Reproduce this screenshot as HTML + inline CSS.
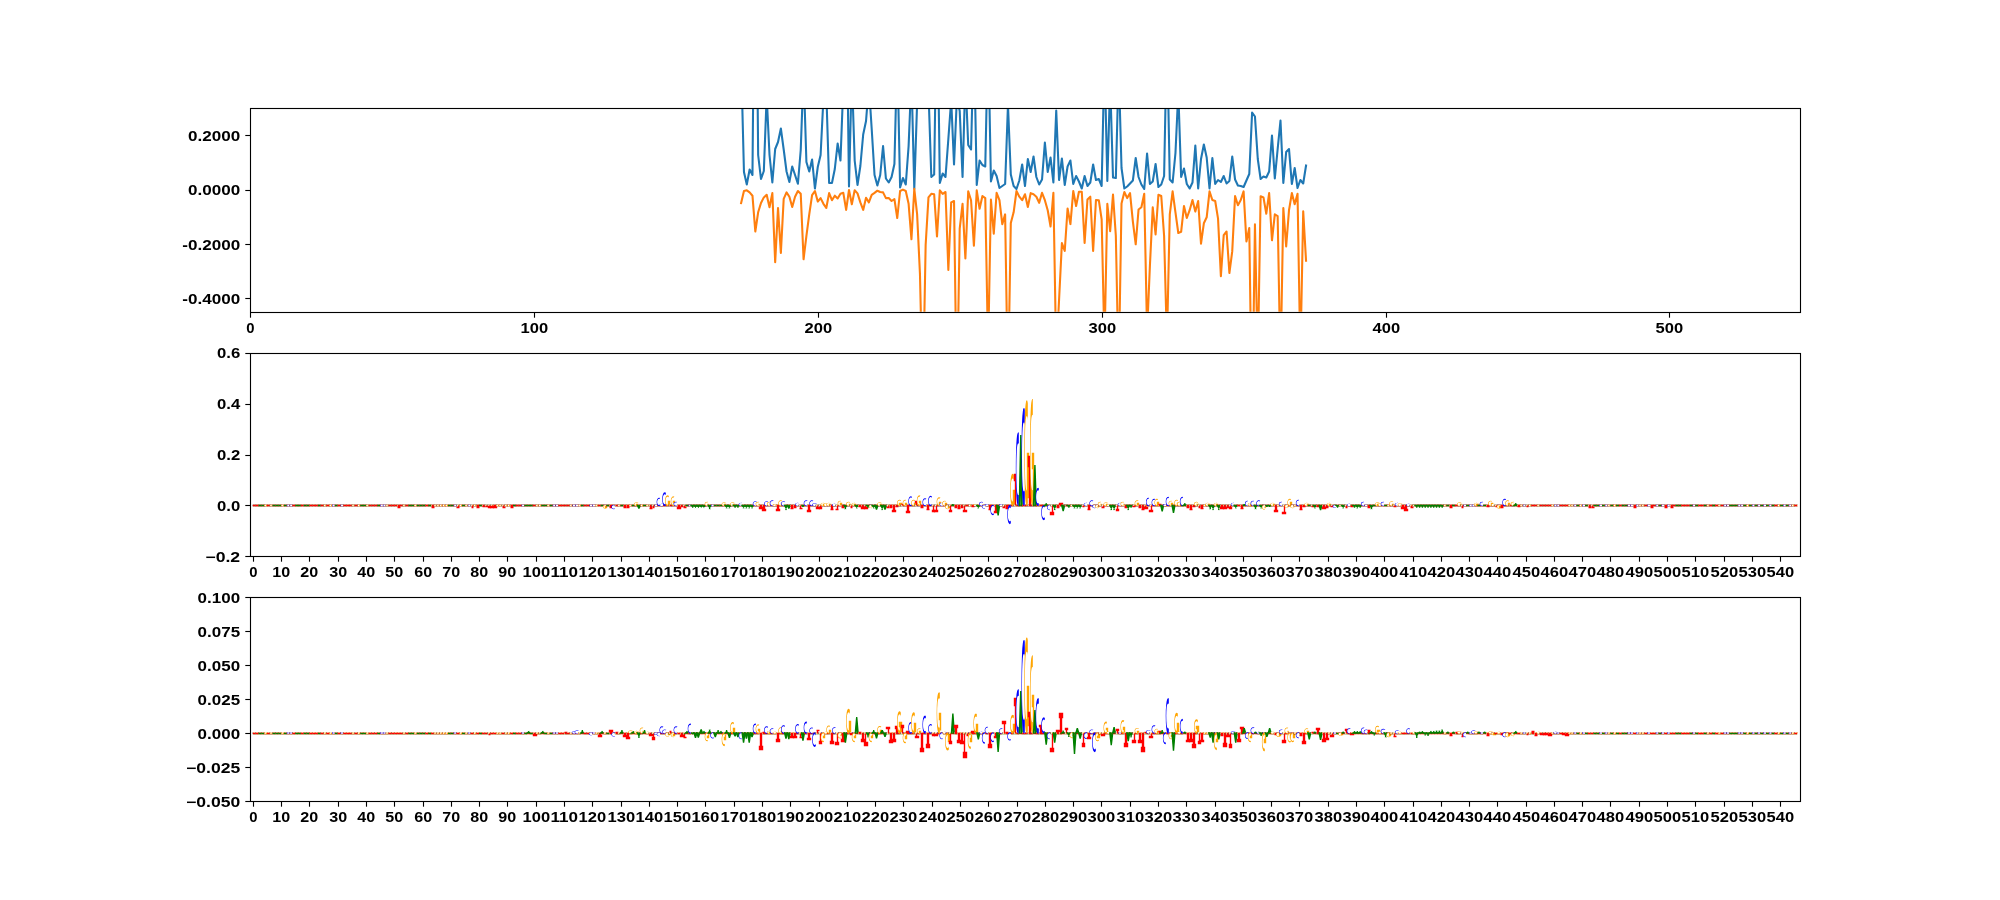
<!DOCTYPE html><html><head><meta charset="utf-8"><title>plot</title><style>html,body{margin:0;padding:0;background:#fff}svg{display:block}text{font-family:"Liberation Sans",sans-serif;font-weight:bold;font-size:13.89px;fill:#000}</style></head><body>
<svg width="2000" height="900" viewBox="0 0 2000 900">
<rect width="2000" height="900" fill="#fff"/>
<defs><clipPath id="c0"><rect x="250" y="108" width="1550" height="203.82"/></clipPath><clipPath id="c1"><rect x="250" y="352.59" width="1550" height="203.82"/></clipPath><clipPath id="c2"><rect x="250" y="597.18" width="1550" height="203.82"/></clipPath><g id="A" stroke-width="1.389"><path d="M0 0L0.5 1L0.5 0.8L0.2 0ZM1 0L0.5 1L0.5 0.8L0.8 0ZM0.225 0.45L0.775 0.45L0.85 0.3L0.15 0.3Z" fill="#008000" stroke="#008000" vector-effect="non-scaling-stroke"/></g><g id="C" stroke-width="1.389"><path d="M0 0.5A0.65 0.5 0 1 0 1.3 0.5A0.65 0.5 0 1 0 0 0.5Z" fill="#0000ff" stroke="#0000ff" vector-effect="non-scaling-stroke"/><path d="M0.195 0.5A0.455 0.35 0 1 0 1.105 0.5A0.455 0.35 0 1 0 0.195 0.5ZM1 0L2 0L2 1L1 1Z" fill="#fff" stroke="#fff" vector-effect="non-scaling-stroke"/></g><g id="G" stroke-width="1.389"><path d="M0 0.5A0.65 0.5 0 1 0 1.3 0.5A0.65 0.5 0 1 0 0 0.5Z" fill="#ffa500" stroke="#ffa500" vector-effect="non-scaling-stroke"/><path d="M0.195 0.5A0.455 0.35 0 1 0 1.105 0.5A0.455 0.35 0 1 0 0.195 0.5ZM1 0L2 0L2 1L1 1Z" fill="#fff" stroke="#fff" vector-effect="non-scaling-stroke"/><path d="M0.825 0.085L0.999 0.085L0.999 0.5L0.825 0.5ZM0.625 0.35L0.999 0.35L0.999 0.5L0.625 0.5Z" fill="#ffa500" stroke="#ffa500" vector-effect="non-scaling-stroke"/></g><g id="T" stroke-width="1.389"><path d="M0.4 0L0.6 0L0.6 1L0.4 1ZM0 0.8L1 0.8L1 1L0 1Z" fill="#ff0000" stroke="#ff0000" vector-effect="non-scaling-stroke"/></g><g id="Ce" stroke-width="1.389"><path d="M0 0.5A0.65 0.5 0 1 0 1.3 0.5A0.65 0.5 0 1 0 0 0.5Z" fill="#0000ff" stroke="#0000ff" vector-effect="non-scaling-stroke"/><path d="M0.195 0.5A0.455 0.35 0 1 0 1.105 0.5A0.455 0.35 0 1 0 0.195 0.5Z" fill="#fff" stroke="#fff" vector-effect="non-scaling-stroke"/></g><g id="Ge" stroke-width="1.389"><path d="M0 0.5A0.65 0.5 0 1 0 1.3 0.5A0.65 0.5 0 1 0 0 0.5Z" fill="#ffa500" stroke="#ffa500" vector-effect="non-scaling-stroke"/><path d="M0.195 0.5A0.455 0.35 0 1 0 1.105 0.5A0.455 0.35 0 1 0 0.195 0.5Z" fill="#fff" stroke="#fff" vector-effect="non-scaling-stroke"/></g><g id="u1A" stroke-width="1.389" fill="none"><path d="M0 -0.04H3.68" stroke="#0000ff"/><path d="M0.55 -0.04H3.13" stroke="#fff"/><path d="M2.83 0H5.66" stroke="#fff"/><path d="M0 -0.04H3.68" stroke="#ffa500"/><path d="M0.55 -0.04H3.13" stroke="#fff"/><path d="M2.83 0H5.66" stroke="#fff"/><path d="M1.77 0H2.83" stroke="#ffa500"/><path d="M0 0H2.83" stroke="#ff0000"/></g><g id="f1A" stroke-width="1.389" fill="none"><path d="M0 -0.04H3.68" stroke="#0000ff"/><path d="M0.55 -0.04H3.13" stroke="#fff"/><path d="M2.83 0H5.66" stroke="#fff"/><path d="M0 -0.04H3.68" stroke="#ffa500"/><path d="M0.55 -0.04H3.13" stroke="#fff"/><path d="M2.83 0H5.66" stroke="#fff"/><path d="M1.77 0H2.83" stroke="#ffa500"/><path d="M0 0H2.83" stroke="#ff0000"/><path d="M0 0H2.83" stroke="#008000"/></g><g id="u1C" stroke-width="1.389" fill="none"><path d="M0 0H2.83" stroke="#008000"/><path d="M0 -0.04H3.68" stroke="#ffa500"/><path d="M0.55 -0.04H3.13" stroke="#fff"/><path d="M2.83 0H5.66" stroke="#fff"/><path d="M1.77 0H2.83" stroke="#ffa500"/><path d="M0 0H2.83" stroke="#ff0000"/></g><g id="f1C" stroke-width="1.389" fill="none"><path d="M0 0H2.83" stroke="#008000"/><path d="M0 -0.04H3.68" stroke="#ffa500"/><path d="M0.55 -0.04H3.13" stroke="#fff"/><path d="M2.83 0H5.66" stroke="#fff"/><path d="M1.77 0H2.83" stroke="#ffa500"/><path d="M0 0H2.83" stroke="#ff0000"/><path d="M0 -0.04H3.68" stroke="#0000ff"/><path d="M0.55 -0.04H3.13" stroke="#fff"/><path d="M2.83 0H5.66" stroke="#fff"/></g><g id="u1G" stroke-width="1.389" fill="none"><path d="M0 0H2.83" stroke="#008000"/><path d="M0 -0.04H3.68" stroke="#0000ff"/><path d="M0.55 -0.04H3.13" stroke="#fff"/><path d="M2.83 0H5.66" stroke="#fff"/><path d="M0 0H2.83" stroke="#ff0000"/></g><g id="f1G" stroke-width="1.389" fill="none"><path d="M0 0H2.83" stroke="#008000"/><path d="M0 -0.04H3.68" stroke="#0000ff"/><path d="M0.55 -0.04H3.13" stroke="#fff"/><path d="M2.83 0H5.66" stroke="#fff"/><path d="M0 0H2.83" stroke="#ff0000"/><path d="M0 -0.04H3.68" stroke="#ffa500"/><path d="M0.55 -0.04H3.13" stroke="#fff"/><path d="M2.83 0H5.66" stroke="#fff"/><path d="M1.77 0H2.83" stroke="#ffa500"/></g><g id="u1T" stroke-width="1.389" fill="none"><path d="M0 0H2.83" stroke="#008000"/><path d="M0 -0.04H3.68" stroke="#0000ff"/><path d="M0.55 -0.04H3.13" stroke="#fff"/><path d="M2.83 0H5.66" stroke="#fff"/><path d="M0 -0.04H3.68" stroke="#ffa500"/><path d="M0.55 -0.04H3.13" stroke="#fff"/><path d="M2.83 0H5.66" stroke="#fff"/><path d="M1.77 0H2.83" stroke="#ffa500"/></g><g id="f1T" stroke-width="1.389" fill="none"><path d="M0 0H2.83" stroke="#008000"/><path d="M0 -0.04H3.68" stroke="#0000ff"/><path d="M0.55 -0.04H3.13" stroke="#fff"/><path d="M2.83 0H5.66" stroke="#fff"/><path d="M0 -0.04H3.68" stroke="#ffa500"/><path d="M0.55 -0.04H3.13" stroke="#fff"/><path d="M2.83 0H5.66" stroke="#fff"/><path d="M1.77 0H2.83" stroke="#ffa500"/><path d="M0 0H2.83" stroke="#ff0000"/></g><g id="u2A" stroke-width="1.389" fill="none"><path d="M0 -0.44H3.68" stroke="#0000ff"/><path d="M0.55 -0.44H3.13" stroke="#fff"/><path d="M2.83 0H5.66" stroke="#fff"/><path d="M0 -0.44H3.68" stroke="#ffa500"/><path d="M0.55 -0.44H3.13" stroke="#fff"/><path d="M2.83 0H5.66" stroke="#fff"/><path d="M1.77 0H2.83" stroke="#ffa500"/><path d="M0 0H2.83" stroke="#ff0000"/></g><g id="f2A" stroke-width="1.389" fill="none"><path d="M0 -0.44H3.68" stroke="#0000ff"/><path d="M0.55 -0.44H3.13" stroke="#fff"/><path d="M2.83 0H5.66" stroke="#fff"/><path d="M0 -0.44H3.68" stroke="#ffa500"/><path d="M0.55 -0.44H3.13" stroke="#fff"/><path d="M2.83 0H5.66" stroke="#fff"/><path d="M1.77 0H2.83" stroke="#ffa500"/><path d="M0 0H2.83" stroke="#ff0000"/><path d="M0 0H2.83" stroke="#008000"/></g><g id="u2C" stroke-width="1.389" fill="none"><path d="M0 0H2.83" stroke="#008000"/><path d="M0 -0.44H3.68" stroke="#ffa500"/><path d="M0.55 -0.44H3.13" stroke="#fff"/><path d="M2.83 0H5.66" stroke="#fff"/><path d="M1.77 0H2.83" stroke="#ffa500"/><path d="M0 0H2.83" stroke="#ff0000"/></g><g id="f2C" stroke-width="1.389" fill="none"><path d="M0 0H2.83" stroke="#008000"/><path d="M0 -0.44H3.68" stroke="#ffa500"/><path d="M0.55 -0.44H3.13" stroke="#fff"/><path d="M2.83 0H5.66" stroke="#fff"/><path d="M1.77 0H2.83" stroke="#ffa500"/><path d="M0 0H2.83" stroke="#ff0000"/><path d="M0 -0.44H3.68" stroke="#0000ff"/><path d="M0.55 -0.44H3.13" stroke="#fff"/><path d="M2.83 0H5.66" stroke="#fff"/></g><g id="u2G" stroke-width="1.389" fill="none"><path d="M0 0H2.83" stroke="#008000"/><path d="M0 -0.44H3.68" stroke="#0000ff"/><path d="M0.55 -0.44H3.13" stroke="#fff"/><path d="M2.83 0H5.66" stroke="#fff"/><path d="M0 0H2.83" stroke="#ff0000"/></g><g id="f2G" stroke-width="1.389" fill="none"><path d="M0 0H2.83" stroke="#008000"/><path d="M0 -0.44H3.68" stroke="#0000ff"/><path d="M0.55 -0.44H3.13" stroke="#fff"/><path d="M2.83 0H5.66" stroke="#fff"/><path d="M0 0H2.83" stroke="#ff0000"/><path d="M0 -0.44H3.68" stroke="#ffa500"/><path d="M0.55 -0.44H3.13" stroke="#fff"/><path d="M2.83 0H5.66" stroke="#fff"/><path d="M1.77 0H2.83" stroke="#ffa500"/></g><g id="u2T" stroke-width="1.389" fill="none"><path d="M0 0H2.83" stroke="#008000"/><path d="M0 -0.44H3.68" stroke="#0000ff"/><path d="M0.55 -0.44H3.13" stroke="#fff"/><path d="M2.83 0H5.66" stroke="#fff"/><path d="M0 -0.44H3.68" stroke="#ffa500"/><path d="M0.55 -0.44H3.13" stroke="#fff"/><path d="M2.83 0H5.66" stroke="#fff"/><path d="M1.77 0H2.83" stroke="#ffa500"/></g><g id="f2T" stroke-width="1.389" fill="none"><path d="M0 0H2.83" stroke="#008000"/><path d="M0 -0.44H3.68" stroke="#0000ff"/><path d="M0.55 -0.44H3.13" stroke="#fff"/><path d="M2.83 0H5.66" stroke="#fff"/><path d="M0 -0.44H3.68" stroke="#ffa500"/><path d="M0.55 -0.44H3.13" stroke="#fff"/><path d="M2.83 0H5.66" stroke="#fff"/><path d="M1.77 0H2.83" stroke="#ffa500"/><path d="M0 0H2.83" stroke="#ff0000"/></g></defs>
<g clip-path="url(#c0)" fill="none" stroke-width="2.083" stroke-linejoin="round" stroke-linecap="square">
<path d="M741.12 60L743.96 172L746.79 184.5L749.63 169.5L752.47 175L755.31 -150L758.15 155L760.99 179L763.83 171L766.67 96L769.51 155L772.34 182.5L775.18 149L778.02 142L780.86 128.5L783.7 149.5L786.54 171.5L789.38 182L792.22 166.5L795.05 175L797.89 183.8L800.73 150L803.57 71L806.41 162L809.25 171.5L812.09 159.5L814.93 188.5L817.77 167L820.6 155L823.44 98L826.28 91L829.12 183L831.96 183L834.8 169L837.64 143.5L840.48 160.5L843.32 85L846.15 -33L848.99 186.5L851.83 72L854.67 160.5L857.51 185L860.35 166L863.19 134.5L866.03 121L868.86 85L871.7 129L874.54 175L877.38 185.5L880.22 175L883.06 146L885.9 178.5L888.74 182.5L891.58 177L894.41 164L897.25 51L900.09 187.5L902.93 178L905.77 184.5L908.61 146L911.45 76L914.29 189L917.12 103L919.96 40L922.8 20L925.64 30L928.48 91L931.32 177L934.16 174.5L937 -20L939.84 183L942.67 173.5L945.51 177L948.35 139L951.19 100L954.03 164.5L956.87 98L959.71 111L962.55 177L965.38 77L968.22 145L971.06 149.5L973.9 35L976.74 185L979.58 160.5L982.42 165L985.26 166.5L988.1 32L990.93 181.5L993.77 170.5L996.61 176L999.45 188L1002.29 186L1005.13 184L1007.97 105L1010.81 174.5L1013.64 186L1016.48 189L1019.32 180.5L1022.16 164.5L1025 186L1027.84 159L1030.68 172L1033.52 156.5L1036.36 177L1039.19 184.5L1042.03 179.5L1044.87 142.5L1047.71 172L1050.55 157.5L1053.39 182.5L1056.23 110.5L1059.07 180L1061.9 158.5L1064.74 185L1067.58 166.5L1070.42 160.5L1073.26 184L1076.1 176L1078.94 181.5L1081.78 188.5L1084.62 176L1087.45 186L1090.29 182.5L1093.13 164.5L1095.97 180L1098.81 179L1101.65 186L1104.49 56L1107.33 181L1110.16 82L1113 177.5L1115.84 178L1118.68 66L1121.52 168L1124.36 188.5L1127.2 186.5L1130.04 183.5L1132.88 180.5L1135.71 158L1138.55 177L1141.39 184.5L1144.23 189L1147.07 153.5L1149.91 184L1152.75 181.5L1155.59 164L1158.42 187L1161.26 184.5L1164.1 176L1166.94 31L1169.78 179.5L1172.62 182.5L1175.46 153L1178.3 92L1181.14 177L1183.97 168.5L1186.81 184L1189.65 188.5L1192.49 182.5L1195.33 145.5L1198.17 188.5L1201.01 159L1203.85 144.5L1206.68 157.5L1209.52 188.5L1212.36 158L1215.2 184L1218.04 180L1220.88 182L1223.72 176L1226.56 183.5L1229.4 181L1232.23 156.5L1235.07 179.5L1237.91 185.5L1240.75 186L1243.59 187L1246.43 180.5L1249.27 174L1252.11 112.5L1254.95 116.5L1257.78 159L1260.62 179L1263.46 176.5L1266.3 177.5L1269.14 171.5L1271.98 135.5L1274.82 178.5L1277.66 149L1280.49 120.5L1283.33 183L1286.17 152L1289.01 149L1291.85 184L1294.69 168L1297.53 188L1300.37 180L1303.21 183.5L1306.04 165.5" stroke="#1f77b4"/>
<path d="M741.12 203.1L743.96 191L746.79 190.3L749.63 192.4L752.47 195.7L755.31 231.5L758.15 212.3L760.99 203L763.83 197.4L766.67 194.8L769.51 207.3L772.34 193.1L775.18 262.1L778.02 208L780.86 252.9L783.7 198.8L786.54 192.4L789.38 196.7L792.22 207L795.05 196.7L797.89 191L800.73 193.8L803.57 259.3L806.41 235.8L809.25 214.4L812.09 195.2L814.93 191L817.77 201.6L820.6 198.1L823.44 203.8L826.28 208L829.12 193.1L831.96 200.2L834.8 195.7L837.64 198.5L840.48 193.8L843.32 192.8L846.15 209.9L848.99 190L851.83 204.2L854.67 190.3L857.51 193.4L860.35 202.4L863.19 209.9L866.03 197.7L868.86 202.4L871.7 194.8L874.54 192.8L877.38 190.7L880.22 192L883.06 192.4L885.9 198.1L888.74 198.1L891.58 201L894.41 199.1L897.25 218L900.09 191L902.93 189.6L905.77 191L908.61 203.8L911.45 239.3L914.29 188.8L917.12 214.4L919.96 274L922.8 400L925.64 245L928.48 197.4L931.32 193.8L934.16 194.3L937 236.5L939.84 190.3L942.67 193.8L945.51 192L948.35 270L951.19 202.4L954.03 201L956.87 406L959.71 228.7L962.55 203.8L965.38 258.5L968.22 191.4L971.06 200.2L973.9 245.7L976.74 190.3L979.58 208.8L982.42 196L985.26 198.1L988.1 352.4L990.93 199.5L993.77 233.7L996.61 192.8L999.45 200.2L1002.29 224.1L1005.13 214.4L1007.97 392L1010.81 223L1013.64 212.3L1016.48 191L1019.32 196.7L1022.16 200.2L1025 194.3L1027.84 207L1030.68 193.1L1033.52 194.3L1036.36 196.7L1039.19 202.8L1042.03 192.8L1044.87 200.2L1047.71 210.2L1050.55 226.5L1053.39 192.8L1056.23 357L1059.07 299.8L1061.9 243L1064.74 251L1067.58 208.5L1070.42 224.1L1073.26 191L1076.1 206L1078.94 191.7L1081.78 191.7L1084.62 243L1087.45 199.5L1090.29 196.7L1093.13 251L1095.97 200L1098.81 200.2L1101.65 219.4L1104.49 345.3L1107.33 203.8L1110.16 231.2L1113 194.5L1115.84 235.8L1118.68 375L1121.52 203.5L1124.36 192L1127.2 198.1L1130.04 193.1L1132.88 221.6L1135.71 244.3L1138.55 209.5L1141.39 207.3L1144.23 193.8L1147.07 332.5L1149.91 265.7L1152.75 207.3L1155.59 234.4L1158.42 194.8L1161.26 196L1164.1 235.8L1166.94 342.5L1169.78 214.4L1172.62 191.4L1175.46 212.3L1178.3 233L1181.14 231.8L1183.97 206L1186.81 218L1189.65 210.2L1192.49 200L1195.33 211.6L1198.17 201L1201.01 243.6L1203.85 223.3L1206.68 217.3L1209.52 191.4L1212.36 200L1215.2 201L1218.04 218.7L1220.88 276.3L1223.72 235.1L1226.56 231.5L1229.4 273L1232.23 251.4L1235.07 196L1237.91 205.2L1240.75 200L1243.59 191.4L1246.43 241.5L1249.27 228L1252.11 428L1254.95 224.4L1257.78 364L1260.62 196.2L1263.46 197.4L1266.3 213.7L1269.14 193.1L1271.98 240.3L1274.82 214.4L1277.66 216.2L1280.49 369.5L1283.33 208L1286.17 246.5L1289.01 210.2L1291.85 193.1L1294.69 204.2L1297.53 193.8L1300.37 358L1303.21 211.3L1306.04 260.7" stroke="#ff7f0e"/>
</g>
<rect x="250.5" y="108.5" width="1550" height="204" fill="none" stroke="#000" stroke-width="1.111"/>
<path d="M250.5 312.5v5.2" stroke="#000" stroke-width="1.111"/>
<path d="M534.5 312.5v5.2" stroke="#000" stroke-width="1.111"/>
<path d="M818.5 312.5v5.2" stroke="#000" stroke-width="1.111"/>
<path d="M1102.5 312.5v5.2" stroke="#000" stroke-width="1.111"/>
<path d="M1386.5 312.5v5.2" stroke="#000" stroke-width="1.111"/>
<path d="M1669.5 312.5v5.2" stroke="#000" stroke-width="1.111"/>
<path d="M250.5 135.5h-5.2" stroke="#000" stroke-width="1.111"/>
<path d="M250.5 190.5h-5.2" stroke="#000" stroke-width="1.111"/>
<path d="M250.5 244.5h-5.2" stroke="#000" stroke-width="1.111"/>
<path d="M250.5 298.5h-5.2" stroke="#000" stroke-width="1.111"/>
<g clip-path="url(#c1)" stroke-width="1.389"><use href="#f1T" x="252.83" y="505.5"/><use href="#f1T" x="255.66" y="505.5"/><use href="#f1A" x="258.49" y="505.5"/><use href="#f1A" x="261.31" y="505.5"/><use href="#f1G" x="264.14" y="505.5"/><use href="#f1T" x="266.97" y="505.5"/><use href="#f1G" x="269.8" y="505.5"/><use href="#f1A" x="272.63" y="505.5"/><use href="#f1A" x="275.46" y="505.5"/><use href="#f1A" x="278.28" y="505.5"/><use href="#f1G" x="281.11" y="505.5"/><use href="#f1A" x="283.94" y="505.5"/><use href="#f1C" x="286.77" y="505.5"/><use href="#f1C" x="289.6" y="505.5"/><use href="#f1T" x="292.43" y="505.5"/><use href="#f1A" x="295.26" y="505.5"/><use href="#f1A" x="298.08" y="505.5"/><use href="#f1T" x="300.91" y="505.5"/><use href="#f1A" x="303.74" y="505.5"/><use href="#f1A" x="306.57" y="505.5"/><use href="#f1T" x="309.4" y="505.5"/><use href="#f1T" x="312.23" y="505.5"/><use href="#f1T" x="315.05" y="505.5"/><use href="#f1A" x="317.88" y="505.5"/><use href="#f1T" x="320.71" y="505.5"/><use href="#f1G" x="323.54" y="505.5"/><use href="#f1T" x="326.37" y="505.5"/><use href="#f1G" x="329.2" y="505.5"/><use href="#f1C" x="332.03" y="505.5"/><use href="#f1A" x="334.85" y="505.5"/><use href="#f1T" x="337.68" y="505.5"/><use href="#f1C" x="340.51" y="505.5"/><use href="#f1T" x="343.34" y="505.5"/><use href="#f1T" x="346.17" y="505.5"/><use href="#f1T" x="349" y="505.5"/><use href="#f1G" x="351.82" y="505.5"/><use href="#f1T" x="354.65" y="505.5"/><use href="#f1G" x="357.48" y="505.5"/><use href="#f1A" x="360.31" y="505.5"/><use href="#f1A" x="363.14" y="505.5"/><use href="#f1G" x="365.97" y="505.5"/><use href="#f1T" x="368.8" y="505.5"/><use href="#f1T" x="371.62" y="505.5"/><use href="#f1T" x="374.45" y="505.5"/><use href="#f1A" x="377.28" y="505.5"/><use href="#f1C" x="380.11" y="505.5"/><use href="#f1C" x="382.94" y="505.5"/><use href="#f1G" x="385.77" y="505.5"/><use href="#f1T" x="388.59" y="505.5"/><use href="#f1T" x="391.42" y="505.5"/><use href="#f1T" x="394.25" y="505.5"/><use href="#u1T" x="397.08" y="505.5"/><path d="M398.5 505.5H399.5V507.5H398.5ZM397.5 507.5H400.5" fill="#ff0000" stroke="#ff0000"/><use href="#f1T" x="399.91" y="505.5"/><use href="#f1G" x="402.74" y="505.5"/><use href="#f1T" x="405.57" y="505.5"/><use href="#f1A" x="408.39" y="505.5"/><use href="#f1A" x="411.22" y="505.5"/><use href="#f1G" x="414.05" y="505.5"/><use href="#f1A" x="416.88" y="505.5"/><use href="#f1A" x="419.71" y="505.5"/><use href="#f1A" x="422.54" y="505.5"/><use href="#f1T" x="425.36" y="505.5"/><use href="#f1A" x="428.19" y="505.5"/><use href="#u1T" x="431.02" y="505.5"/><path d="M432.5 505.5H433.5V507.5H432.5ZM431.5 507.5H434.5" fill="#ff0000" stroke="#ff0000"/><use href="#f1G" x="433.85" y="505.5"/><use href="#f1G" x="436.68" y="505.5"/><use href="#f1G" x="439.51" y="505.5"/><use href="#f1G" x="442.34" y="505.5"/><use href="#f1G" x="445.16" y="505.5"/><use href="#f1A" x="447.99" y="505.5"/><use href="#f1A" x="450.82" y="505.5"/><use href="#f1C" x="453.65" y="505.5"/><use href="#u1T" x="456.48" y="505.5"/><path d="M458.5 505.5V507.5M456.5 507.5H459.5" fill="#ff0000" stroke="#ff0000"/><use href="#f1G" x="459.31" y="505.5"/><use href="#f1A" x="462.14" y="505.5"/><use href="#f1G" x="464.96" y="505.5"/><use href="#f1C" x="467.79" y="505.5"/><use href="#u1T" x="470.62" y="505.5"/><path d="M472.5 505.5V507.5M471.5 507.5H473.5" fill="#ff0000" stroke="#ff0000"/><use href="#f1G" x="473.45" y="505.5"/><use href="#u1T" x="476.28" y="505.5"/><path d="M477.5 505.5H478.5V507.5H477.5ZM476.5 507.5H479.5" fill="#ff0000" stroke="#ff0000"/><use href="#f1A" x="479.11" y="505.5"/><use href="#u1T" x="481.93" y="505.5"/><path d="M483.5 505.5H484.5V506.5H483.5ZM482.5 506.5H485.5" fill="#ff0000" stroke="#ff0000"/><use href="#u1T" x="484.76" y="505.5"/><path d="M486.5 505.5V506.5M485.5 506.5H488.5" fill="#ff0000" stroke="#ff0000"/><use href="#u1T" x="487.59" y="505.5"/><path d="M489.5 505.5V507.5M488.5 506.5H490.5V507.5H488.5Z" fill="#ff0000" stroke="#ff0000"/><use href="#u1T" x="490.42" y="505.5"/><path d="M492.5 505.5V507.5M490.5 506.5H493.5V507.5H490.5Z" fill="#ff0000" stroke="#ff0000"/><use href="#u1T" x="493.25" y="505.5"/><path d="M494.5 505.5H495.5V507.5H494.5ZM493.5 506.5H496.5V507.5H493.5Z" fill="#ff0000" stroke="#ff0000"/><use href="#f1G" x="496.08" y="505.5"/><use href="#f1G" x="498.91" y="505.5"/><use href="#u1T" x="501.73" y="505.5"/><path d="M503.5 505.5V507.5M502.5 507.5H505.5" fill="#ff0000" stroke="#ff0000"/><use href="#f1G" x="504.56" y="505.5"/><use href="#f1G" x="507.39" y="505.5"/><use href="#u1T" x="510.22" y="505.5"/><path d="M511.5 505.5H512.5V507.5H511.5ZM510.5 507.5H513.5" fill="#ff0000" stroke="#ff0000"/><use href="#f1A" x="513.05" y="505.5"/><use href="#f1T" x="515.88" y="505.5"/><use href="#f1T" x="518.7" y="505.5"/><use href="#f1C" x="521.53" y="505.5"/><use href="#f1A" x="524.36" y="505.5"/><use href="#f1A" x="527.19" y="505.5"/><use href="#f1A" x="530.02" y="505.5"/><use href="#f1T" x="532.85" y="505.5"/><use href="#f1G" x="535.68" y="505.5"/><use href="#f1G" x="538.5" y="505.5"/><use href="#f1A" x="541.33" y="505.5"/><use href="#f1A" x="544.16" y="505.5"/><use href="#f1G" x="546.99" y="505.5"/><use href="#f1A" x="549.82" y="505.5"/><use href="#f1C" x="552.65" y="505.5"/><use href="#f1C" x="555.47" y="505.5"/><use href="#f1T" x="558.3" y="505.5"/><use href="#f1T" x="561.13" y="505.5"/><use href="#f1T" x="563.96" y="505.5"/><use href="#f1T" x="566.79" y="505.5"/><use href="#f1G" x="569.62" y="505.5"/><use href="#f1C" x="572.45" y="505.5"/><use href="#f1C" x="575.27" y="505.5"/><use href="#f1G" x="578.1" y="505.5"/><use href="#f1A" x="580.93" y="505.5"/><use href="#f1T" x="583.76" y="505.5"/><use href="#f1T" x="586.59" y="505.5"/><use href="#f1C" x="589.42" y="505.5"/><use href="#f1C" x="592.24" y="505.5"/><use href="#f1G" x="595.07" y="505.5"/><use href="#f1T" x="597.9" y="505.5"/><use href="#f1A" x="600.73" y="505.5"/><use href="#u1G" x="603.56" y="505.5"/><use href="#Ge" transform="matrix(2.83 0 0 2.5 603.56 505.46)"/><path d="M606.5 505.5H609.5V508.5H606.5Z" fill="#fff" stroke="#fff"/><path d="M606.5 506.5V507.5M605.5 506.5H606.5V507.5H605.5Z" fill="#ffa500" stroke="#ffa500"/><use href="#f1A" x="606.39" y="505.5"/><use href="#u1T" x="609.22" y="505.5"/><path d="M610.5 505.5H611.5V507.5H610.5ZM609.5 507.5H612.5" fill="#ff0000" stroke="#ff0000"/><use href="#u1C" x="612.04" y="505.5"/><use href="#Ce" transform="matrix(2.83 0 0 3 612.04 505.46)"/><path d="M615.5 505.5H618.5V508.5H615.5Z" fill="#fff" stroke="#fff"/><use href="#u1T" x="614.87" y="505.5"/><path d="M616.5 505.5H617.5M615.5 505.5H618.5" fill="#ff0000" stroke="#ff0000"/><use href="#f1G" x="617.7" y="505.5"/><use href="#f1A" x="620.53" y="505.5"/><use href="#u1T" x="623.36" y="505.5"/><path d="M624.5 505.5H625.5V507.5H624.5ZM623.5 507.5H626.5" fill="#ff0000" stroke="#ff0000"/><use href="#u1T" x="626.19" y="505.5"/><path d="M627.5 505.5H628.5V507.5H627.5ZM626.5 507.5H629.5" fill="#ff0000" stroke="#ff0000"/><use href="#f1G" x="629.01" y="505.5"/><use href="#f1A" x="631.84" y="505.5"/><use href="#u1G" x="634.67" y="505.5"/><use href="#Ge" transform="matrix(2.83 0 0 -2.5 634.67 505.46)"/><path d="M638.5 505.5H640.5V503.5H638.5Z" fill="#fff" stroke="#fff"/><path d="M637.5 505.5V504.5M636.5 505.5H637.5V504.5H636.5Z" fill="#ffa500" stroke="#ffa500"/><use href="#u1A" x="637.5" y="505.5"/><use href="#A" transform="matrix(2.83 0 0 3 637.5 505.46)"/><use href="#f1G" x="640.33" y="505.5"/><use href="#f1A" x="643.16" y="505.5"/><use href="#f1G" x="645.99" y="505.5"/><use href="#u1T" x="648.81" y="505.5"/><path d="M650.5 505.5H651.5V508.5H650.5ZM649.5 508.5H652.5" fill="#ff0000" stroke="#ff0000"/><use href="#u1T" x="651.64" y="505.5"/><path d="M653.5 505.5V507.5M652.5 507.5H654.5" fill="#ff0000" stroke="#ff0000"/><use href="#f1C" x="654.47" y="505.5"/><use href="#u1C" x="657.3" y="505.5"/><use href="#Ce" transform="matrix(2.83 0 0 -7 657.3 505.46)"/><path d="M660.5 505.5H663.5V498.5H660.5Z" fill="#fff" stroke="#fff"/><use href="#u1C" x="660.13" y="505.5"/><use href="#Ce" transform="matrix(2.83 0 0 -1 660.13 505.46)"/><path d="M663.5 505.5H666.5V504.5H663.5Z" fill="#fff" stroke="#fff"/><use href="#u1C" x="662.96" y="505.5"/><use href="#Ce" transform="matrix(2.83 0 0 -12.5 662.96 505.46)"/><path d="M666.5 505.5H669.5V493.5H666.5Z" fill="#fff" stroke="#fff"/><use href="#u1G" x="665.78" y="505.5"/><use href="#Ge" transform="matrix(2.83 0 0 -9.5 665.78 505.46)"/><path d="M669.5 505.5H671.5V496.5H669.5Z" fill="#fff" stroke="#fff"/><path d="M668.5 505.5H669.5V501.5H668.5ZM668.5 502.5H669.5V501.5H668.5Z" fill="#ffa500" stroke="#ffa500"/><use href="#u1T" x="668.61" y="505.5"/><path d="M669.5 505.5H671.5" fill="#ff0000" stroke="#ff0000"/><use href="#u1G" x="671.44" y="505.5"/><use href="#Ge" transform="matrix(2.83 0 0 -8.5 671.44 505.46)"/><path d="M674.5 505.5H677.5V497.5H674.5Z" fill="#fff" stroke="#fff"/><path d="M674.5 505.5V501.5M673.5 502.5H674.5V501.5H673.5Z" fill="#ffa500" stroke="#ffa500"/><use href="#u1C" x="674.27" y="505.5"/><use href="#Ce" transform="matrix(2.83 0 0 -3 674.27 505.46)"/><path d="M677.5 505.5H680.5V502.5H677.5Z" fill="#fff" stroke="#fff"/><use href="#u1T" x="677.1" y="505.5"/><path d="M678.5 505.5H679.5V508.5H678.5ZM677.5 507.5H680.5V508.5H677.5Z" fill="#ff0000" stroke="#ff0000"/><use href="#u1T" x="679.93" y="505.5"/><path d="M681.5 505.5H682.5V506.5H681.5ZM680.5 506.5H683.5" fill="#ff0000" stroke="#ff0000"/><use href="#u1T" x="682.76" y="505.5"/><path d="M684.5 505.5V507.5M683.5 507.5H686.5" fill="#ff0000" stroke="#ff0000"/><use href="#f1A" x="685.58" y="505.5"/><use href="#f1C" x="688.41" y="505.5"/><use href="#u1A" x="691.24" y="505.5"/><use href="#A" transform="matrix(2.83 0 0 1 691.24 505.46)"/><use href="#u1A" x="694.07" y="505.5"/><use href="#A" transform="matrix(2.83 0 0 1.2 694.07 505.46)"/><use href="#u1A" x="696.9" y="505.5"/><use href="#A" transform="matrix(2.83 0 0 1.2 696.9 505.46)"/><use href="#u1A" x="699.73" y="505.5"/><use href="#A" transform="matrix(2.83 0 0 1.2 699.73 505.46)"/><use href="#u1A" x="702.55" y="505.5"/><use href="#A" transform="matrix(2.83 0 0 1.2 702.55 505.46)"/><use href="#u1G" x="705.38" y="505.5"/><use href="#Ge" transform="matrix(2.83 0 0 -3 705.38 505.46)"/><path d="M708.5 505.5H711.5V502.5H708.5Z" fill="#fff" stroke="#fff"/><path d="M708.5 505.5V504.5M707.5 504.5H708.5" fill="#ffa500" stroke="#ffa500"/><use href="#u1A" x="708.21" y="505.5"/><use href="#A" transform="matrix(2.83 0 0 2 708.21 505.46)"/><use href="#f1C" x="711.04" y="505.5"/><use href="#f1A" x="713.87" y="505.5"/><use href="#f1A" x="716.7" y="505.5"/><use href="#f1A" x="719.53" y="505.5"/><use href="#u1G" x="722.35" y="505.5"/><use href="#Ge" transform="matrix(2.83 0 0 -2.5 722.35 505.46)"/><path d="M725.5 505.5H728.5V503.5H725.5Z" fill="#fff" stroke="#fff"/><path d="M725.5 505.5V504.5M724.5 505.5H725.5V504.5H724.5Z" fill="#ffa500" stroke="#ffa500"/><use href="#u1A" x="725.18" y="505.5"/><use href="#A" transform="matrix(2.83 0 0 1.5 725.18 505.46)"/><use href="#u1A" x="728.01" y="505.5"/><use href="#A" transform="matrix(2.83 0 0 1.5 728.01 505.46)"/><use href="#u1G" x="730.84" y="505.5"/><use href="#Ge" transform="matrix(2.83 0 0 -2.5 730.84 505.46)"/><path d="M734.5 505.5H736.5V503.5H734.5Z" fill="#fff" stroke="#fff"/><path d="M733.5 505.5H734.5V504.5H733.5ZM733.5 505.5H734.5V504.5H733.5Z" fill="#ffa500" stroke="#ffa500"/><use href="#u1A" x="733.67" y="505.5"/><use href="#A" transform="matrix(2.83 0 0 1 733.67 505.46)"/><use href="#u1A" x="736.5" y="505.5"/><use href="#A" transform="matrix(2.83 0 0 1 736.5 505.46)"/><use href="#u1C" x="739.32" y="505.5"/><use href="#Ce" transform="matrix(2.83 0 0 -2 739.32 505.46)"/><path d="M742.5 505.5H745.5V503.5H742.5Z" fill="#fff" stroke="#fff"/><use href="#u1A" x="742.15" y="505.5"/><use href="#A" transform="matrix(2.83 0 0 1.5 742.15 505.46)"/><use href="#u1A" x="744.98" y="505.5"/><use href="#A" transform="matrix(2.83 0 0 1.5 744.98 505.46)"/><use href="#u1A" x="747.81" y="505.5"/><use href="#A" transform="matrix(2.83 0 0 1.5 747.81 505.46)"/><use href="#u1A" x="750.64" y="505.5"/><use href="#A" transform="matrix(2.83 0 0 1.5 750.64 505.46)"/><use href="#u1C" x="753.47" y="505.5"/><use href="#Ce" transform="matrix(2.83 0 0 -3.5 753.47 505.46)"/><path d="M756.5 505.5H759.5V502.5H756.5Z" fill="#fff" stroke="#fff"/><use href="#u1G" x="756.3" y="505.5"/><use href="#Ge" transform="matrix(2.83 0 0 -3 756.3 505.46)"/><path d="M759.5 505.5H762.5V502.5H759.5Z" fill="#fff" stroke="#fff"/><path d="M759.5 505.5V504.5M758.5 504.5H759.5" fill="#ffa500" stroke="#ffa500"/><use href="#u1T" x="759.12" y="505.5"/><path d="M760.5 505.5H761.5V508.5H760.5ZM759.5 507.5H762.5V508.5H759.5Z" fill="#ff0000" stroke="#ff0000"/><use href="#u1T" x="761.95" y="505.5"/><path d="M763.5 505.5H764.5V510.5H763.5ZM762.5 509.5H765.5V510.5H762.5Z" fill="#ff0000" stroke="#ff0000"/><use href="#u1C" x="764.78" y="505.5"/><use href="#Ce" transform="matrix(2.83 0 0 -3.5 764.78 505.46)"/><path d="M768.5 505.5H770.5V502.5H768.5Z" fill="#fff" stroke="#fff"/><use href="#u1G" x="767.61" y="505.5"/><use href="#Ge" transform="matrix(2.83 0 0 -3 767.61 505.46)"/><path d="M770.5 505.5H773.5V502.5H770.5Z" fill="#fff" stroke="#fff"/><path d="M770.5 505.5V504.5M769.5 504.5H770.5" fill="#ffa500" stroke="#ffa500"/><use href="#u1C" x="770.44" y="505.5"/><use href="#Ce" transform="matrix(2.83 0 0 -4.5 770.44 505.46)"/><path d="M773.5 505.5H776.5V501.5H773.5Z" fill="#fff" stroke="#fff"/><use href="#u1G" x="773.27" y="505.5"/><use href="#Ge" transform="matrix(2.83 0 0 -0.5 773.27 505.46)"/><path d="M776.5 505.5H779.5" fill="#fff" stroke="#fff"/><path d="M775.5 505.5H776.5" fill="#ffa500" stroke="#ffa500"/><use href="#u1T" x="776.09" y="505.5"/><path d="M777.5 505.5H778.5V510.5H777.5ZM776.5 509.5H779.5V510.5H776.5Z" fill="#ff0000" stroke="#ff0000"/><use href="#u1G" x="778.92" y="505.5"/><use href="#Ge" transform="matrix(2.83 0 0 -4.5 778.92 505.46)"/><path d="M782.5 505.5H785.5V501.5H782.5Z" fill="#fff" stroke="#fff"/><path d="M781.5 505.5H782.5V503.5H781.5ZM781.5 504.5H782.5V503.5H781.5Z" fill="#ffa500" stroke="#ffa500"/><use href="#u1C" x="781.75" y="505.5"/><use href="#Ce" transform="matrix(2.83 0 0 -3.5 781.75 505.46)"/><path d="M785.5 505.5H787.5V502.5H785.5Z" fill="#fff" stroke="#fff"/><use href="#u1A" x="784.58" y="505.5"/><use href="#A" transform="matrix(2.83 0 0 2.5 784.58 505.46)"/><use href="#u1A" x="787.41" y="505.5"/><use href="#A" transform="matrix(2.83 0 0 3 787.41 505.46)"/><use href="#u1T" x="790.24" y="505.5"/><path d="M791.5 505.5H792.5V508.5H791.5ZM790.5 508.5H793.5" fill="#ff0000" stroke="#ff0000"/><use href="#u1T" x="793.07" y="505.5"/><path d="M794.5 505.5H795.5V507.5H794.5ZM793.5 507.5H796.5" fill="#ff0000" stroke="#ff0000"/><use href="#u1C" x="795.89" y="505.5"/><use href="#Ce" transform="matrix(2.83 0 0 -2 795.89 505.46)"/><path d="M799.5 505.5H802.5V503.5H799.5Z" fill="#fff" stroke="#fff"/><use href="#u1T" x="798.72" y="505.5"/><path d="M800.5 505.5V508.5M799.5 508.5H802.5" fill="#ff0000" stroke="#ff0000"/><use href="#u1A" x="801.55" y="505.5"/><use href="#A" transform="matrix(2.83 0 0 0.5 801.55 505.46)"/><use href="#u1C" x="804.38" y="505.5"/><use href="#Ce" transform="matrix(2.83 0 0 -4.5 804.38 505.46)"/><path d="M807.5 505.5H810.5V501.5H807.5Z" fill="#fff" stroke="#fff"/><use href="#u1T" x="807.21" y="505.5"/><path d="M808.5 505.5H809.5V511.5H808.5ZM807.5 510.5H810.5V511.5H807.5Z" fill="#ff0000" stroke="#ff0000"/><use href="#u1C" x="810.04" y="505.5"/><use href="#Ce" transform="matrix(2.83 0 0 -4.5 810.04 505.46)"/><path d="M813.5 505.5H816.5V501.5H813.5Z" fill="#fff" stroke="#fff"/><use href="#u1C" x="812.86" y="505.5"/><use href="#Ce" transform="matrix(2.83 0 0 -1.5 812.86 505.46)"/><path d="M816.5 505.5H819.5V504.5H816.5Z" fill="#fff" stroke="#fff"/><use href="#u1T" x="815.69" y="505.5"/><path d="M817.5 505.5V508.5M816.5 507.5H819.5V508.5H816.5Z" fill="#ff0000" stroke="#ff0000"/><use href="#u1T" x="818.52" y="505.5"/><path d="M820.5 505.5V508.5M819.5 507.5H821.5V508.5H819.5Z" fill="#ff0000" stroke="#ff0000"/><use href="#u1G" x="821.35" y="505.5"/><use href="#Ge" transform="matrix(2.83 0 0 -2 821.35 505.46)"/><path d="M824.5 505.5H827.5V503.5H824.5Z" fill="#fff" stroke="#fff"/><path d="M824.5 505.5V504.5M823.5 505.5H824.5V504.5H823.5Z" fill="#ffa500" stroke="#ffa500"/><use href="#u1G" x="824.18" y="505.5"/><use href="#Ge" transform="matrix(2.83 0 0 -1.5 824.18 505.46)"/><path d="M827.5 505.5H830.5V504.5H827.5Z" fill="#fff" stroke="#fff"/><path d="M826.5 505.5H827.5" fill="#ffa500" stroke="#ffa500"/><use href="#u1G" x="827.01" y="505.5"/><use href="#Ge" transform="matrix(2.83 0 0 -2 827.01 505.46)"/><path d="M830.5 505.5H833.5V503.5H830.5Z" fill="#fff" stroke="#fff"/><path d="M829.5 505.5H830.5V504.5H829.5ZM829.5 505.5H830.5V504.5H829.5Z" fill="#ffa500" stroke="#ffa500"/><use href="#u1T" x="829.84" y="505.5"/><path d="M831.5 505.5H832.5V509.5H831.5ZM830.5 509.5H833.5" fill="#ff0000" stroke="#ff0000"/><use href="#u1C" x="832.66" y="505.5"/><use href="#Ce" transform="matrix(2.83 0 0 -1 832.66 505.46)"/><path d="M835.5 505.5H838.5V504.5H835.5Z" fill="#fff" stroke="#fff"/><use href="#u1T" x="835.49" y="505.5"/><path d="M837.5 505.5V509.5M835.5 509.5H838.5" fill="#ff0000" stroke="#ff0000"/><use href="#u1G" x="838.32" y="505.5"/><use href="#Ge" transform="matrix(2.83 0 0 -4 838.32 505.46)"/><path d="M841.5 505.5H844.5V501.5H841.5Z" fill="#fff" stroke="#fff"/><path d="M841.5 505.5V503.5M840.5 504.5H841.5V503.5H840.5Z" fill="#ffa500" stroke="#ffa500"/><use href="#u1T" x="841.15" y="505.5"/><path d="M842.5 505.5H843.5V507.5H842.5ZM841.5 507.5H844.5" fill="#ff0000" stroke="#ff0000"/><use href="#u1A" x="843.98" y="505.5"/><use href="#A" transform="matrix(2.83 0 0 2 843.98 505.46)"/><use href="#u1G" x="846.81" y="505.5"/><use href="#Ge" transform="matrix(2.83 0 0 -3 846.81 505.46)"/><path d="M850.5 505.5H852.5V502.5H850.5Z" fill="#fff" stroke="#fff"/><path d="M849.5 505.5H850.5V504.5H849.5ZM849.5 504.5H850.5" fill="#ffa500" stroke="#ffa500"/><use href="#u1T" x="849.64" y="505.5"/><path d="M851.5 505.5V507.5M850.5 507.5H852.5" fill="#ff0000" stroke="#ff0000"/><use href="#u1G" x="852.46" y="505.5"/><use href="#Ge" transform="matrix(2.83 0 0 -2 852.46 505.46)"/><path d="M855.5 505.5H858.5V503.5H855.5Z" fill="#fff" stroke="#fff"/><path d="M855.5 505.5V504.5M854.5 505.5H855.5V504.5H854.5Z" fill="#ffa500" stroke="#ffa500"/><use href="#u1A" x="855.29" y="505.5"/><use href="#A" transform="matrix(2.83 0 0 1.5 855.29 505.46)"/><use href="#u1T" x="858.12" y="505.5"/><path d="M859.5 505.5H860.5V506.5H859.5ZM858.5 506.5H861.5" fill="#ff0000" stroke="#ff0000"/><use href="#u1T" x="860.95" y="505.5"/><path d="M862.5 505.5H863.5V508.5H862.5ZM861.5 507.5H864.5V508.5H861.5Z" fill="#ff0000" stroke="#ff0000"/><use href="#u1T" x="863.78" y="505.5"/><path d="M865.5 505.5V508.5M864.5 507.5H867.5V508.5H864.5Z" fill="#ff0000" stroke="#ff0000"/><use href="#u1A" x="866.61" y="505.5"/><use href="#A" transform="matrix(2.83 0 0 1 866.61 505.46)"/><use href="#u1G" x="869.43" y="505.5"/><use href="#Ge" transform="matrix(2.83 0 0 2 869.43 505.46)"/><path d="M872.5 505.5H875.5V507.5H872.5Z" fill="#fff" stroke="#fff"/><path d="M871.5 506.5H872.5" fill="#ffa500" stroke="#ffa500"/><use href="#u1A" x="872.26" y="505.5"/><use href="#A" transform="matrix(2.83 0 0 1.5 872.26 505.46)"/><use href="#u1A" x="875.09" y="505.5"/><use href="#A" transform="matrix(2.83 0 0 4 875.09 505.46)"/><use href="#u1G" x="877.92" y="505.5"/><use href="#Ge" transform="matrix(2.83 0 0 -2.5 877.92 505.46)"/><path d="M881.5 505.5H884.5V503.5H881.5Z" fill="#fff" stroke="#fff"/><path d="M880.5 505.5H881.5V504.5H880.5ZM880.5 505.5H881.5V504.5H880.5Z" fill="#ffa500" stroke="#ffa500"/><use href="#u1A" x="880.75" y="505.5"/><use href="#A" transform="matrix(2.83 0 0 2.5 880.75 505.46)"/><use href="#u1A" x="883.58" y="505.5"/><use href="#A" transform="matrix(2.83 0 0 4 883.58 505.46)"/><use href="#u1T" x="886.41" y="505.5"/><path d="M888.5 505.5V507.5M886.5 507.5H889.5" fill="#ff0000" stroke="#ff0000"/><use href="#u1T" x="889.23" y="505.5"/><path d="M890.5 505.5H891.5V507.5H890.5ZM889.5 507.5H892.5" fill="#ff0000" stroke="#ff0000"/><use href="#u1T" x="892.06" y="505.5"/><path d="M893.5 505.5H894.5V511.5H893.5ZM892.5 510.5H895.5V511.5H892.5Z" fill="#ff0000" stroke="#ff0000"/><use href="#u1T" x="894.89" y="505.5"/><path d="M896.5 505.5H897.5V506.5H896.5ZM895.5 506.5H898.5" fill="#ff0000" stroke="#ff0000"/><use href="#u1G" x="897.72" y="505.5"/><use href="#Ge" transform="matrix(2.83 0 0 -5 897.72 505.46)"/><path d="M901.5 505.5H903.5V500.5H901.5Z" fill="#fff" stroke="#fff"/><path d="M900.5 505.5H901.5V503.5H900.5ZM899.5 504.5H901.5V503.5H899.5Z" fill="#ffa500" stroke="#ffa500"/><use href="#u1T" x="900.55" y="505.5"/><path d="M902.5 505.5V504.5M901.5 504.5H903.5" fill="#ff0000" stroke="#ff0000"/><use href="#u1G" x="903.38" y="505.5"/><use href="#Ge" transform="matrix(2.83 0 0 -5 903.38 505.46)"/><path d="M906.5 505.5H909.5V500.5H906.5Z" fill="#fff" stroke="#fff"/><path d="M906.5 505.5V503.5M905.5 504.5H906.5V503.5H905.5Z" fill="#ffa500" stroke="#ffa500"/><use href="#u1T" x="906.2" y="505.5"/><path d="M907.5 505.5H908.5V512.5H907.5ZM906.5 511.5H909.5V512.5H906.5Z" fill="#ff0000" stroke="#ff0000"/><use href="#u1C" x="909.03" y="505.5"/><use href="#Ce" transform="matrix(2.83 0 0 -8.5 909.03 505.46)"/><path d="M912.5 505.5H915.5V497.5H912.5Z" fill="#fff" stroke="#fff"/><use href="#u1G" x="911.86" y="505.5"/><use href="#Ge" transform="matrix(2.83 0 0 -5 911.86 505.46)"/><path d="M915.5 505.5H918.5V500.5H915.5Z" fill="#fff" stroke="#fff"/><path d="M914.5 505.5H915.5V503.5H914.5ZM914.5 504.5H915.5V503.5H914.5Z" fill="#ffa500" stroke="#ffa500"/><use href="#u1T" x="914.69" y="505.5"/><path d="M916.5 505.5V501.5M915.5 502.5H918.5V501.5H915.5Z" fill="#ff0000" stroke="#ff0000"/><use href="#u1G" x="917.52" y="505.5"/><use href="#Ge" transform="matrix(2.83 0 0 -9.5 917.52 505.46)"/><path d="M920.5 505.5H923.5V496.5H920.5Z" fill="#fff" stroke="#fff"/><path d="M920.5 505.5V501.5M919.5 502.5H920.5V501.5H919.5Z" fill="#ffa500" stroke="#ffa500"/><use href="#u1T" x="920.35" y="505.5"/><path d="M921.5 505.5H922.5V507.5H921.5ZM920.5 507.5H923.5" fill="#ff0000" stroke="#ff0000"/><use href="#u1C" x="923.18" y="505.5"/><use href="#Ce" transform="matrix(2.83 0 0 -6.5 923.18 505.46)"/><path d="M926.5 505.5H929.5V499.5H926.5Z" fill="#fff" stroke="#fff"/><use href="#u1T" x="926" y="505.5"/><path d="M927.5 505.5H928.5V509.5H927.5ZM926.5 509.5H929.5" fill="#ff0000" stroke="#ff0000"/><use href="#u1C" x="928.83" y="505.5"/><use href="#Ce" transform="matrix(2.83 0 0 -9 928.83 505.46)"/><path d="M932.5 505.5H934.5V496.5H932.5Z" fill="#fff" stroke="#fff"/><use href="#u1T" x="931.66" y="505.5"/><path d="M933.5 505.5V511.5M932.5 510.5H934.5V511.5H932.5Z" fill="#ff0000" stroke="#ff0000"/><use href="#u1T" x="934.49" y="505.5"/><path d="M936.5 505.5V511.5M934.5 510.5H937.5V511.5H934.5Z" fill="#ff0000" stroke="#ff0000"/><use href="#u1G" x="937.32" y="505.5"/><use href="#Ge" transform="matrix(2.83 0 0 -7.5 937.32 505.46)"/><path d="M940.5 505.5H943.5V498.5H940.5Z" fill="#fff" stroke="#fff"/><path d="M940.5 505.5V502.5M939.5 503.5H940.5V502.5H939.5Z" fill="#ffa500" stroke="#ffa500"/><use href="#u1C" x="940.15" y="505.5"/><use href="#Ce" transform="matrix(2.83 0 0 -2 940.15 505.46)"/><path d="M943.5 505.5H946.5V503.5H943.5Z" fill="#fff" stroke="#fff"/><use href="#u1G" x="942.97" y="505.5"/><use href="#Ge" transform="matrix(2.83 0 0 -4 942.97 505.46)"/><path d="M946.5 505.5H949.5V501.5H946.5Z" fill="#fff" stroke="#fff"/><path d="M945.5 505.5H946.5V503.5H945.5ZM945.5 504.5H946.5V503.5H945.5Z" fill="#ffa500" stroke="#ffa500"/><use href="#u1G" x="945.8" y="505.5"/><use href="#Ge" transform="matrix(2.83 0 0 3 945.8 505.46)"/><path d="M949.5 505.5H951.5V508.5H949.5Z" fill="#fff" stroke="#fff"/><path d="M948.5 506.5H949.5V507.5H948.5ZM948.5 507.5H949.5" fill="#ffa500" stroke="#ffa500"/><use href="#u1T" x="948.63" y="505.5"/><path d="M950.5 505.5V511.5M949.5 510.5H951.5V511.5H949.5Z" fill="#ff0000" stroke="#ff0000"/><use href="#u1A" x="951.46" y="505.5"/><use href="#A" transform="matrix(2.83 0 0 -0.5 951.46 505.46)"/><use href="#u1T" x="954.29" y="505.5"/><path d="M955.5 505.5H956.5V507.5H955.5ZM954.5 507.5H957.5" fill="#ff0000" stroke="#ff0000"/><use href="#u1T" x="957.12" y="505.5"/><path d="M958.5 505.5H959.5V508.5H958.5ZM957.5 508.5H960.5" fill="#ff0000" stroke="#ff0000"/><use href="#u1T" x="959.95" y="505.5"/><path d="M961.5 505.5H962.5V507.5H961.5ZM960.5 507.5H963.5" fill="#ff0000" stroke="#ff0000"/><use href="#u1T" x="962.77" y="505.5"/><path d="M964.5 505.5V511.5M963.5 510.5H966.5V511.5H963.5Z" fill="#ff0000" stroke="#ff0000"/><use href="#f1T" x="965.6" y="505.5"/><use href="#f1G" x="968.43" y="505.5"/><use href="#u1T" x="971.26" y="505.5"/><path d="M972.5 505.5H973.5V506.5H972.5ZM971.5 506.5H974.5" fill="#ff0000" stroke="#ff0000"/><use href="#u1G" x="974.09" y="505.5"/><use href="#Ge" transform="matrix(2.83 0 0 -0.5 974.09 505.46)"/><path d="M977.5 505.5H980.5" fill="#fff" stroke="#fff"/><path d="M976.5 505.5H977.5M976.5 505.5H977.5" fill="#ffa500" stroke="#ffa500"/><use href="#u1A" x="976.92" y="505.5"/><use href="#A" transform="matrix(2.83 0 0 1.5 976.92 505.46)"/><use href="#u1C" x="979.74" y="505.5"/><use href="#Ce" transform="matrix(2.83 0 0 -3 979.74 505.46)"/><path d="M983.5 505.5H985.5V502.5H983.5Z" fill="#fff" stroke="#fff"/><use href="#u1C" x="982.57" y="505.5"/><use href="#Ce" transform="matrix(2.83 0 0 2.5 982.57 505.46)"/><path d="M985.5 505.5H988.5V508.5H985.5Z" fill="#fff" stroke="#fff"/><use href="#u1C" x="985.4" y="505.5"/><use href="#Ce" transform="matrix(2.83 0 0 -0.5 985.4 505.46)"/><path d="M988.5 505.5H991.5" fill="#fff" stroke="#fff"/><use href="#u1T" x="988.23" y="505.5"/><path d="M989.5 505.5H990.5V509.5H989.5ZM988.5 509.5H991.5" fill="#ff0000" stroke="#ff0000"/><use href="#u1C" x="991.06" y="505.5"/><use href="#Ce" transform="matrix(2.83 0 0 9 991.06 505.46)"/><path d="M994.5 505.5H997.5V514.5H994.5Z" fill="#fff" stroke="#fff"/><use href="#u1T" x="993.89" y="505.5"/><path d="M995.5 505.5H996.5V512.5H995.5ZM994.5 511.5H997.5V512.5H994.5Z" fill="#ff0000" stroke="#ff0000"/><use href="#u1A" x="996.72" y="505.5"/><use href="#A" transform="matrix(2.83 0 0 10 996.72 505.46)"/><use href="#u1C" x="999.54" y="505.5"/><use href="#Ce" transform="matrix(2.83 0 0 -0.5 999.54 505.46)"/><path d="M1002.5 505.5H1005.5" fill="#fff" stroke="#fff"/><use href="#u1T" x="1002.37" y="505.5"/><path d="M1004.5 505.5V507.5M1002.5 507.5H1005.5" fill="#ff0000" stroke="#ff0000"/><use href="#u1T" x="1005.2" y="505.5"/><path d="M1006.5 505.5H1007.5V508.5H1006.5ZM1005.5 508.5H1008.5" fill="#ff0000" stroke="#ff0000"/><use href="#u1C" x="1008.03" y="505.5"/><use href="#Ce" transform="matrix(2.83 0 0 18 1008.03 505.46)"/><path d="M1011.5 505.5H1014.5V523.5H1011.5Z" fill="#fff" stroke="#fff"/><use href="#u1G" x="1010.86" y="505.5"/><use href="#Ge" transform="matrix(2.83 0 0 -31 1010.86 505.46)"/><path d="M1014.5 505.5H1017.5V474.5H1014.5Z" fill="#fff" stroke="#fff"/><path d="M1013.5 503.5H1014.5V490.5H1013.5ZM1013.5 495.5H1014.5V490.5H1013.5Z" fill="#ffa500" stroke="#ffa500"/><use href="#u1T" x="1013.69" y="505.5"/><path d="M1015.5 505.5V474.5M1014.5 480.5H1017.5V474.5H1014.5Z" fill="#ff0000" stroke="#ff0000"/><use href="#u1C" x="1016.51" y="505.5"/><use href="#Ce" transform="matrix(2.83 0 0 -72.5 1016.51 505.46)"/><path d="M1019.5 505.5H1022.5V433.5H1019.5Z" fill="#fff" stroke="#fff"/><use href="#u1A" x="1019.34" y="505.5"/><use href="#A" transform="matrix(2.83 0 0 -70.5 1019.34 505.46)"/><use href="#u1C" x="1022.17" y="505.5"/><use href="#Ce" transform="matrix(2.83 0 0 -97 1022.17 505.46)"/><path d="M1025.5 505.5H1028.5V408.5H1025.5Z" fill="#fff" stroke="#fff"/><use href="#u1G" x="1025" y="505.5"/><use href="#Ge" transform="matrix(2.83 0 0 -104.5 1025 505.46)"/><path d="M1028.5 505.5H1031.5V401.5H1028.5Z" fill="#fff" stroke="#fff"/><path d="M1027.5 497.5H1028.5V453.5H1027.5ZM1027.5 469.5H1028.5V453.5H1027.5Z" fill="#ffa500" stroke="#ffa500"/><use href="#u1T" x="1027.83" y="505.5"/><path d="M1029.5 505.5H1030.5V456.5H1029.5ZM1028.5 466.5H1031.5V456.5H1028.5Z" fill="#ff0000" stroke="#ff0000"/><use href="#u1G" x="1030.66" y="505.5"/><use href="#Ge" transform="matrix(2.83 0 0 -105.8 1030.66 505.46)"/><path d="M1033.5 505.5H1036.5V400.5H1033.5Z" fill="#fff" stroke="#fff"/><path d="M1033.5 496.5V453.5M1032.5 468.5H1033.5V453.5H1032.5Z" fill="#ffa500" stroke="#ffa500"/><use href="#u1A" x="1033.49" y="505.5"/><use href="#A" transform="matrix(2.83 0 0 -40.5 1033.49 505.46)"/><use href="#u1C" x="1036.31" y="505.5"/><use href="#Ce" transform="matrix(2.83 0 0 -17 1036.31 505.46)"/><path d="M1039.5 505.5H1042.5V488.5H1039.5Z" fill="#fff" stroke="#fff"/><use href="#u1T" x="1039.14" y="505.5"/><path d="M1040.5 505.5H1041.5M1039.5 505.5H1042.5" fill="#ff0000" stroke="#ff0000"/><use href="#u1C" x="1041.97" y="505.5"/><use href="#Ce" transform="matrix(2.83 0 0 14 1041.97 505.46)"/><path d="M1045.5 505.5H1048.5V519.5H1045.5Z" fill="#fff" stroke="#fff"/><use href="#u1A" x="1044.8" y="505.5"/><use href="#A" transform="matrix(2.83 0 0 -1 1044.8 505.46)"/><use href="#u1C" x="1047.63" y="505.5"/><use href="#Ce" transform="matrix(2.83 0 0 4 1047.63 505.46)"/><path d="M1050.5 505.5H1053.5V509.5H1050.5Z" fill="#fff" stroke="#fff"/><use href="#u1T" x="1050.46" y="505.5"/><path d="M1052.5 505.5V514.5M1050.5 512.5H1053.5V514.5H1050.5Z" fill="#ff0000" stroke="#ff0000"/><use href="#u1A" x="1053.28" y="505.5"/><use href="#A" transform="matrix(2.83 0 0 2.5 1053.28 505.46)"/><use href="#u1T" x="1056.11" y="505.5"/><path d="M1057.5 505.5H1058.5V507.5H1057.5ZM1056.5 507.5H1059.5" fill="#ff0000" stroke="#ff0000"/><use href="#u1T" x="1058.94" y="505.5"/><path d="M1060.5 505.5H1061.5V503.5H1060.5ZM1059.5 504.5H1062.5V503.5H1059.5Z" fill="#ff0000" stroke="#ff0000"/><use href="#u1A" x="1061.77" y="505.5"/><use href="#A" transform="matrix(2.83 0 0 5.5 1061.77 505.46)"/><use href="#u1T" x="1064.6" y="505.5"/><path d="M1065.5 505.5H1067.5" fill="#ff0000" stroke="#ff0000"/><use href="#u1A" x="1067.43" y="505.5"/><use href="#A" transform="matrix(2.83 0 0 1 1067.43 505.46)"/><use href="#f1G" x="1070.26" y="505.5"/><use href="#u1A" x="1073.08" y="505.5"/><use href="#A" transform="matrix(2.83 0 0 1.5 1073.08 505.46)"/><use href="#u1A" x="1075.91" y="505.5"/><use href="#A" transform="matrix(2.83 0 0 1.5 1075.91 505.46)"/><use href="#u1A" x="1078.74" y="505.5"/><use href="#A" transform="matrix(2.83 0 0 1.5 1078.74 505.46)"/><use href="#u1T" x="1081.57" y="505.5"/><path d="M1083.5 505.5V506.5M1082.5 506.5H1084.5" fill="#ff0000" stroke="#ff0000"/><use href="#u1C" x="1084.4" y="505.5"/><use href="#Ce" transform="matrix(2.83 0 0 -2 1084.4 505.46)"/><path d="M1087.5 505.5H1090.5V503.5H1087.5Z" fill="#fff" stroke="#fff"/><use href="#u1T" x="1087.23" y="505.5"/><path d="M1088.5 505.5H1089.5V509.5H1088.5ZM1087.5 509.5H1090.5" fill="#ff0000" stroke="#ff0000"/><use href="#u1C" x="1090.05" y="505.5"/><use href="#Ce" transform="matrix(2.83 0 0 -4.5 1090.05 505.46)"/><path d="M1093.5 505.5H1096.5V501.5H1093.5Z" fill="#fff" stroke="#fff"/><use href="#u1C" x="1092.88" y="505.5"/><use href="#Ce" transform="matrix(2.83 0 0 2 1092.88 505.46)"/><path d="M1096.5 505.5H1099.5V507.5H1096.5Z" fill="#fff" stroke="#fff"/><use href="#u1G" x="1095.71" y="505.5"/><use href="#Ge" transform="matrix(2.83 0 0 2 1095.71 505.46)"/><path d="M1099.5 505.5H1101.5V507.5H1099.5Z" fill="#fff" stroke="#fff"/><path d="M1098.5 506.5H1099.5M1097.5 506.5H1099.5" fill="#ffa500" stroke="#ffa500"/><use href="#u1G" x="1098.54" y="505.5"/><use href="#Ge" transform="matrix(2.83 0 0 -3 1098.54 505.46)"/><path d="M1101.5 505.5H1104.5V502.5H1101.5Z" fill="#fff" stroke="#fff"/><path d="M1101.5 505.5V504.5M1100.5 504.5H1101.5" fill="#ffa500" stroke="#ffa500"/><use href="#u1T" x="1101.37" y="505.5"/><path d="M1103.5 505.5V507.5M1101.5 507.5H1104.5" fill="#ff0000" stroke="#ff0000"/><use href="#u1G" x="1104.2" y="505.5"/><use href="#Ge" transform="matrix(2.83 0 0 -2.5 1104.2 505.46)"/><path d="M1107.5 505.5H1110.5V503.5H1107.5Z" fill="#fff" stroke="#fff"/><path d="M1107.5 505.5V504.5M1106.5 505.5H1107.5V504.5H1106.5Z" fill="#ffa500" stroke="#ffa500"/><use href="#u1G" x="1107.03" y="505.5"/><use href="#Ge" transform="matrix(2.83 0 0 -0.5 1107.03 505.46)"/><path d="M1110.5 505.5H1113.5" fill="#fff" stroke="#fff"/><path d="M1109.5 505.5H1110.5M1109.5 505.5H1110.5" fill="#ffa500" stroke="#ffa500"/><use href="#u1A" x="1109.85" y="505.5"/><use href="#A" transform="matrix(2.83 0 0 2.5 1109.85 505.46)"/><use href="#u1A" x="1112.68" y="505.5"/><use href="#A" transform="matrix(2.83 0 0 2.5 1112.68 505.46)"/><use href="#u1T" x="1115.51" y="505.5"/><path d="M1117.5 505.5V510.5M1116.5 509.5H1118.5V510.5H1116.5Z" fill="#ff0000" stroke="#ff0000"/><use href="#u1C" x="1118.34" y="505.5"/><use href="#Ce" transform="matrix(2.83 0 0 -2 1118.34 505.46)"/><path d="M1121.5 505.5H1124.5V503.5H1121.5Z" fill="#fff" stroke="#fff"/><use href="#u1G" x="1121.17" y="505.5"/><use href="#Ge" transform="matrix(2.83 0 0 -3 1121.17 505.46)"/><path d="M1124.5 505.5H1127.5V502.5H1124.5Z" fill="#fff" stroke="#fff"/><path d="M1124.5 505.5V504.5M1123.5 504.5H1124.5" fill="#ffa500" stroke="#ffa500"/><use href="#u1T" x="1124" y="505.5"/><path d="M1125.5 505.5H1126.5V507.5H1125.5ZM1124.5 507.5H1127.5" fill="#ff0000" stroke="#ff0000"/><use href="#u1A" x="1126.82" y="505.5"/><use href="#A" transform="matrix(2.83 0 0 2.5 1126.82 505.46)"/><use href="#u1A" x="1129.65" y="505.5"/><use href="#A" transform="matrix(2.83 0 0 1 1129.65 505.46)"/><use href="#u1T" x="1132.48" y="505.5"/><path d="M1134.5 505.5V506.5M1132.5 506.5H1135.5" fill="#ff0000" stroke="#ff0000"/><use href="#u1G" x="1135.31" y="505.5"/><use href="#Ge" transform="matrix(2.83 0 0 -4.5 1135.31 505.46)"/><path d="M1138.5 505.5H1141.5V501.5H1138.5Z" fill="#fff" stroke="#fff"/><path d="M1138.5 505.5V503.5M1137.5 504.5H1138.5V503.5H1137.5Z" fill="#ffa500" stroke="#ffa500"/><use href="#u1T" x="1138.14" y="505.5"/><path d="M1139.5 505.5H1140.5V507.5H1139.5ZM1138.5 507.5H1141.5" fill="#ff0000" stroke="#ff0000"/><use href="#u1T" x="1140.97" y="505.5"/><path d="M1142.5 505.5H1143.5V509.5H1142.5ZM1141.5 509.5H1144.5" fill="#ff0000" stroke="#ff0000"/><use href="#u1T" x="1143.8" y="505.5"/><path d="M1145.5 505.5V508.5M1144.5 507.5H1147.5V508.5H1144.5Z" fill="#ff0000" stroke="#ff0000"/><use href="#u1C" x="1146.62" y="505.5"/><use href="#Ce" transform="matrix(2.83 0 0 -7 1146.62 505.46)"/><path d="M1149.5 505.5H1152.5V498.5H1149.5Z" fill="#fff" stroke="#fff"/><use href="#u1T" x="1149.45" y="505.5"/><path d="M1151.5 505.5V511.5M1149.5 510.5H1152.5V511.5H1149.5Z" fill="#ff0000" stroke="#ff0000"/><use href="#u1C" x="1152.28" y="505.5"/><use href="#Ce" transform="matrix(2.83 0 0 -6 1152.28 505.46)"/><path d="M1155.5 505.5H1158.5V499.5H1155.5Z" fill="#fff" stroke="#fff"/><use href="#u1G" x="1155.11" y="505.5"/><use href="#Ge" transform="matrix(2.83 0 0 -6 1155.11 505.46)"/><path d="M1158.5 505.5H1161.5V499.5H1158.5Z" fill="#fff" stroke="#fff"/><path d="M1157.5 505.5H1158.5V502.5H1157.5ZM1157.5 503.5H1158.5V502.5H1157.5Z" fill="#ffa500" stroke="#ffa500"/><use href="#u1T" x="1157.94" y="505.5"/><path d="M1159.5 505.5H1160.5V504.5H1159.5ZM1158.5 504.5H1161.5" fill="#ff0000" stroke="#ff0000"/><use href="#u1A" x="1160.77" y="505.5"/><use href="#A" transform="matrix(2.83 0 0 6 1160.77 505.46)"/><use href="#u1C" x="1163.59" y="505.5"/><use href="#Ce" transform="matrix(2.83 0 0 -0.5 1163.59 505.46)"/><path d="M1166.5 505.5H1169.5" fill="#fff" stroke="#fff"/><use href="#u1C" x="1166.42" y="505.5"/><use href="#Ce" transform="matrix(2.83 0 0 -8 1166.42 505.46)"/><path d="M1169.5 505.5H1172.5V497.5H1169.5Z" fill="#fff" stroke="#fff"/><use href="#u1G" x="1169.25" y="505.5"/><use href="#Ge" transform="matrix(2.83 0 0 -4 1169.25 505.46)"/><path d="M1172.5 505.5H1175.5V501.5H1172.5Z" fill="#fff" stroke="#fff"/><path d="M1172.5 505.5V503.5M1171.5 504.5H1172.5V503.5H1171.5Z" fill="#ffa500" stroke="#ffa500"/><use href="#u1A" x="1172.08" y="505.5"/><use href="#A" transform="matrix(2.83 0 0 7.5 1172.08 505.46)"/><use href="#u1G" x="1174.91" y="505.5"/><use href="#Ge" transform="matrix(2.83 0 0 -5 1174.91 505.46)"/><path d="M1178.5 505.5H1181.5V500.5H1178.5Z" fill="#fff" stroke="#fff"/><path d="M1177.5 505.5H1178.5V503.5H1177.5ZM1177.5 504.5H1178.5V503.5H1177.5Z" fill="#ffa500" stroke="#ffa500"/><use href="#u1G" x="1177.74" y="505.5"/><use href="#Ge" transform="matrix(2.83 0 0 -3 1177.74 505.46)"/><path d="M1181.5 505.5H1183.5V502.5H1181.5Z" fill="#fff" stroke="#fff"/><path d="M1180.5 505.5H1181.5V504.5H1180.5ZM1180.5 504.5H1181.5" fill="#ffa500" stroke="#ffa500"/><use href="#u1C" x="1180.57" y="505.5"/><use href="#Ce" transform="matrix(2.83 0 0 -8 1180.57 505.46)"/><path d="M1183.5 505.5H1186.5V497.5H1183.5Z" fill="#fff" stroke="#fff"/><use href="#u1A" x="1183.39" y="505.5"/><use href="#A" transform="matrix(2.83 0 0 -1 1183.39 505.46)"/><use href="#u1T" x="1186.22" y="505.5"/><path d="M1187.5 505.5H1188.5V507.5H1187.5ZM1186.5 507.5H1189.5" fill="#ff0000" stroke="#ff0000"/><use href="#u1T" x="1189.05" y="505.5"/><path d="M1190.5 505.5H1191.5V509.5H1190.5ZM1189.5 509.5H1192.5" fill="#ff0000" stroke="#ff0000"/><use href="#u1T" x="1191.88" y="505.5"/><path d="M1193.5 505.5H1194.5V506.5H1193.5ZM1192.5 506.5H1195.5" fill="#ff0000" stroke="#ff0000"/><use href="#u1G" x="1194.71" y="505.5"/><use href="#Ge" transform="matrix(2.83 0 0 -3 1194.71 505.46)"/><path d="M1198.5 505.5H1200.5V502.5H1198.5Z" fill="#fff" stroke="#fff"/><path d="M1197.5 505.5H1198.5V504.5H1197.5ZM1196.5 504.5H1198.5" fill="#ffa500" stroke="#ffa500"/><use href="#u1T" x="1197.54" y="505.5"/><path d="M1199.5 505.5V507.5M1198.5 507.5H1200.5" fill="#ff0000" stroke="#ff0000"/><use href="#u1T" x="1200.36" y="505.5"/><path d="M1201.5 505.5H1202.5V508.5H1201.5ZM1200.5 508.5H1203.5" fill="#ff0000" stroke="#ff0000"/><use href="#f1G" x="1203.19" y="505.5"/><use href="#u1G" x="1206.02" y="505.5"/><use href="#Ge" transform="matrix(2.83 0 0 -2 1206.02 505.46)"/><path d="M1209.5 505.5H1212.5V503.5H1209.5Z" fill="#fff" stroke="#fff"/><path d="M1208.5 505.5H1209.5V504.5H1208.5ZM1208.5 505.5H1209.5V504.5H1208.5Z" fill="#ffa500" stroke="#ffa500"/><use href="#u1A" x="1208.85" y="505.5"/><use href="#A" transform="matrix(2.83 0 0 2 1208.85 505.46)"/><use href="#u1A" x="1211.68" y="505.5"/><use href="#A" transform="matrix(2.83 0 0 2.5 1211.68 505.46)"/><use href="#u1G" x="1214.51" y="505.5"/><use href="#Ge" transform="matrix(2.83 0 0 -2 1214.51 505.46)"/><path d="M1217.5 505.5H1220.5V503.5H1217.5Z" fill="#fff" stroke="#fff"/><path d="M1217.5 505.5V504.5M1216.5 505.5H1217.5V504.5H1216.5Z" fill="#ffa500" stroke="#ffa500"/><use href="#u1A" x="1217.34" y="505.5"/><use href="#A" transform="matrix(2.83 0 0 2.5 1217.34 505.46)"/><use href="#u1T" x="1220.16" y="505.5"/><path d="M1221.5 505.5H1222.5V508.5H1221.5ZM1220.5 507.5H1223.5V508.5H1220.5Z" fill="#ff0000" stroke="#ff0000"/><use href="#u1T" x="1222.99" y="505.5"/><path d="M1224.5 505.5H1225.5V508.5H1224.5ZM1223.5 507.5H1226.5V508.5H1223.5Z" fill="#ff0000" stroke="#ff0000"/><use href="#u1T" x="1225.82" y="505.5"/><path d="M1227.5 505.5H1228.5V507.5H1227.5ZM1226.5 507.5H1229.5" fill="#ff0000" stroke="#ff0000"/><use href="#u1T" x="1228.65" y="505.5"/><path d="M1230.5 505.5V508.5M1229.5 507.5H1231.5V508.5H1229.5Z" fill="#ff0000" stroke="#ff0000"/><use href="#u1C" x="1231.48" y="505.5"/><use href="#Ce" transform="matrix(2.83 0 0 -2 1231.48 505.46)"/><path d="M1234.5 505.5H1237.5V503.5H1234.5Z" fill="#fff" stroke="#fff"/><use href="#u1A" x="1234.31" y="505.5"/><use href="#A" transform="matrix(2.83 0 0 1.5 1234.31 505.46)"/><use href="#f1T" x="1237.14" y="505.5"/><use href="#u1T" x="1239.96" y="505.5"/><path d="M1241.5 505.5H1242.5V508.5H1241.5ZM1240.5 508.5H1243.5" fill="#ff0000" stroke="#ff0000"/><use href="#u1A" x="1242.79" y="505.5"/><use href="#A" transform="matrix(2.83 0 0 -0.5 1242.79 505.46)"/><use href="#u1C" x="1245.62" y="505.5"/><use href="#Ce" transform="matrix(2.83 0 0 -4 1245.62 505.46)"/><path d="M1248.5 505.5H1251.5V501.5H1248.5Z" fill="#fff" stroke="#fff"/><use href="#u1G" x="1248.45" y="505.5"/><use href="#Ge" transform="matrix(2.83 0 0 -2 1248.45 505.46)"/><path d="M1251.5 505.5H1254.5V503.5H1251.5Z" fill="#fff" stroke="#fff"/><path d="M1251.5 505.5V504.5M1250.5 505.5H1251.5V504.5H1250.5Z" fill="#ffa500" stroke="#ffa500"/><use href="#u1C" x="1251.28" y="505.5"/><use href="#Ce" transform="matrix(2.83 0 0 -4 1251.28 505.46)"/><path d="M1254.5 505.5H1257.5V501.5H1254.5Z" fill="#fff" stroke="#fff"/><use href="#u1A" x="1254.11" y="505.5"/><use href="#A" transform="matrix(2.83 0 0 2 1254.11 505.46)"/><use href="#u1C" x="1256.93" y="505.5"/><use href="#Ce" transform="matrix(2.83 0 0 -4.5 1256.93 505.46)"/><path d="M1260.5 505.5H1263.5V501.5H1260.5Z" fill="#fff" stroke="#fff"/><use href="#u1A" x="1259.76" y="505.5"/><use href="#A" transform="matrix(2.83 0 0 1.5 1259.76 505.46)"/><use href="#u1G" x="1262.59" y="505.5"/><use href="#Ge" transform="matrix(2.83 0 0 3.5 1262.59 505.46)"/><path d="M1265.5 505.5H1268.5V509.5H1265.5Z" fill="#fff" stroke="#fff"/><path d="M1265.5 506.5V507.5M1264.5 507.5H1265.5" fill="#ffa500" stroke="#ffa500"/><use href="#u1A" x="1265.42" y="505.5"/><use href="#A" transform="matrix(2.83 0 0 0.5 1265.42 505.46)"/><use href="#u1A" x="1268.25" y="505.5"/><use href="#A" transform="matrix(2.83 0 0 0.5 1268.25 505.46)"/><use href="#u1G" x="1271.08" y="505.5"/><use href="#Ge" transform="matrix(2.83 0 0 -2 1271.08 505.46)"/><path d="M1274.5 505.5H1277.5V503.5H1274.5Z" fill="#fff" stroke="#fff"/><path d="M1273.5 505.5H1274.5V504.5H1273.5ZM1273.5 505.5H1274.5V504.5H1273.5Z" fill="#ffa500" stroke="#ffa500"/><use href="#u1T" x="1273.91" y="505.5"/><path d="M1275.5 505.5H1276.5V511.5H1275.5ZM1274.5 510.5H1277.5V511.5H1274.5Z" fill="#ff0000" stroke="#ff0000"/><use href="#f1G" x="1276.73" y="505.5"/><use href="#u1C" x="1279.56" y="505.5"/><use href="#Ce" transform="matrix(2.83 0 0 -3 1279.56 505.46)"/><path d="M1282.5 505.5H1285.5V502.5H1282.5Z" fill="#fff" stroke="#fff"/><use href="#u1T" x="1282.39" y="505.5"/><path d="M1284.5 505.5V513.5M1282.5 512.5H1285.5V513.5H1282.5Z" fill="#ff0000" stroke="#ff0000"/><use href="#u1G" x="1285.22" y="505.5"/><use href="#Ge" transform="matrix(2.83 0 0 1.5 1285.22 505.46)"/><path d="M1288.5 505.5H1291.5V507.5H1288.5Z" fill="#fff" stroke="#fff"/><path d="M1287.5 506.5H1288.5" fill="#ffa500" stroke="#ffa500"/><use href="#u1G" x="1288.05" y="505.5"/><use href="#Ge" transform="matrix(2.83 0 0 -6 1288.05 505.46)"/><path d="M1291.5 505.5H1294.5V499.5H1291.5Z" fill="#fff" stroke="#fff"/><path d="M1290.5 505.5H1291.5V502.5H1290.5ZM1290.5 503.5H1291.5V502.5H1290.5Z" fill="#ffa500" stroke="#ffa500"/><use href="#u1G" x="1290.88" y="505.5"/><use href="#Ge" transform="matrix(2.83 0 0 2 1290.88 505.46)"/><path d="M1294.5 505.5H1297.5V507.5H1294.5Z" fill="#fff" stroke="#fff"/><path d="M1293.5 506.5H1294.5M1293.5 506.5H1294.5" fill="#ffa500" stroke="#ffa500"/><use href="#f1G" x="1293.7" y="505.5"/><use href="#u1C" x="1296.53" y="505.5"/><use href="#Ce" transform="matrix(2.83 0 0 -5 1296.53 505.46)"/><path d="M1299.5 505.5H1302.5V500.5H1299.5Z" fill="#fff" stroke="#fff"/><use href="#u1T" x="1299.36" y="505.5"/><path d="M1300.5 505.5H1301.5V509.5H1300.5ZM1299.5 509.5H1302.5" fill="#ff0000" stroke="#ff0000"/><use href="#u1T" x="1302.19" y="505.5"/><path d="M1303.5 505.5H1304.5V506.5H1303.5ZM1302.5 506.5H1305.5" fill="#ff0000" stroke="#ff0000"/><use href="#u1G" x="1305.02" y="505.5"/><use href="#Ge" transform="matrix(2.83 0 0 -2 1305.02 505.46)"/><path d="M1308.5 505.5H1311.5V503.5H1308.5Z" fill="#fff" stroke="#fff"/><path d="M1307.5 505.5H1308.5V504.5H1307.5ZM1307.5 505.5H1308.5V504.5H1307.5Z" fill="#ffa500" stroke="#ffa500"/><use href="#f1A" x="1307.85" y="505.5"/><use href="#u1T" x="1310.68" y="505.5"/><path d="M1312.5 505.5V506.5M1311.5 506.5H1314.5" fill="#ff0000" stroke="#ff0000"/><use href="#u1A" x="1313.5" y="505.5"/><use href="#A" transform="matrix(2.83 0 0 1.5 1313.5 505.46)"/><use href="#u1T" x="1316.33" y="505.5"/><path d="M1317.5 505.5H1318.5V506.5H1317.5ZM1316.5 506.5H1319.5" fill="#ff0000" stroke="#ff0000"/><use href="#u1A" x="1319.16" y="505.5"/><use href="#A" transform="matrix(2.83 0 0 4.5 1319.16 505.46)"/><use href="#u1T" x="1321.99" y="505.5"/><path d="M1323.5 505.5H1324.5V508.5H1323.5ZM1322.5 507.5H1325.5V508.5H1322.5Z" fill="#ff0000" stroke="#ff0000"/><use href="#u1T" x="1324.82" y="505.5"/><path d="M1326.5 505.5H1327.5V507.5H1326.5ZM1325.5 507.5H1328.5" fill="#ff0000" stroke="#ff0000"/><use href="#u1G" x="1327.65" y="505.5"/><use href="#Ge" transform="matrix(2.83 0 0 -2 1327.65 505.46)"/><path d="M1330.5 505.5H1333.5V503.5H1330.5Z" fill="#fff" stroke="#fff"/><path d="M1330.5 505.5V504.5M1329.5 505.5H1330.5V504.5H1329.5Z" fill="#ffa500" stroke="#ffa500"/><use href="#u1T" x="1330.47" y="505.5"/><path d="M1332.5 505.5V506.5M1330.5 506.5H1333.5" fill="#ff0000" stroke="#ff0000"/><use href="#u1C" x="1333.3" y="505.5"/><use href="#Ce" transform="matrix(2.83 0 0 1.5 1333.3 505.46)"/><path d="M1336.5 505.5H1339.5V507.5H1336.5Z" fill="#fff" stroke="#fff"/><use href="#u1A" x="1336.13" y="505.5"/><use href="#A" transform="matrix(2.83 0 0 1 1336.13 505.46)"/><use href="#f1G" x="1338.96" y="505.5"/><use href="#u1A" x="1341.79" y="505.5"/><use href="#A" transform="matrix(2.83 0 0 1.5 1341.79 505.46)"/><use href="#u1T" x="1344.62" y="505.5"/><path d="M1346.5 505.5V507.5M1345.5 507.5H1347.5" fill="#ff0000" stroke="#ff0000"/><use href="#u1C" x="1347.45" y="505.5"/><use href="#Ce" transform="matrix(2.83 0 0 -1 1347.45 505.46)"/><path d="M1350.5 505.5H1353.5V504.5H1350.5Z" fill="#fff" stroke="#fff"/><use href="#u1T" x="1350.27" y="505.5"/><path d="M1351.5 505.5H1352.5V506.5H1351.5ZM1350.5 506.5H1353.5" fill="#ff0000" stroke="#ff0000"/><use href="#u1A" x="1353.1" y="505.5"/><use href="#A" transform="matrix(2.83 0 0 1 1353.1 505.46)"/><use href="#u1A" x="1355.93" y="505.5"/><use href="#A" transform="matrix(2.83 0 0 1.5 1355.93 505.46)"/><use href="#u1A" x="1358.76" y="505.5"/><use href="#A" transform="matrix(2.83 0 0 1 1358.76 505.46)"/><use href="#u1C" x="1361.59" y="505.5"/><use href="#Ce" transform="matrix(2.83 0 0 -3 1361.59 505.46)"/><path d="M1364.5 505.5H1367.5V502.5H1364.5Z" fill="#fff" stroke="#fff"/><use href="#f1C" x="1364.42" y="505.5"/><use href="#u1T" x="1367.24" y="505.5"/><path d="M1368.5 505.5H1369.5V507.5H1368.5ZM1367.5 507.5H1370.5" fill="#ff0000" stroke="#ff0000"/><use href="#u1A" x="1370.07" y="505.5"/><use href="#A" transform="matrix(2.83 0 0 2 1370.07 505.46)"/><use href="#f1A" x="1372.9" y="505.5"/><use href="#u1G" x="1375.73" y="505.5"/><use href="#Ge" transform="matrix(2.83 0 0 -2.5 1375.73 505.46)"/><path d="M1379.5 505.5H1381.5V503.5H1379.5Z" fill="#fff" stroke="#fff"/><path d="M1378.5 505.5H1379.5V504.5H1378.5ZM1377.5 505.5H1379.5V504.5H1377.5Z" fill="#ffa500" stroke="#ffa500"/><use href="#u1G" x="1378.56" y="505.5"/><use href="#Ge" transform="matrix(2.83 0 0 -1.5 1378.56 505.46)"/><path d="M1381.5 505.5H1384.5V504.5H1381.5Z" fill="#fff" stroke="#fff"/><path d="M1380.5 505.5H1381.5" fill="#ffa500" stroke="#ffa500"/><use href="#u1C" x="1381.39" y="505.5"/><use href="#Ce" transform="matrix(2.83 0 0 -3 1381.39 505.46)"/><path d="M1384.5 505.5H1387.5V502.5H1384.5Z" fill="#fff" stroke="#fff"/><use href="#f1A" x="1384.22" y="505.5"/><use href="#f1G" x="1387.04" y="505.5"/><use href="#u1G" x="1389.87" y="505.5"/><use href="#Ge" transform="matrix(2.83 0 0 -3.5 1389.87 505.46)"/><path d="M1393.5 505.5H1396.5V502.5H1393.5Z" fill="#fff" stroke="#fff"/><path d="M1392.5 505.5H1393.5V504.5H1392.5ZM1392.5 504.5H1393.5" fill="#ffa500" stroke="#ffa500"/><use href="#u1T" x="1392.7" y="505.5"/><path d="M1394.5 505.5V506.5M1393.5 506.5H1396.5" fill="#ff0000" stroke="#ff0000"/><use href="#u1C" x="1395.53" y="505.5"/><use href="#Ce" transform="matrix(2.83 0 0 -2 1395.53 505.46)"/><path d="M1398.5 505.5H1401.5V503.5H1398.5Z" fill="#fff" stroke="#fff"/><use href="#u1G" x="1398.36" y="505.5"/><use href="#Ge" transform="matrix(2.83 0 0 -1.5 1398.36 505.46)"/><path d="M1401.5 505.5H1404.5V504.5H1401.5Z" fill="#fff" stroke="#fff"/><path d="M1400.5 505.5H1401.5" fill="#ffa500" stroke="#ffa500"/><use href="#u1T" x="1401.19" y="505.5"/><path d="M1402.5 505.5H1403.5V508.5H1402.5ZM1401.5 507.5H1404.5V508.5H1401.5Z" fill="#ff0000" stroke="#ff0000"/><use href="#u1T" x="1404.01" y="505.5"/><path d="M1405.5 505.5H1406.5V510.5H1405.5ZM1404.5 509.5H1407.5V510.5H1404.5Z" fill="#ff0000" stroke="#ff0000"/><use href="#u1C" x="1406.84" y="505.5"/><use href="#Ce" transform="matrix(2.83 0 0 -1 1406.84 505.46)"/><path d="M1410.5 505.5H1413.5V504.5H1410.5Z" fill="#fff" stroke="#fff"/><use href="#u1T" x="1409.67" y="505.5"/><path d="M1411.5 505.5V507.5M1410.5 507.5H1413.5" fill="#ff0000" stroke="#ff0000"/><use href="#f1G" x="1412.5" y="505.5"/><use href="#u1A" x="1415.33" y="505.5"/><use href="#A" transform="matrix(2.83 0 0 1 1415.33 505.46)"/><use href="#u1A" x="1418.16" y="505.5"/><use href="#A" transform="matrix(2.83 0 0 1 1418.16 505.46)"/><use href="#u1A" x="1420.99" y="505.5"/><use href="#A" transform="matrix(2.83 0 0 1 1420.99 505.46)"/><use href="#u1A" x="1423.81" y="505.5"/><use href="#A" transform="matrix(2.83 0 0 1 1423.81 505.46)"/><use href="#u1A" x="1426.64" y="505.5"/><use href="#A" transform="matrix(2.83 0 0 1 1426.64 505.46)"/><use href="#u1A" x="1429.47" y="505.5"/><use href="#A" transform="matrix(2.83 0 0 1 1429.47 505.46)"/><use href="#u1A" x="1432.3" y="505.5"/><use href="#A" transform="matrix(2.83 0 0 1 1432.3 505.46)"/><use href="#u1A" x="1435.13" y="505.5"/><use href="#A" transform="matrix(2.83 0 0 1 1435.13 505.46)"/><use href="#u1A" x="1437.96" y="505.5"/><use href="#A" transform="matrix(2.83 0 0 1 1437.96 505.46)"/><use href="#u1A" x="1440.78" y="505.5"/><use href="#A" transform="matrix(2.83 0 0 1 1440.78 505.46)"/><use href="#f1G" x="1443.61" y="505.5"/><use href="#f1A" x="1446.44" y="505.5"/><use href="#u1T" x="1449.27" y="505.5"/><path d="M1450.5 505.5H1451.5V507.5H1450.5ZM1449.5 507.5H1452.5" fill="#ff0000" stroke="#ff0000"/><use href="#f1A" x="1452.1" y="505.5"/><use href="#f1T" x="1454.93" y="505.5"/><use href="#u1G" x="1457.76" y="505.5"/><use href="#Ge" transform="matrix(2.83 0 0 -2.5 1457.76 505.46)"/><path d="M1461.5 505.5H1463.5V503.5H1461.5Z" fill="#fff" stroke="#fff"/><path d="M1460.5 505.5H1461.5V504.5H1460.5ZM1460.5 505.5H1461.5V504.5H1460.5Z" fill="#ffa500" stroke="#ffa500"/><use href="#u1T" x="1460.58" y="505.5"/><path d="M1462.5 505.5V507.5M1461.5 507.5H1463.5" fill="#ff0000" stroke="#ff0000"/><use href="#f1C" x="1463.41" y="505.5"/><use href="#f1A" x="1466.24" y="505.5"/><use href="#f1C" x="1469.07" y="505.5"/><use href="#f1C" x="1471.9" y="505.5"/><use href="#u1G" x="1474.73" y="505.5"/><use href="#Ge" transform="matrix(2.83 0 0 -2 1474.73 505.46)"/><path d="M1478.5 505.5H1480.5V503.5H1478.5Z" fill="#fff" stroke="#fff"/><path d="M1477.5 505.5H1478.5V504.5H1477.5ZM1476.5 505.5H1478.5V504.5H1476.5Z" fill="#ffa500" stroke="#ffa500"/><use href="#f1A" x="1477.55" y="505.5"/><use href="#u1C" x="1480.38" y="505.5"/><use href="#Ce" transform="matrix(2.83 0 0 -3 1480.38 505.46)"/><path d="M1483.5 505.5H1486.5V502.5H1483.5Z" fill="#fff" stroke="#fff"/><use href="#f1A" x="1483.21" y="505.5"/><use href="#u1T" x="1486.04" y="505.5"/><path d="M1487.5 505.5H1488.5V506.5H1487.5ZM1486.5 506.5H1489.5" fill="#ff0000" stroke="#ff0000"/><use href="#u1G" x="1488.87" y="505.5"/><use href="#Ge" transform="matrix(2.83 0 0 -4 1488.87 505.46)"/><path d="M1492.5 505.5H1495.5V501.5H1492.5Z" fill="#fff" stroke="#fff"/><path d="M1491.5 505.5H1492.5V503.5H1491.5ZM1491.5 504.5H1492.5V503.5H1491.5Z" fill="#ffa500" stroke="#ffa500"/><use href="#u1G" x="1491.7" y="505.5"/><use href="#Ge" transform="matrix(2.83 0 0 -1 1491.7 505.46)"/><path d="M1495.5 505.5H1497.5V504.5H1495.5Z" fill="#fff" stroke="#fff"/><path d="M1494.5 505.5H1495.5M1493.5 505.5H1495.5" fill="#ffa500" stroke="#ffa500"/><use href="#u1T" x="1494.53" y="505.5"/><path d="M1496.5 505.5V506.5M1495.5 506.5H1497.5" fill="#ff0000" stroke="#ff0000"/><use href="#u1G" x="1497.35" y="505.5"/><use href="#Ge" transform="matrix(2.83 0 0 2.5 1497.35 505.46)"/><path d="M1500.5 505.5H1503.5V508.5H1500.5Z" fill="#fff" stroke="#fff"/><path d="M1500.5 506.5V507.5M1499.5 506.5H1500.5V507.5H1499.5Z" fill="#ffa500" stroke="#ffa500"/><use href="#u1T" x="1500.18" y="505.5"/><path d="M1501.5 505.5H1502.5V507.5H1501.5ZM1500.5 507.5H1503.5" fill="#ff0000" stroke="#ff0000"/><use href="#u1C" x="1503.01" y="505.5"/><use href="#Ce" transform="matrix(2.83 0 0 -6 1503.01 505.46)"/><path d="M1506.5 505.5H1509.5V499.5H1506.5Z" fill="#fff" stroke="#fff"/><use href="#u1G" x="1505.84" y="505.5"/><use href="#Ge" transform="matrix(2.83 0 0 -4.5 1505.84 505.46)"/><path d="M1509.5 505.5H1511.5V501.5H1509.5Z" fill="#fff" stroke="#fff"/><path d="M1508.5 505.5H1509.5V503.5H1508.5ZM1508.5 504.5H1509.5V503.5H1508.5Z" fill="#ffa500" stroke="#ffa500"/><use href="#u1T" x="1508.67" y="505.5"/><path d="M1509.5 505.5H1511.5" fill="#ff0000" stroke="#ff0000"/><use href="#u1G" x="1511.5" y="505.5"/><use href="#Ge" transform="matrix(2.83 0 0 -3 1511.5 505.46)"/><path d="M1514.5 505.5H1517.5V502.5H1514.5Z" fill="#fff" stroke="#fff"/><path d="M1514.5 505.5V504.5M1513.5 504.5H1514.5" fill="#ffa500" stroke="#ffa500"/><use href="#u1A" x="1514.32" y="505.5"/><use href="#A" transform="matrix(2.83 0 0 -1 1514.32 505.46)"/><use href="#u1T" x="1517.15" y="505.5"/><path d="M1518.5 505.5H1519.5V506.5H1518.5ZM1517.5 506.5H1520.5" fill="#ff0000" stroke="#ff0000"/><use href="#f1G" x="1519.98" y="505.5"/><use href="#f1C" x="1522.81" y="505.5"/><use href="#u1T" x="1525.64" y="505.5"/><path d="M1527.5 505.5V506.5M1526.5 506.5H1528.5" fill="#ff0000" stroke="#ff0000"/><use href="#f1G" x="1528.47" y="505.5"/><use href="#f1T" x="1531.3" y="505.5"/><use href="#f1T" x="1534.12" y="505.5"/><use href="#f1G" x="1536.95" y="505.5"/><use href="#f1T" x="1539.78" y="505.5"/><use href="#f1T" x="1542.61" y="505.5"/><use href="#f1T" x="1545.44" y="505.5"/><use href="#f1T" x="1548.27" y="505.5"/><use href="#f1G" x="1551.09" y="505.5"/><use href="#f1C" x="1553.92" y="505.5"/><use href="#f1C" x="1556.75" y="505.5"/><use href="#f1T" x="1559.58" y="505.5"/><use href="#f1T" x="1562.41" y="505.5"/><use href="#f1T" x="1565.24" y="505.5"/><use href="#f1G" x="1568.07" y="505.5"/><use href="#f1G" x="1570.89" y="505.5"/><use href="#f1C" x="1573.72" y="505.5"/><use href="#f1A" x="1576.55" y="505.5"/><use href="#f1G" x="1579.38" y="505.5"/><use href="#f1C" x="1582.21" y="505.5"/><use href="#f1A" x="1585.04" y="505.5"/><use href="#u1T" x="1587.86" y="505.5"/><path d="M1589.5 505.5H1590.5V507.5H1589.5ZM1588.5 507.5H1591.5" fill="#ff0000" stroke="#ff0000"/><use href="#u1T" x="1590.69" y="505.5"/><path d="M1592.5 505.5V507.5M1591.5 507.5H1594.5" fill="#ff0000" stroke="#ff0000"/><use href="#f1A" x="1593.52" y="505.5"/><use href="#f1A" x="1596.35" y="505.5"/><use href="#f1C" x="1599.18" y="505.5"/><use href="#f1A" x="1602.01" y="505.5"/><use href="#f1C" x="1604.84" y="505.5"/><use href="#f1G" x="1607.66" y="505.5"/><use href="#f1A" x="1610.49" y="505.5"/><use href="#f1G" x="1613.32" y="505.5"/><use href="#f1A" x="1616.15" y="505.5"/><use href="#f1T" x="1618.98" y="505.5"/><use href="#f1A" x="1621.81" y="505.5"/><use href="#f1A" x="1624.64" y="505.5"/><use href="#f1C" x="1627.46" y="505.5"/><use href="#f1C" x="1630.29" y="505.5"/><use href="#u1T" x="1633.12" y="505.5"/><path d="M1634.5 505.5H1635.5V507.5H1634.5ZM1633.5 507.5H1636.5" fill="#ff0000" stroke="#ff0000"/><use href="#f1C" x="1635.95" y="505.5"/><use href="#f1G" x="1638.78" y="505.5"/><use href="#f1G" x="1641.61" y="505.5"/><use href="#f1T" x="1644.43" y="505.5"/><use href="#f1C" x="1647.26" y="505.5"/><use href="#u1T" x="1650.09" y="505.5"/><path d="M1651.5 505.5H1652.5V507.5H1651.5ZM1650.5 507.5H1653.5" fill="#ff0000" stroke="#ff0000"/><use href="#f1T" x="1652.92" y="505.5"/><use href="#f1C" x="1655.75" y="505.5"/><use href="#f1A" x="1658.58" y="505.5"/><use href="#f1C" x="1661.41" y="505.5"/><use href="#u1T" x="1664.23" y="505.5"/><path d="M1665.5 505.5H1666.5V507.5H1665.5ZM1664.5 507.5H1667.5" fill="#ff0000" stroke="#ff0000"/><use href="#f1C" x="1667.06" y="505.5"/><use href="#u1T" x="1669.89" y="505.5"/><path d="M1671.5 505.5H1672.5V507.5H1671.5ZM1670.5 507.5H1673.5" fill="#ff0000" stroke="#ff0000"/><use href="#f1T" x="1672.72" y="505.5"/><use href="#f1A" x="1675.55" y="505.5"/><use href="#f1A" x="1678.38" y="505.5"/><use href="#f1T" x="1681.2" y="505.5"/><use href="#f1T" x="1684.03" y="505.5"/><use href="#f1T" x="1686.86" y="505.5"/><use href="#f1A" x="1689.69" y="505.5"/><use href="#f1C" x="1692.52" y="505.5"/><use href="#f1A" x="1695.35" y="505.5"/><use href="#f1T" x="1698.18" y="505.5"/><use href="#f1T" x="1701" y="505.5"/><use href="#f1A" x="1703.83" y="505.5"/><use href="#f1G" x="1706.66" y="505.5"/><use href="#f1T" x="1709.49" y="505.5"/><use href="#f1A" x="1712.32" y="505.5"/><use href="#f1T" x="1715.15" y="505.5"/><use href="#f1G" x="1717.97" y="505.5"/><use href="#f1T" x="1720.8" y="505.5"/><use href="#f1C" x="1723.63" y="505.5"/><use href="#f1C" x="1726.46" y="505.5"/><use href="#f1A" x="1729.29" y="505.5"/><use href="#f1A" x="1732.12" y="505.5"/><use href="#f1A" x="1734.95" y="505.5"/><use href="#f1C" x="1737.77" y="505.5"/><use href="#f1C" x="1740.6" y="505.5"/><use href="#f1A" x="1743.43" y="505.5"/><use href="#f1G" x="1746.26" y="505.5"/><use href="#f1A" x="1749.09" y="505.5"/><use href="#f1C" x="1751.92" y="505.5"/><use href="#f1A" x="1754.74" y="505.5"/><use href="#f1C" x="1757.57" y="505.5"/><use href="#f1A" x="1760.4" y="505.5"/><use href="#f1C" x="1763.23" y="505.5"/><use href="#f1A" x="1766.06" y="505.5"/><use href="#f1C" x="1768.89" y="505.5"/><use href="#f1A" x="1771.72" y="505.5"/><use href="#f1T" x="1774.54" y="505.5"/><use href="#f1G" x="1777.37" y="505.5"/><use href="#f1A" x="1780.2" y="505.5"/><use href="#f1C" x="1783.03" y="505.5"/><use href="#f1A" x="1785.86" y="505.5"/><use href="#f1C" x="1788.69" y="505.5"/><use href="#f1G" x="1791.51" y="505.5"/><use href="#f1T" x="1794.34" y="505.5"/></g>
<rect x="250.5" y="353.5" width="1550" height="203" fill="none" stroke="#000" stroke-width="1.111"/>
<path d="M253.5 556.5v5.2" stroke="#000" stroke-width="1.111"/>
<path d="M281.5 556.5v5.2" stroke="#000" stroke-width="1.111"/>
<path d="M309.5 556.5v5.2" stroke="#000" stroke-width="1.111"/>
<path d="M338.5 556.5v5.2" stroke="#000" stroke-width="1.111"/>
<path d="M366.5 556.5v5.2" stroke="#000" stroke-width="1.111"/>
<path d="M394.5 556.5v5.2" stroke="#000" stroke-width="1.111"/>
<path d="M423.5 556.5v5.2" stroke="#000" stroke-width="1.111"/>
<path d="M451.5 556.5v5.2" stroke="#000" stroke-width="1.111"/>
<path d="M479.5 556.5v5.2" stroke="#000" stroke-width="1.111"/>
<path d="M507.5 556.5v5.2" stroke="#000" stroke-width="1.111"/>
<path d="M536.5 556.5v5.2" stroke="#000" stroke-width="1.111"/>
<path d="M564.5 556.5v5.2" stroke="#000" stroke-width="1.111"/>
<path d="M592.5 556.5v5.2" stroke="#000" stroke-width="1.111"/>
<path d="M621.5 556.5v5.2" stroke="#000" stroke-width="1.111"/>
<path d="M649.5 556.5v5.2" stroke="#000" stroke-width="1.111"/>
<path d="M677.5 556.5v5.2" stroke="#000" stroke-width="1.111"/>
<path d="M705.5 556.5v5.2" stroke="#000" stroke-width="1.111"/>
<path d="M734.5 556.5v5.2" stroke="#000" stroke-width="1.111"/>
<path d="M762.5 556.5v5.2" stroke="#000" stroke-width="1.111"/>
<path d="M790.5 556.5v5.2" stroke="#000" stroke-width="1.111"/>
<path d="M819.5 556.5v5.2" stroke="#000" stroke-width="1.111"/>
<path d="M847.5 556.5v5.2" stroke="#000" stroke-width="1.111"/>
<path d="M875.5 556.5v5.2" stroke="#000" stroke-width="1.111"/>
<path d="M903.5 556.5v5.2" stroke="#000" stroke-width="1.111"/>
<path d="M932.5 556.5v5.2" stroke="#000" stroke-width="1.111"/>
<path d="M960.5 556.5v5.2" stroke="#000" stroke-width="1.111"/>
<path d="M988.5 556.5v5.2" stroke="#000" stroke-width="1.111"/>
<path d="M1017.5 556.5v5.2" stroke="#000" stroke-width="1.111"/>
<path d="M1045.5 556.5v5.2" stroke="#000" stroke-width="1.111"/>
<path d="M1073.5 556.5v5.2" stroke="#000" stroke-width="1.111"/>
<path d="M1101.5 556.5v5.2" stroke="#000" stroke-width="1.111"/>
<path d="M1130.5 556.5v5.2" stroke="#000" stroke-width="1.111"/>
<path d="M1158.5 556.5v5.2" stroke="#000" stroke-width="1.111"/>
<path d="M1186.5 556.5v5.2" stroke="#000" stroke-width="1.111"/>
<path d="M1215.5 556.5v5.2" stroke="#000" stroke-width="1.111"/>
<path d="M1243.5 556.5v5.2" stroke="#000" stroke-width="1.111"/>
<path d="M1271.5 556.5v5.2" stroke="#000" stroke-width="1.111"/>
<path d="M1299.5 556.5v5.2" stroke="#000" stroke-width="1.111"/>
<path d="M1328.5 556.5v5.2" stroke="#000" stroke-width="1.111"/>
<path d="M1356.5 556.5v5.2" stroke="#000" stroke-width="1.111"/>
<path d="M1384.5 556.5v5.2" stroke="#000" stroke-width="1.111"/>
<path d="M1413.5 556.5v5.2" stroke="#000" stroke-width="1.111"/>
<path d="M1441.5 556.5v5.2" stroke="#000" stroke-width="1.111"/>
<path d="M1469.5 556.5v5.2" stroke="#000" stroke-width="1.111"/>
<path d="M1497.5 556.5v5.2" stroke="#000" stroke-width="1.111"/>
<path d="M1526.5 556.5v5.2" stroke="#000" stroke-width="1.111"/>
<path d="M1554.5 556.5v5.2" stroke="#000" stroke-width="1.111"/>
<path d="M1582.5 556.5v5.2" stroke="#000" stroke-width="1.111"/>
<path d="M1610.5 556.5v5.2" stroke="#000" stroke-width="1.111"/>
<path d="M1639.5 556.5v5.2" stroke="#000" stroke-width="1.111"/>
<path d="M1667.5 556.5v5.2" stroke="#000" stroke-width="1.111"/>
<path d="M1695.5 556.5v5.2" stroke="#000" stroke-width="1.111"/>
<path d="M1724.5 556.5v5.2" stroke="#000" stroke-width="1.111"/>
<path d="M1752.5 556.5v5.2" stroke="#000" stroke-width="1.111"/>
<path d="M1780.5 556.5v5.2" stroke="#000" stroke-width="1.111"/>
<path d="M250.5 353.5h-5.2" stroke="#000" stroke-width="1.111"/>
<path d="M250.5 404.5h-5.2" stroke="#000" stroke-width="1.111"/>
<path d="M250.5 455.5h-5.2" stroke="#000" stroke-width="1.111"/>
<path d="M250.5 505.5h-5.2" stroke="#000" stroke-width="1.111"/>
<path d="M250.5 556.5h-5.2" stroke="#000" stroke-width="1.111"/>
<g clip-path="url(#c2)" stroke-width="1.389"><use href="#f2T" x="252.83" y="733.5"/><use href="#f2T" x="255.66" y="733.5"/><use href="#f2A" x="258.49" y="733.5"/><use href="#f2A" x="261.31" y="733.5"/><use href="#f2G" x="264.14" y="733.5"/><use href="#f2T" x="266.97" y="733.5"/><use href="#f2G" x="269.8" y="733.5"/><use href="#f2A" x="272.63" y="733.5"/><use href="#f2A" x="275.46" y="733.5"/><use href="#f2A" x="278.28" y="733.5"/><use href="#f2G" x="281.11" y="733.5"/><use href="#f2A" x="283.94" y="733.5"/><use href="#f2C" x="286.77" y="733.5"/><use href="#f2C" x="289.6" y="733.5"/><use href="#f2T" x="292.43" y="733.5"/><use href="#f2A" x="295.26" y="733.5"/><use href="#f2A" x="298.08" y="733.5"/><use href="#f2T" x="300.91" y="733.5"/><use href="#f2A" x="303.74" y="733.5"/><use href="#f2A" x="306.57" y="733.5"/><use href="#f2T" x="309.4" y="733.5"/><use href="#f2T" x="312.23" y="733.5"/><use href="#f2T" x="315.05" y="733.5"/><use href="#f2A" x="317.88" y="733.5"/><use href="#f2T" x="320.71" y="733.5"/><use href="#f2G" x="323.54" y="733.5"/><use href="#f2T" x="326.37" y="733.5"/><use href="#f2G" x="329.2" y="733.5"/><use href="#f2C" x="332.03" y="733.5"/><use href="#f2A" x="334.85" y="733.5"/><use href="#f2T" x="337.68" y="733.5"/><use href="#f2C" x="340.51" y="733.5"/><use href="#f2T" x="343.34" y="733.5"/><use href="#f2T" x="346.17" y="733.5"/><use href="#f2T" x="349" y="733.5"/><use href="#f2G" x="351.82" y="733.5"/><use href="#f2T" x="354.65" y="733.5"/><use href="#f2G" x="357.48" y="733.5"/><use href="#f2A" x="360.31" y="733.5"/><use href="#f2A" x="363.14" y="733.5"/><use href="#f2G" x="365.97" y="733.5"/><use href="#f2T" x="368.8" y="733.5"/><use href="#f2T" x="371.62" y="733.5"/><use href="#f2T" x="374.45" y="733.5"/><use href="#f2A" x="377.28" y="733.5"/><use href="#f2C" x="380.11" y="733.5"/><use href="#f2C" x="382.94" y="733.5"/><use href="#f2G" x="385.77" y="733.5"/><use href="#f2T" x="388.59" y="733.5"/><use href="#f2T" x="391.42" y="733.5"/><use href="#f2T" x="394.25" y="733.5"/><use href="#f2T" x="397.08" y="733.5"/><use href="#f2T" x="399.91" y="733.5"/><use href="#f2G" x="402.74" y="733.5"/><use href="#f2T" x="405.57" y="733.5"/><use href="#f2A" x="408.39" y="733.5"/><use href="#f2A" x="411.22" y="733.5"/><use href="#f2G" x="414.05" y="733.5"/><use href="#f2A" x="416.88" y="733.5"/><use href="#f2A" x="419.71" y="733.5"/><use href="#f2A" x="422.54" y="733.5"/><use href="#f2T" x="425.36" y="733.5"/><use href="#f2A" x="428.19" y="733.5"/><use href="#f2T" x="431.02" y="733.5"/><use href="#f2G" x="433.85" y="733.5"/><use href="#f2G" x="436.68" y="733.5"/><use href="#f2G" x="439.51" y="733.5"/><use href="#f2G" x="442.34" y="733.5"/><use href="#f2G" x="445.16" y="733.5"/><use href="#f2A" x="447.99" y="733.5"/><use href="#f2A" x="450.82" y="733.5"/><use href="#f2C" x="453.65" y="733.5"/><use href="#f2T" x="456.48" y="733.5"/><use href="#f2G" x="459.31" y="733.5"/><use href="#f2A" x="462.14" y="733.5"/><use href="#f2G" x="464.96" y="733.5"/><use href="#f2C" x="467.79" y="733.5"/><use href="#f2T" x="470.62" y="733.5"/><use href="#f2G" x="473.45" y="733.5"/><use href="#f2T" x="476.28" y="733.5"/><use href="#f2A" x="479.11" y="733.5"/><use href="#f2T" x="481.93" y="733.5"/><use href="#f2T" x="484.76" y="733.5"/><use href="#u2T" x="487.59" y="733.5"/><path d="M489.5 733.5V734.5M488.5 734.5H490.5" fill="#ff0000" stroke="#ff0000"/><use href="#f2T" x="490.42" y="733.5"/><use href="#f2T" x="493.25" y="733.5"/><use href="#f2G" x="496.08" y="733.5"/><use href="#f2G" x="498.91" y="733.5"/><use href="#f2T" x="501.73" y="733.5"/><use href="#f2G" x="504.56" y="733.5"/><use href="#f2G" x="507.39" y="733.5"/><use href="#f2T" x="510.22" y="733.5"/><use href="#f2A" x="513.05" y="733.5"/><use href="#f2T" x="515.88" y="733.5"/><use href="#f2T" x="518.7" y="733.5"/><use href="#f2C" x="521.53" y="733.5"/><use href="#f2A" x="524.36" y="733.5"/><use href="#u2A" x="527.19" y="733.5"/><use href="#A" transform="matrix(2.83 0 0 -1 527.19 733.06)"/><use href="#f2A" x="530.02" y="733.5"/><use href="#u2T" x="532.85" y="733.5"/><path d="M534.5 733.5H535.5V735.5H534.5ZM533.5 734.5H536.5V735.5H533.5Z" fill="#ff0000" stroke="#ff0000"/><use href="#f2G" x="535.68" y="733.5"/><use href="#f2G" x="538.5" y="733.5"/><use href="#u2A" x="541.33" y="733.5"/><use href="#A" transform="matrix(2.83 0 0 -1 541.33 733.06)"/><use href="#f2A" x="544.16" y="733.5"/><use href="#f2G" x="546.99" y="733.5"/><use href="#f2A" x="549.82" y="733.5"/><use href="#f2C" x="552.65" y="733.5"/><use href="#f2C" x="555.47" y="733.5"/><use href="#f2T" x="558.3" y="733.5"/><use href="#f2T" x="561.13" y="733.5"/><use href="#u2T" x="563.96" y="733.5"/><path d="M565.5 733.5H566.5V732.5H565.5ZM564.5 732.5H567.5" fill="#ff0000" stroke="#ff0000"/><use href="#f2T" x="566.79" y="733.5"/><use href="#f2G" x="569.62" y="733.5"/><use href="#u2C" x="572.45" y="733.5"/><use href="#Ce" transform="matrix(2.83 0 0 -1 572.45 733.06)"/><path d="M575.5 733.5H578.5V732.5H575.5Z" fill="#fff" stroke="#fff"/><use href="#u2C" x="575.27" y="733.5"/><use href="#Ce" transform="matrix(2.83 0 0 -2 575.27 733.06)"/><path d="M578.5 733.5H581.5V731.5H578.5Z" fill="#fff" stroke="#fff"/><use href="#f2G" x="578.1" y="733.5"/><use href="#u2A" x="580.93" y="733.5"/><use href="#A" transform="matrix(2.83 0 0 -1.5 580.93 733.06)"/><use href="#f2T" x="583.76" y="733.5"/><use href="#f2T" x="586.59" y="733.5"/><use href="#u2C" x="589.42" y="733.5"/><use href="#Ce" transform="matrix(2.83 0 0 1.5 589.42 733.06)"/><path d="M592.5 733.5H595.5V735.5H592.5Z" fill="#fff" stroke="#fff"/><use href="#f2C" x="592.24" y="733.5"/><use href="#f2G" x="595.07" y="733.5"/><use href="#u2T" x="597.9" y="733.5"/><path d="M599.5 733.5H600.5V736.5H599.5ZM598.5 735.5H601.5V736.5H598.5Z" fill="#ff0000" stroke="#ff0000"/><use href="#u2A" x="600.73" y="733.5"/><use href="#A" transform="matrix(2.83 0 0 -1 600.73 733.06)"/><use href="#f2G" x="603.56" y="733.5"/><use href="#f2A" x="606.39" y="733.5"/><use href="#u2T" x="609.22" y="733.5"/><path d="M610.5 733.5H611.5V730.5H610.5ZM609.5 731.5H612.5V730.5H609.5Z" fill="#ff0000" stroke="#ff0000"/><use href="#u2C" x="612.04" y="733.5"/><use href="#Ce" transform="matrix(2.83 0 0 2.8 612.04 733.06)"/><path d="M615.5 733.5H618.5V736.5H615.5Z" fill="#fff" stroke="#fff"/><use href="#u2T" x="614.87" y="733.5"/><path d="M616.5 733.5H617.5V732.5H616.5ZM615.5 732.5H618.5" fill="#ff0000" stroke="#ff0000"/><use href="#f2G" x="617.7" y="733.5"/><use href="#u2A" x="620.53" y="733.5"/><use href="#A" transform="matrix(2.83 0 0 -1.5 620.53 733.06)"/><use href="#u2T" x="623.36" y="733.5"/><path d="M624.5 733.5H625.5V736.5H624.5ZM623.5 735.5H626.5V736.5H623.5Z" fill="#ff0000" stroke="#ff0000"/><use href="#u2T" x="626.19" y="733.5"/><path d="M627.5 733.5H628.5V738.5H627.5ZM626.5 737.5H629.5V738.5H626.5Z" fill="#ff0000" stroke="#ff0000"/><use href="#u2G" x="629.01" y="733.5"/><use href="#Ge" transform="matrix(2.83 0 0 -2 629.01 733.06)"/><path d="M632.5 733.5H635.5V731.5H632.5Z" fill="#fff" stroke="#fff"/><path d="M631.5 733.5H632.5V732.5H631.5ZM631.5 732.5H632.5" fill="#ffa500" stroke="#ffa500"/><use href="#u2A" x="631.84" y="733.5"/><use href="#A" transform="matrix(2.83 0 0 -0.8 631.84 733.06)"/><use href="#u2G" x="634.67" y="733.5"/><use href="#Ge" transform="matrix(2.83 0 0 -1.5 634.67 733.06)"/><path d="M638.5 733.5H640.5V732.5H638.5Z" fill="#fff" stroke="#fff"/><path d="M637.5 733.5V732.5M636.5 733.5H637.5V732.5H636.5Z" fill="#ffa500" stroke="#ffa500"/><use href="#u2A" x="637.5" y="733.5"/><use href="#A" transform="matrix(2.83 0 0 2.5 637.5 733.06)"/><use href="#u2G" x="640.33" y="733.5"/><use href="#Ge" transform="matrix(2.83 0 0 -4.8 640.33 733.06)"/><path d="M643.5 733.5H646.5V728.5H643.5Z" fill="#fff" stroke="#fff"/><path d="M643.5 733.5V731.5M642.5 731.5H643.5" fill="#ffa500" stroke="#ffa500"/><use href="#u2A" x="643.16" y="733.5"/><use href="#A" transform="matrix(2.83 0 0 -1.5 643.16 733.06)"/><use href="#u2G" x="645.99" y="733.5"/><use href="#Ge" transform="matrix(2.83 0 0 -0.5 645.99 733.06)"/><path d="M649.5 733.5H652.5" fill="#fff" stroke="#fff"/><path d="M648.5 733.5H649.5M648.5 733.5H649.5" fill="#ffa500" stroke="#ffa500"/><use href="#u2T" x="648.81" y="733.5"/><path d="M650.5 733.5H651.5V735.5H650.5ZM649.5 734.5H652.5V735.5H649.5Z" fill="#ff0000" stroke="#ff0000"/><use href="#u2T" x="651.64" y="733.5"/><path d="M653.5 733.5V739.5M652.5 737.5H654.5V739.5H652.5Z" fill="#ff0000" stroke="#ff0000"/><use href="#u2C" x="654.47" y="733.5"/><use href="#Ce" transform="matrix(2.83 0 0 1 654.47 733.06)"/><path d="M657.5 733.5H660.5V734.5H657.5Z" fill="#fff" stroke="#fff"/><use href="#u2C" x="657.3" y="733.5"/><use href="#Ce" transform="matrix(2.83 0 0 2.5 657.3 733.06)"/><path d="M660.5 733.5H663.5V736.5H660.5Z" fill="#fff" stroke="#fff"/><use href="#u2C" x="660.13" y="733.5"/><use href="#Ce" transform="matrix(2.83 0 0 -6 660.13 733.06)"/><path d="M663.5 733.5H666.5V727.5H663.5Z" fill="#fff" stroke="#fff"/><use href="#u2C" x="662.96" y="733.5"/><use href="#Ce" transform="matrix(2.83 0 0 -2.8 662.96 733.06)"/><path d="M666.5 733.5H669.5V730.5H666.5Z" fill="#fff" stroke="#fff"/><use href="#u2G" x="665.78" y="733.5"/><use href="#Ge" transform="matrix(2.83 0 0 2.8 665.78 733.06)"/><path d="M669.5 733.5H671.5V736.5H669.5Z" fill="#fff" stroke="#fff"/><path d="M668.5 733.5H669.5V734.5H668.5ZM668.5 734.5H669.5" fill="#ffa500" stroke="#ffa500"/><use href="#u2T" x="668.61" y="733.5"/><path d="M670.5 733.5V731.5M669.5 731.5H671.5" fill="#ff0000" stroke="#ff0000"/><use href="#u2G" x="671.44" y="733.5"/><use href="#Ge" transform="matrix(2.83 0 0 3.5 671.44 733.06)"/><path d="M674.5 733.5H677.5V737.5H674.5Z" fill="#fff" stroke="#fff"/><path d="M674.5 733.5V735.5M673.5 734.5H674.5V735.5H673.5Z" fill="#ffa500" stroke="#ffa500"/><use href="#u2C" x="674.27" y="733.5"/><use href="#Ce" transform="matrix(2.83 0 0 -6 674.27 733.06)"/><path d="M677.5 733.5H680.5V727.5H677.5Z" fill="#fff" stroke="#fff"/><use href="#u2T" x="677.1" y="733.5"/><path d="M678.5 733.5H679.5M677.5 733.5H680.5" fill="#ff0000" stroke="#ff0000"/><use href="#u2T" x="679.93" y="733.5"/><path d="M681.5 733.5H682.5V736.5H681.5ZM680.5 735.5H683.5V736.5H680.5Z" fill="#ff0000" stroke="#ff0000"/><use href="#u2T" x="682.76" y="733.5"/><path d="M684.5 733.5V737.5M683.5 737.5H686.5" fill="#ff0000" stroke="#ff0000"/><use href="#u2A" x="685.58" y="733.5"/><use href="#A" transform="matrix(2.83 0 0 -1 685.58 733.06)"/><use href="#u2C" x="688.41" y="733.5"/><use href="#Ce" transform="matrix(2.83 0 0 -8.8 688.41 733.06)"/><path d="M691.5 733.5H694.5V724.5H691.5Z" fill="#fff" stroke="#fff"/><use href="#u2A" x="691.24" y="733.5"/><use href="#A" transform="matrix(2.83 0 0 0.5 691.24 733.06)"/><use href="#u2A" x="694.07" y="733.5"/><use href="#A" transform="matrix(2.83 0 0 4.8 694.07 733.06)"/><use href="#u2A" x="696.9" y="733.5"/><use href="#A" transform="matrix(2.83 0 0 4.4 696.9 733.06)"/><use href="#u2A" x="699.73" y="733.5"/><use href="#A" transform="matrix(2.83 0 0 -3.5 699.73 733.06)"/><use href="#u2A" x="702.55" y="733.5"/><use href="#A" transform="matrix(2.83 0 0 -1 702.55 733.06)"/><use href="#u2G" x="705.38" y="733.5"/><use href="#Ge" transform="matrix(2.83 0 0 7.6 705.38 733.06)"/><path d="M708.5 733.5H711.5V741.5H708.5Z" fill="#fff" stroke="#fff"/><path d="M708.5 734.5V737.5M707.5 736.5H708.5V737.5H707.5Z" fill="#ffa500" stroke="#ffa500"/><use href="#u2A" x="708.21" y="733.5"/><use href="#A" transform="matrix(2.83 0 0 -2 708.21 733.06)"/><use href="#u2C" x="711.04" y="733.5"/><use href="#Ce" transform="matrix(2.83 0 0 4.8 711.04 733.06)"/><path d="M714.5 733.5H717.5V738.5H714.5Z" fill="#fff" stroke="#fff"/><use href="#u2A" x="713.87" y="733.5"/><use href="#A" transform="matrix(2.83 0 0 4 713.87 733.06)"/><use href="#u2A" x="716.7" y="733.5"/><use href="#A" transform="matrix(2.83 0 0 -1.5 716.7 733.06)"/><use href="#u2A" x="719.53" y="733.5"/><use href="#A" transform="matrix(2.83 0 0 -1 719.53 733.06)"/><use href="#u2G" x="722.35" y="733.5"/><use href="#Ge" transform="matrix(2.83 0 0 12.4 722.35 733.06)"/><path d="M725.5 733.5H728.5V745.5H725.5Z" fill="#fff" stroke="#fff"/><path d="M725.5 734.5V739.5M724.5 737.5H725.5V739.5H724.5Z" fill="#ffa500" stroke="#ffa500"/><use href="#u2A" x="725.18" y="733.5"/><use href="#A" transform="matrix(2.83 0 0 -1.5 725.18 733.06)"/><use href="#u2A" x="728.01" y="733.5"/><use href="#A" transform="matrix(2.83 0 0 4.8 728.01 733.06)"/><use href="#u2G" x="730.84" y="733.5"/><use href="#Ge" transform="matrix(2.83 0 0 -10.4 730.84 733.06)"/><path d="M734.5 733.5H736.5V723.5H734.5Z" fill="#fff" stroke="#fff"/><path d="M733.5 732.5H734.5V728.5H733.5ZM733.5 729.5H734.5V728.5H733.5Z" fill="#ffa500" stroke="#ffa500"/><use href="#u2A" x="733.67" y="733.5"/><use href="#A" transform="matrix(2.83 0 0 3.2 733.67 733.06)"/><use href="#u2A" x="736.5" y="733.5"/><use href="#A" transform="matrix(2.83 0 0 4 736.5 733.06)"/><use href="#u2C" x="739.32" y="733.5"/><use href="#Ce" transform="matrix(2.83 0 0 5.6 739.32 733.06)"/><path d="M742.5 733.5H745.5V739.5H742.5Z" fill="#fff" stroke="#fff"/><use href="#u2A" x="742.15" y="733.5"/><use href="#A" transform="matrix(2.83 0 0 9.6 742.15 733.06)"/><use href="#u2A" x="744.98" y="733.5"/><use href="#A" transform="matrix(2.83 0 0 5.6 744.98 733.06)"/><use href="#u2A" x="747.81" y="733.5"/><use href="#A" transform="matrix(2.83 0 0 9.6 747.81 733.06)"/><use href="#u2A" x="750.64" y="733.5"/><use href="#A" transform="matrix(2.83 0 0 4 750.64 733.06)"/><use href="#u2C" x="753.47" y="733.5"/><use href="#Ce" transform="matrix(2.83 0 0 -8.8 753.47 733.06)"/><path d="M756.5 733.5H759.5V724.5H756.5Z" fill="#fff" stroke="#fff"/><use href="#u2G" x="756.3" y="733.5"/><use href="#Ge" transform="matrix(2.83 0 0 -8 756.3 733.06)"/><path d="M759.5 733.5H762.5V725.5H759.5Z" fill="#fff" stroke="#fff"/><path d="M759.5 732.5V729.5M758.5 730.5H759.5V729.5H758.5Z" fill="#ffa500" stroke="#ffa500"/><use href="#u2T" x="759.12" y="733.5"/><path d="M760.5 733.5H761.5V749.5H760.5ZM759.5 746.5H762.5V749.5H759.5Z" fill="#ff0000" stroke="#ff0000"/><use href="#u2T" x="761.95" y="733.5"/><path d="M763.5 733.5H764.5V732.5H763.5ZM762.5 732.5H765.5" fill="#ff0000" stroke="#ff0000"/><use href="#u2C" x="764.78" y="733.5"/><use href="#Ce" transform="matrix(2.83 0 0 -6 764.78 733.06)"/><path d="M768.5 733.5H770.5V727.5H768.5Z" fill="#fff" stroke="#fff"/><use href="#u2G" x="767.61" y="733.5"/><use href="#Ge" transform="matrix(2.83 0 0 -1.5 767.61 733.06)"/><path d="M770.5 733.5H773.5V732.5H770.5Z" fill="#fff" stroke="#fff"/><path d="M770.5 733.5V732.5M769.5 733.5H770.5V732.5H769.5Z" fill="#ffa500" stroke="#ffa500"/><use href="#u2C" x="770.44" y="733.5"/><use href="#Ce" transform="matrix(2.83 0 0 -4 770.44 733.06)"/><path d="M773.5 733.5H776.5V729.5H773.5Z" fill="#fff" stroke="#fff"/><use href="#u2G" x="773.27" y="733.5"/><use href="#Ge" transform="matrix(2.83 0 0 -0.5 773.27 733.06)"/><path d="M776.5 733.5H779.5" fill="#fff" stroke="#fff"/><path d="M775.5 733.5H776.5" fill="#ffa500" stroke="#ffa500"/><use href="#u2T" x="776.09" y="733.5"/><path d="M777.5 733.5H778.5V741.5H777.5ZM776.5 739.5H779.5V741.5H776.5Z" fill="#ff0000" stroke="#ff0000"/><use href="#u2G" x="778.92" y="733.5"/><use href="#Ge" transform="matrix(2.83 0 0 -5 778.92 733.06)"/><path d="M782.5 733.5H785.5V728.5H782.5Z" fill="#fff" stroke="#fff"/><path d="M781.5 733.5H782.5V731.5H781.5ZM781.5 731.5H782.5" fill="#ffa500" stroke="#ffa500"/><use href="#u2C" x="781.75" y="733.5"/><use href="#Ce" transform="matrix(2.83 0 0 -7.2 781.75 733.06)"/><path d="M785.5 733.5H787.5V726.5H785.5Z" fill="#fff" stroke="#fff"/><use href="#u2A" x="784.58" y="733.5"/><use href="#A" transform="matrix(2.83 0 0 5.6 784.58 733.06)"/><use href="#u2A" x="787.41" y="733.5"/><use href="#A" transform="matrix(2.83 0 0 6 787.41 733.06)"/><use href="#u2T" x="790.24" y="733.5"/><path d="M791.5 733.5H792.5V737.5H791.5ZM790.5 736.5H793.5V737.5H790.5Z" fill="#ff0000" stroke="#ff0000"/><use href="#u2T" x="793.07" y="733.5"/><path d="M794.5 733.5H795.5V737.5H794.5ZM793.5 736.5H796.5V737.5H793.5Z" fill="#ff0000" stroke="#ff0000"/><use href="#u2C" x="795.89" y="733.5"/><use href="#Ce" transform="matrix(2.83 0 0 -8.4 795.89 733.06)"/><path d="M799.5 733.5H802.5V725.5H799.5Z" fill="#fff" stroke="#fff"/><use href="#u2T" x="798.72" y="733.5"/><path d="M800.5 733.5V737.5M799.5 737.5H802.5" fill="#ff0000" stroke="#ff0000"/><use href="#u2A" x="801.55" y="733.5"/><use href="#A" transform="matrix(2.83 0 0 7.6 801.55 733.06)"/><use href="#u2C" x="804.38" y="733.5"/><use href="#Ce" transform="matrix(2.83 0 0 -10.8 804.38 733.06)"/><path d="M807.5 733.5H810.5V722.5H807.5Z" fill="#fff" stroke="#fff"/><use href="#u2T" x="807.21" y="733.5"/><path d="M808.5 733.5H809.5V739.5H808.5ZM807.5 738.5H810.5V739.5H807.5Z" fill="#ff0000" stroke="#ff0000"/><use href="#u2C" x="810.04" y="733.5"/><use href="#Ce" transform="matrix(2.83 0 0 -4.8 810.04 733.06)"/><path d="M813.5 733.5H816.5V728.5H813.5Z" fill="#fff" stroke="#fff"/><use href="#u2C" x="812.86" y="733.5"/><use href="#Ce" transform="matrix(2.83 0 0 13.2 812.86 733.06)"/><path d="M816.5 733.5H819.5V746.5H816.5Z" fill="#fff" stroke="#fff"/><use href="#u2T" x="815.69" y="733.5"/><path d="M817.5 733.5V730.5M816.5 730.5H819.5" fill="#ff0000" stroke="#ff0000"/><use href="#u2T" x="818.52" y="733.5"/><path d="M820.5 733.5V743.5M819.5 741.5H821.5V743.5H819.5Z" fill="#ff0000" stroke="#ff0000"/><use href="#u2G" x="821.35" y="733.5"/><use href="#Ge" transform="matrix(2.83 0 0 8.4 821.35 733.06)"/><path d="M824.5 733.5H827.5V741.5H824.5Z" fill="#fff" stroke="#fff"/><path d="M824.5 734.5V737.5M823.5 736.5H824.5V737.5H823.5Z" fill="#ffa500" stroke="#ffa500"/><use href="#u2G" x="824.18" y="733.5"/><use href="#Ge" transform="matrix(2.83 0 0 -0.5 824.18 733.06)"/><path d="M827.5 733.5H830.5" fill="#fff" stroke="#fff"/><path d="M826.5 733.5H827.5" fill="#ffa500" stroke="#ffa500"/><use href="#u2G" x="827.01" y="733.5"/><use href="#Ge" transform="matrix(2.83 0 0 -6.8 827.01 733.06)"/><path d="M830.5 733.5H833.5V726.5H830.5Z" fill="#fff" stroke="#fff"/><path d="M829.5 732.5H830.5V730.5H829.5ZM829.5 731.5H830.5V730.5H829.5Z" fill="#ffa500" stroke="#ffa500"/><use href="#u2T" x="829.84" y="733.5"/><path d="M831.5 733.5H832.5V743.5H831.5ZM830.5 741.5H833.5V743.5H830.5Z" fill="#ff0000" stroke="#ff0000"/><use href="#u2C" x="832.66" y="733.5"/><use href="#Ce" transform="matrix(2.83 0 0 -5.2 832.66 733.06)"/><path d="M835.5 733.5H838.5V728.5H835.5Z" fill="#fff" stroke="#fff"/><use href="#u2T" x="835.49" y="733.5"/><path d="M837.5 733.5V744.5M835.5 742.5H838.5V744.5H835.5Z" fill="#ff0000" stroke="#ff0000"/><use href="#u2G" x="838.32" y="733.5"/><use href="#Ge" transform="matrix(2.83 0 0 4.8 838.32 733.06)"/><path d="M841.5 733.5H844.5V738.5H841.5Z" fill="#fff" stroke="#fff"/><path d="M841.5 733.5V735.5M840.5 735.5H841.5" fill="#ffa500" stroke="#ffa500"/><use href="#u2T" x="841.15" y="733.5"/><path d="M842.5 733.5H843.5V741.5H842.5ZM841.5 739.5H844.5V741.5H841.5Z" fill="#ff0000" stroke="#ff0000"/><use href="#u2A" x="843.98" y="733.5"/><use href="#A" transform="matrix(2.83 0 0 9.6 843.98 733.06)"/><use href="#u2G" x="846.81" y="733.5"/><use href="#Ge" transform="matrix(2.83 0 0 -23.6 846.81 733.06)"/><path d="M850.5 733.5H852.5V709.5H850.5Z" fill="#fff" stroke="#fff"/><path d="M849.5 731.5H850.5V721.5H849.5ZM849.5 725.5H850.5V721.5H849.5Z" fill="#ffa500" stroke="#ffa500"/><use href="#u2T" x="849.64" y="733.5"/><path d="M851.5 733.5V734.5M850.5 733.5H852.5V734.5H850.5Z" fill="#ff0000" stroke="#ff0000"/><use href="#u2G" x="852.46" y="733.5"/><use href="#Ge" transform="matrix(2.83 0 0 8.4 852.46 733.06)"/><path d="M855.5 733.5H858.5V741.5H855.5Z" fill="#fff" stroke="#fff"/><path d="M855.5 734.5V737.5M854.5 736.5H855.5V737.5H854.5Z" fill="#ffa500" stroke="#ffa500"/><use href="#u2A" x="855.29" y="733.5"/><use href="#A" transform="matrix(2.83 0 0 -16 855.29 733.06)"/><use href="#u2T" x="858.12" y="733.5"/><path d="M859.5 733.5H860.5V732.5H859.5ZM858.5 732.5H861.5" fill="#ff0000" stroke="#ff0000"/><use href="#u2T" x="860.95" y="733.5"/><path d="M862.5 733.5H863.5V741.5H862.5ZM861.5 739.5H864.5V741.5H861.5Z" fill="#ff0000" stroke="#ff0000"/><use href="#u2T" x="863.78" y="733.5"/><path d="M865.5 733.5V745.5M864.5 742.5H867.5V745.5H864.5Z" fill="#ff0000" stroke="#ff0000"/><use href="#u2A" x="866.61" y="733.5"/><use href="#A" transform="matrix(2.83 0 0 2.4 866.61 733.06)"/><use href="#u2G" x="869.43" y="733.5"/><use href="#Ge" transform="matrix(2.83 0 0 8.4 869.43 733.06)"/><path d="M872.5 733.5H875.5V741.5H872.5Z" fill="#fff" stroke="#fff"/><path d="M872.5 734.5V737.5M871.5 736.5H872.5V737.5H871.5Z" fill="#ffa500" stroke="#ffa500"/><use href="#u2A" x="872.26" y="733.5"/><use href="#A" transform="matrix(2.83 0 0 -1.6 872.26 733.06)"/><use href="#u2A" x="875.09" y="733.5"/><use href="#A" transform="matrix(2.83 0 0 5.2 875.09 733.06)"/><use href="#u2G" x="877.92" y="733.5"/><use href="#Ge" transform="matrix(2.83 0 0 -6.4 877.92 733.06)"/><path d="M881.5 733.5H884.5V727.5H881.5Z" fill="#fff" stroke="#fff"/><path d="M880.5 733.5H881.5V730.5H880.5ZM880.5 731.5H881.5V730.5H880.5Z" fill="#ffa500" stroke="#ffa500"/><use href="#u2A" x="880.75" y="733.5"/><use href="#A" transform="matrix(2.83 0 0 -2.8 880.75 733.06)"/><use href="#u2A" x="883.58" y="733.5"/><use href="#A" transform="matrix(2.83 0 0 3.6 883.58 733.06)"/><use href="#u2T" x="886.41" y="733.5"/><path d="M888.5 733.5V727.5M886.5 728.5H889.5V727.5H886.5Z" fill="#ff0000" stroke="#ff0000"/><use href="#u2T" x="889.23" y="733.5"/><path d="M890.5 733.5H891.5V742.5H890.5ZM889.5 740.5H892.5V742.5H889.5Z" fill="#ff0000" stroke="#ff0000"/><use href="#u2T" x="892.06" y="733.5"/><path d="M893.5 733.5H894.5V741.5H893.5ZM892.5 739.5H895.5V741.5H892.5Z" fill="#ff0000" stroke="#ff0000"/><use href="#u2T" x="894.89" y="733.5"/><path d="M896.5 733.5H897.5V726.5H896.5ZM895.5 728.5H898.5V726.5H895.5Z" fill="#ff0000" stroke="#ff0000"/><use href="#u2G" x="897.72" y="733.5"/><use href="#Ge" transform="matrix(2.83 0 0 -21.2 897.72 733.06)"/><path d="M901.5 733.5H903.5V712.5H901.5Z" fill="#fff" stroke="#fff"/><path d="M900.5 731.5H901.5V722.5H900.5ZM899.5 726.5H901.5V722.5H899.5Z" fill="#ffa500" stroke="#ffa500"/><use href="#u2T" x="900.55" y="733.5"/><path d="M902.5 733.5V725.5M901.5 727.5H903.5V725.5H901.5Z" fill="#ff0000" stroke="#ff0000"/><use href="#u2G" x="903.38" y="733.5"/><use href="#Ge" transform="matrix(2.83 0 0 9.6 903.38 733.06)"/><path d="M906.5 733.5H909.5V743.5H906.5Z" fill="#fff" stroke="#fff"/><path d="M906.5 734.5V738.5M905.5 736.5H906.5V738.5H905.5Z" fill="#ffa500" stroke="#ffa500"/><use href="#u2T" x="906.2" y="733.5"/><path d="M907.5 733.5H908.5V731.5H907.5ZM906.5 732.5H909.5V731.5H906.5Z" fill="#ff0000" stroke="#ff0000"/><use href="#u2C" x="909.03" y="733.5"/><use href="#Ce" transform="matrix(2.83 0 0 -10.4 909.03 733.06)"/><path d="M912.5 733.5H915.5V723.5H912.5Z" fill="#fff" stroke="#fff"/><use href="#u2G" x="911.86" y="733.5"/><use href="#Ge" transform="matrix(2.83 0 0 -20 911.86 733.06)"/><path d="M915.5 733.5H918.5V713.5H915.5Z" fill="#fff" stroke="#fff"/><path d="M914.5 731.5H915.5V723.5H914.5ZM914.5 726.5H915.5V723.5H914.5Z" fill="#ffa500" stroke="#ffa500"/><use href="#u2T" x="914.69" y="733.5"/><path d="M916.5 733.5V737.5M915.5 736.5H918.5V737.5H915.5Z" fill="#ff0000" stroke="#ff0000"/><use href="#u2G" x="917.52" y="733.5"/><use href="#Ge" transform="matrix(2.83 0 0 -4 917.52 733.06)"/><path d="M920.5 733.5H923.5V729.5H920.5Z" fill="#fff" stroke="#fff"/><path d="M920.5 733.5V731.5M919.5 732.5H920.5V731.5H919.5Z" fill="#ffa500" stroke="#ffa500"/><use href="#u2T" x="920.35" y="733.5"/><path d="M921.5 733.5H922.5V751.5H921.5ZM920.5 748.5H923.5V751.5H920.5Z" fill="#ff0000" stroke="#ff0000"/><use href="#u2C" x="923.18" y="733.5"/><use href="#Ce" transform="matrix(2.83 0 0 -16.8 923.18 733.06)"/><path d="M926.5 733.5H929.5V716.5H926.5Z" fill="#fff" stroke="#fff"/><use href="#u2T" x="926" y="733.5"/><path d="M927.5 733.5H928.5V747.5H927.5ZM926.5 744.5H929.5V747.5H926.5Z" fill="#ff0000" stroke="#ff0000"/><use href="#u2C" x="928.83" y="733.5"/><use href="#Ce" transform="matrix(2.83 0 0 -8.4 928.83 733.06)"/><path d="M932.5 733.5H934.5V725.5H932.5Z" fill="#fff" stroke="#fff"/><use href="#u2T" x="931.66" y="733.5"/><path d="M933.5 733.5V735.5M932.5 734.5H934.5V735.5H932.5Z" fill="#ff0000" stroke="#ff0000"/><use href="#u2T" x="934.49" y="733.5"/><path d="M936.5 733.5V735.5M934.5 734.5H937.5V735.5H934.5Z" fill="#ff0000" stroke="#ff0000"/><use href="#u2G" x="937.32" y="733.5"/><use href="#Ge" transform="matrix(2.83 0 0 -40 937.32 733.06)"/><path d="M940.5 733.5H943.5V693.5H940.5Z" fill="#fff" stroke="#fff"/><path d="M940.5 730.5V713.5M939.5 719.5H940.5V713.5H939.5Z" fill="#ffa500" stroke="#ffa500"/><use href="#u2C" x="940.15" y="733.5"/><use href="#Ce" transform="matrix(2.83 0 0 5.6 940.15 733.06)"/><path d="M943.5 733.5H946.5V739.5H943.5Z" fill="#fff" stroke="#fff"/><use href="#u2G" x="942.97" y="733.5"/><use href="#Ge" transform="matrix(2.83 0 0 -0.5 942.97 733.06)"/><path d="M946.5 733.5H949.5" fill="#fff" stroke="#fff"/><path d="M945.5 733.5H946.5M945.5 733.5H946.5" fill="#ffa500" stroke="#ffa500"/><use href="#u2G" x="945.8" y="733.5"/><use href="#Ge" transform="matrix(2.83 0 0 16.8 945.8 733.06)"/><path d="M949.5 733.5H951.5V750.5H949.5Z" fill="#fff" stroke="#fff"/><path d="M948.5 734.5H949.5V741.5H948.5ZM948.5 739.5H949.5V741.5H948.5Z" fill="#ffa500" stroke="#ffa500"/><use href="#u2T" x="948.63" y="733.5"/><path d="M950.5 733.5V743.5M949.5 741.5H951.5V743.5H949.5Z" fill="#ff0000" stroke="#ff0000"/><use href="#u2A" x="951.46" y="733.5"/><use href="#A" transform="matrix(2.83 0 0 -19.6 951.46 733.06)"/><use href="#u2T" x="954.29" y="733.5"/><path d="M955.5 733.5H956.5V725.5H955.5ZM954.5 727.5H957.5V725.5H954.5Z" fill="#ff0000" stroke="#ff0000"/><use href="#u2T" x="957.12" y="733.5"/><path d="M958.5 733.5H959.5V742.5H958.5ZM957.5 740.5H960.5V742.5H957.5Z" fill="#ff0000" stroke="#ff0000"/><use href="#u2T" x="959.95" y="733.5"/><path d="M961.5 733.5H962.5V743.5H961.5ZM960.5 741.5H963.5V743.5H960.5Z" fill="#ff0000" stroke="#ff0000"/><use href="#u2T" x="962.77" y="733.5"/><path d="M964.5 733.5V757.5M963.5 752.5H966.5V757.5H963.5Z" fill="#ff0000" stroke="#ff0000"/><use href="#u2T" x="965.6" y="733.5"/><path d="M967.5 733.5V735.5M966.5 735.5H968.5" fill="#ff0000" stroke="#ff0000"/><use href="#u2G" x="968.43" y="733.5"/><use href="#Ge" transform="matrix(2.83 0 0 15.2 968.43 733.06)"/><path d="M971.5 733.5H974.5V748.5H971.5Z" fill="#fff" stroke="#fff"/><path d="M971.5 734.5V741.5M970.5 738.5H971.5V741.5H970.5Z" fill="#ffa500" stroke="#ffa500"/><use href="#u2T" x="971.26" y="733.5"/><path d="M972.5 733.5H973.5V731.5H972.5ZM971.5 732.5H974.5V731.5H971.5Z" fill="#ff0000" stroke="#ff0000"/><use href="#u2G" x="974.09" y="733.5"/><use href="#Ge" transform="matrix(2.83 0 0 -18.8 974.09 733.06)"/><path d="M977.5 733.5H980.5V714.5H977.5Z" fill="#fff" stroke="#fff"/><path d="M976.5 731.5H977.5V724.5H976.5ZM976.5 726.5H977.5V724.5H976.5Z" fill="#ffa500" stroke="#ffa500"/><use href="#u2A" x="976.92" y="733.5"/><use href="#A" transform="matrix(2.83 0 0 6.4 976.92 733.06)"/><use href="#u2C" x="979.74" y="733.5"/><use href="#Ce" transform="matrix(2.83 0 0 -0.5 979.74 733.06)"/><path d="M983.5 733.5H985.5" fill="#fff" stroke="#fff"/><use href="#u2C" x="982.57" y="733.5"/><use href="#Ce" transform="matrix(2.83 0 0 10 982.57 733.06)"/><path d="M985.5 733.5H988.5V743.5H985.5Z" fill="#fff" stroke="#fff"/><use href="#u2C" x="985.4" y="733.5"/><use href="#Ce" transform="matrix(2.83 0 0 -5.6 985.4 733.06)"/><path d="M988.5 733.5H991.5V727.5H988.5Z" fill="#fff" stroke="#fff"/><use href="#u2T" x="988.23" y="733.5"/><path d="M989.5 733.5H990.5V747.5H989.5ZM988.5 744.5H991.5V747.5H988.5Z" fill="#ff0000" stroke="#ff0000"/><use href="#u2C" x="991.06" y="733.5"/><use href="#Ce" transform="matrix(2.83 0 0 8.4 991.06 733.06)"/><path d="M994.5 733.5H997.5V741.5H994.5Z" fill="#fff" stroke="#fff"/><use href="#u2T" x="993.89" y="733.5"/><path d="M995.5 733.5H996.5V737.5H995.5ZM994.5 736.5H997.5V737.5H994.5Z" fill="#ff0000" stroke="#ff0000"/><use href="#u2A" x="996.72" y="733.5"/><use href="#A" transform="matrix(2.83 0 0 18.8 996.72 733.06)"/><use href="#u2C" x="999.54" y="733.5"/><use href="#Ce" transform="matrix(2.83 0 0 -4 999.54 733.06)"/><path d="M1002.5 733.5H1005.5V729.5H1002.5Z" fill="#fff" stroke="#fff"/><use href="#u2T" x="1002.37" y="733.5"/><path d="M1004.5 733.5V721.5M1002.5 723.5H1005.5V721.5H1002.5Z" fill="#ff0000" stroke="#ff0000"/><use href="#u2T" x="1005.2" y="733.5"/><path d="M1006.5 733.5H1007.5V732.5H1006.5ZM1005.5 732.5H1008.5" fill="#ff0000" stroke="#ff0000"/><use href="#u2C" x="1008.03" y="733.5"/><use href="#Ce" transform="matrix(2.83 0 0 6.8 1008.03 733.06)"/><path d="M1011.5 733.5H1014.5V740.5H1011.5Z" fill="#fff" stroke="#fff"/><use href="#u2G" x="1010.86" y="733.5"/><use href="#Ge" transform="matrix(2.83 0 0 -17.5 1010.86 733.06)"/><path d="M1014.5 733.5H1017.5V716.5H1014.5Z" fill="#fff" stroke="#fff"/><path d="M1013.5 732.5H1014.5V724.5H1013.5ZM1013.5 727.5H1014.5V724.5H1013.5Z" fill="#ffa500" stroke="#ffa500"/><use href="#u2T" x="1013.69" y="733.5"/><path d="M1015.5 733.5V698.5M1014.5 705.5H1017.5V698.5H1014.5Z" fill="#ff0000" stroke="#ff0000"/><use href="#u2C" x="1016.51" y="733.5"/><use href="#Ce" transform="matrix(2.83 0 0 -43 1016.51 733.06)"/><path d="M1019.5 733.5H1022.5V690.5H1019.5Z" fill="#fff" stroke="#fff"/><use href="#u2A" x="1019.34" y="733.5"/><use href="#A" transform="matrix(2.83 0 0 -42 1019.34 733.06)"/><use href="#u2C" x="1022.17" y="733.5"/><use href="#Ce" transform="matrix(2.83 0 0 -92.5 1022.17 733.06)"/><path d="M1025.5 733.5H1028.5V641.5H1025.5Z" fill="#fff" stroke="#fff"/><use href="#u2G" x="1025" y="733.5"/><use href="#Ge" transform="matrix(2.83 0 0 -95 1025 733.06)"/><path d="M1028.5 733.5H1031.5V638.5H1028.5Z" fill="#fff" stroke="#fff"/><path d="M1027.5 725.5H1028.5V686.5H1027.5ZM1027.5 700.5H1028.5V686.5H1027.5Z" fill="#ffa500" stroke="#ffa500"/><use href="#u2T" x="1027.83" y="733.5"/><path d="M1029.5 733.5H1030.5V712.5H1029.5ZM1028.5 716.5H1031.5V712.5H1028.5Z" fill="#ff0000" stroke="#ff0000"/><use href="#u2G" x="1030.66" y="733.5"/><use href="#Ge" transform="matrix(2.83 0 0 -77 1030.66 733.06)"/><path d="M1033.5 733.5H1036.5V656.5H1033.5Z" fill="#fff" stroke="#fff"/><path d="M1033.5 727.5V695.5M1032.5 706.5H1033.5V695.5H1032.5Z" fill="#ffa500" stroke="#ffa500"/><use href="#u2A" x="1033.49" y="733.5"/><use href="#A" transform="matrix(2.83 0 0 -23 1033.49 733.06)"/><use href="#u2C" x="1036.31" y="733.5"/><use href="#Ce" transform="matrix(2.83 0 0 -34 1036.31 733.06)"/><path d="M1039.5 733.5H1042.5V699.5H1039.5Z" fill="#fff" stroke="#fff"/><use href="#u2T" x="1039.14" y="733.5"/><path d="M1040.5 733.5H1041.5V725.5H1040.5ZM1039.5 726.5H1042.5V725.5H1039.5Z" fill="#ff0000" stroke="#ff0000"/><use href="#u2C" x="1041.97" y="733.5"/><use href="#Ce" transform="matrix(2.83 0 0 -15 1041.97 733.06)"/><path d="M1045.5 733.5H1048.5V718.5H1045.5Z" fill="#fff" stroke="#fff"/><use href="#u2A" x="1044.8" y="733.5"/><use href="#A" transform="matrix(2.83 0 0 11.6 1044.8 733.06)"/><use href="#u2C" x="1047.63" y="733.5"/><use href="#Ce" transform="matrix(2.83 0 0 5.6 1047.63 733.06)"/><path d="M1050.5 733.5H1053.5V739.5H1050.5Z" fill="#fff" stroke="#fff"/><use href="#u2T" x="1050.46" y="733.5"/><path d="M1052.5 733.5V751.5M1050.5 748.5H1053.5V751.5H1050.5Z" fill="#ff0000" stroke="#ff0000"/><use href="#u2A" x="1053.28" y="733.5"/><use href="#A" transform="matrix(2.83 0 0 9.6 1053.28 733.06)"/><use href="#u2T" x="1056.11" y="733.5"/><path d="M1057.5 733.5H1058.5V730.5H1057.5ZM1056.5 731.5H1059.5V730.5H1056.5Z" fill="#ff0000" stroke="#ff0000"/><use href="#u2T" x="1058.94" y="733.5"/><path d="M1060.5 733.5H1061.5V713.5H1060.5ZM1059.5 717.5H1062.5V713.5H1059.5Z" fill="#ff0000" stroke="#ff0000"/><use href="#u2A" x="1061.77" y="733.5"/><use href="#A" transform="matrix(2.83 0 0 -1.2 1061.77 733.06)"/><use href="#u2T" x="1064.6" y="733.5"/><path d="M1066.5 733.5V728.5M1065.5 729.5H1067.5V728.5H1065.5Z" fill="#ff0000" stroke="#ff0000"/><use href="#u2A" x="1067.43" y="733.5"/><use href="#A" transform="matrix(2.83 0 0 2 1067.43 733.06)"/><use href="#u2G" x="1070.26" y="733.5"/><use href="#Ge" transform="matrix(2.83 0 0 4.4 1070.26 733.06)"/><path d="M1073.5 733.5H1076.5V737.5H1073.5Z" fill="#fff" stroke="#fff"/><path d="M1073.5 733.5V735.5M1072.5 735.5H1073.5" fill="#ffa500" stroke="#ffa500"/><use href="#u2A" x="1073.08" y="733.5"/><use href="#A" transform="matrix(2.83 0 0 20.8 1073.08 733.06)"/><use href="#u2A" x="1075.91" y="733.5"/><use href="#A" transform="matrix(2.83 0 0 -4.8 1075.91 733.06)"/><use href="#u2A" x="1078.74" y="733.5"/><use href="#A" transform="matrix(2.83 0 0 5.6 1078.74 733.06)"/><use href="#u2T" x="1081.57" y="733.5"/><path d="M1083.5 733.5V746.5M1082.5 743.5H1084.5V746.5H1082.5Z" fill="#ff0000" stroke="#ff0000"/><use href="#u2C" x="1084.4" y="733.5"/><use href="#Ce" transform="matrix(2.83 0 0 5.2 1084.4 733.06)"/><path d="M1087.5 733.5H1090.5V738.5H1087.5Z" fill="#fff" stroke="#fff"/><use href="#u2T" x="1087.23" y="733.5"/><path d="M1088.5 733.5H1089.5V738.5H1088.5ZM1087.5 737.5H1090.5V738.5H1087.5Z" fill="#ff0000" stroke="#ff0000"/><use href="#u2C" x="1090.05" y="733.5"/><use href="#Ce" transform="matrix(2.83 0 0 -2.8 1090.05 733.06)"/><path d="M1093.5 733.5H1096.5V730.5H1093.5Z" fill="#fff" stroke="#fff"/><use href="#u2C" x="1092.88" y="733.5"/><use href="#Ce" transform="matrix(2.83 0 0 18.4 1092.88 733.06)"/><path d="M1096.5 733.5H1099.5V751.5H1096.5Z" fill="#fff" stroke="#fff"/><use href="#u2G" x="1095.71" y="733.5"/><use href="#Ge" transform="matrix(2.83 0 0 7.6 1095.71 733.06)"/><path d="M1099.5 733.5H1101.5V741.5H1099.5Z" fill="#fff" stroke="#fff"/><path d="M1098.5 734.5H1099.5V737.5H1098.5ZM1097.5 736.5H1099.5V737.5H1097.5Z" fill="#ffa500" stroke="#ffa500"/><use href="#f2G" x="1098.54" y="733.5"/><use href="#u2T" x="1101.37" y="733.5"/><path d="M1103.5 733.5V735.5M1101.5 734.5H1104.5V735.5H1101.5Z" fill="#ff0000" stroke="#ff0000"/><use href="#u2G" x="1104.2" y="733.5"/><use href="#Ge" transform="matrix(2.83 0 0 -10.8 1104.2 733.06)"/><path d="M1107.5 733.5H1110.5V722.5H1107.5Z" fill="#fff" stroke="#fff"/><path d="M1107.5 732.5V728.5M1106.5 729.5H1107.5V728.5H1106.5Z" fill="#ffa500" stroke="#ffa500"/><use href="#u2G" x="1107.03" y="733.5"/><use href="#Ge" transform="matrix(2.83 0 0 -0.5 1107.03 733.06)"/><path d="M1110.5 733.5H1113.5" fill="#fff" stroke="#fff"/><path d="M1109.5 733.5H1110.5M1109.5 733.5H1110.5" fill="#ffa500" stroke="#ffa500"/><use href="#u2A" x="1109.85" y="733.5"/><use href="#A" transform="matrix(2.83 0 0 12 1109.85 733.06)"/><use href="#u2A" x="1112.68" y="733.5"/><use href="#A" transform="matrix(2.83 0 0 -6 1112.68 733.06)"/><use href="#u2T" x="1115.51" y="733.5"/><path d="M1117.5 733.5V729.5M1116.5 730.5H1118.5V729.5H1116.5Z" fill="#ff0000" stroke="#ff0000"/><use href="#f2C" x="1118.34" y="733.5"/><use href="#u2G" x="1121.17" y="733.5"/><use href="#Ge" transform="matrix(2.83 0 0 -12.4 1121.17 733.06)"/><path d="M1124.5 733.5H1127.5V721.5H1124.5Z" fill="#fff" stroke="#fff"/><path d="M1124.5 732.5V727.5M1123.5 729.5H1124.5V727.5H1123.5Z" fill="#ffa500" stroke="#ffa500"/><use href="#u2T" x="1124" y="733.5"/><path d="M1125.5 733.5H1126.5V746.5H1125.5ZM1124.5 743.5H1127.5V746.5H1124.5Z" fill="#ff0000" stroke="#ff0000"/><use href="#u2A" x="1126.82" y="733.5"/><use href="#A" transform="matrix(2.83 0 0 8 1126.82 733.06)"/><use href="#u2A" x="1129.65" y="733.5"/><use href="#A" transform="matrix(2.83 0 0 2.4 1129.65 733.06)"/><use href="#u2T" x="1132.48" y="733.5"/><path d="M1134.5 733.5V742.5M1132.5 740.5H1135.5V742.5H1132.5Z" fill="#ff0000" stroke="#ff0000"/><use href="#u2G" x="1135.31" y="733.5"/><use href="#Ge" transform="matrix(2.83 0 0 -4.4 1135.31 733.06)"/><path d="M1138.5 733.5H1141.5V729.5H1138.5Z" fill="#fff" stroke="#fff"/><path d="M1138.5 733.5V731.5M1137.5 732.5H1138.5V731.5H1137.5Z" fill="#ffa500" stroke="#ffa500"/><use href="#u2T" x="1138.14" y="733.5"/><path d="M1139.5 733.5H1140.5V742.5H1139.5ZM1138.5 740.5H1141.5V742.5H1138.5Z" fill="#ff0000" stroke="#ff0000"/><use href="#u2T" x="1140.97" y="733.5"/><path d="M1142.5 733.5H1143.5V751.5H1142.5ZM1141.5 747.5H1144.5V751.5H1141.5Z" fill="#ff0000" stroke="#ff0000"/><use href="#u2T" x="1143.8" y="733.5"/><path d="M1145.5 733.5V732.5M1144.5 732.5H1147.5" fill="#ff0000" stroke="#ff0000"/><use href="#u2C" x="1146.62" y="733.5"/><use href="#Ce" transform="matrix(2.83 0 0 -2.4 1146.62 733.06)"/><path d="M1149.5 733.5H1152.5V731.5H1149.5Z" fill="#fff" stroke="#fff"/><use href="#u2T" x="1149.45" y="733.5"/><path d="M1151.5 733.5V737.5M1149.5 736.5H1152.5V737.5H1149.5Z" fill="#ff0000" stroke="#ff0000"/><use href="#u2C" x="1152.28" y="733.5"/><use href="#Ce" transform="matrix(2.83 0 0 -7.2 1152.28 733.06)"/><path d="M1155.5 733.5H1158.5V726.5H1155.5Z" fill="#fff" stroke="#fff"/><use href="#u2G" x="1155.11" y="733.5"/><use href="#Ge" transform="matrix(2.83 0 0 -3.6 1155.11 733.06)"/><path d="M1158.5 733.5H1161.5V729.5H1158.5Z" fill="#fff" stroke="#fff"/><path d="M1157.5 733.5H1158.5V731.5H1157.5ZM1157.5 732.5H1158.5V731.5H1157.5Z" fill="#ffa500" stroke="#ffa500"/><use href="#u2T" x="1157.94" y="733.5"/><path d="M1159.5 733.5H1160.5V731.5H1159.5ZM1158.5 731.5H1161.5" fill="#ff0000" stroke="#ff0000"/><use href="#u2A" x="1160.77" y="733.5"/><use href="#A" transform="matrix(2.83 0 0 -1.5 1160.77 733.06)"/><use href="#u2C" x="1163.59" y="733.5"/><use href="#Ce" transform="matrix(2.83 0 0 10.4 1163.59 733.06)"/><path d="M1166.5 733.5H1169.5V743.5H1166.5Z" fill="#fff" stroke="#fff"/><use href="#u2C" x="1166.42" y="733.5"/><use href="#Ce" transform="matrix(2.83 0 0 -34 1166.42 733.06)"/><path d="M1169.5 733.5H1172.5V699.5H1169.5Z" fill="#fff" stroke="#fff"/><use href="#u2G" x="1169.25" y="733.5"/><use href="#Ge" transform="matrix(2.83 0 0 5.6 1169.25 733.06)"/><path d="M1172.5 733.5H1175.5V739.5H1172.5Z" fill="#fff" stroke="#fff"/><path d="M1172.5 734.5V736.5M1171.5 735.5H1172.5V736.5H1171.5Z" fill="#ffa500" stroke="#ffa500"/><use href="#u2A" x="1172.08" y="733.5"/><use href="#A" transform="matrix(2.83 0 0 17.6 1172.08 733.06)"/><use href="#u2G" x="1174.91" y="733.5"/><use href="#Ge" transform="matrix(2.83 0 0 -19.6 1174.91 733.06)"/><path d="M1178.5 733.5H1181.5V713.5H1178.5Z" fill="#fff" stroke="#fff"/><path d="M1177.5 731.5H1178.5V723.5H1177.5ZM1177.5 726.5H1178.5V723.5H1177.5Z" fill="#ffa500" stroke="#ffa500"/><use href="#u2G" x="1177.74" y="733.5"/><use href="#Ge" transform="matrix(2.83 0 0 -0.5 1177.74 733.06)"/><path d="M1181.5 733.5H1183.5" fill="#fff" stroke="#fff"/><path d="M1180.5 733.5H1181.5M1180.5 733.5H1181.5" fill="#ffa500" stroke="#ffa500"/><use href="#u2C" x="1180.57" y="733.5"/><use href="#Ce" transform="matrix(2.83 0 0 -13.6 1180.57 733.06)"/><path d="M1183.5 733.5H1186.5V719.5H1183.5Z" fill="#fff" stroke="#fff"/><use href="#u2A" x="1183.39" y="733.5"/><use href="#A" transform="matrix(2.83 0 0 -0.5 1183.39 733.06)"/><use href="#u2T" x="1186.22" y="733.5"/><path d="M1187.5 733.5H1188.5V741.5H1187.5ZM1186.5 740.5H1189.5V741.5H1186.5Z" fill="#ff0000" stroke="#ff0000"/><use href="#u2T" x="1189.05" y="733.5"/><path d="M1190.5 733.5H1191.5V741.5H1190.5ZM1189.5 739.5H1192.5V741.5H1189.5Z" fill="#ff0000" stroke="#ff0000"/><use href="#u2T" x="1191.88" y="733.5"/><path d="M1193.5 733.5H1194.5V747.5H1193.5ZM1192.5 744.5H1195.5V747.5H1192.5Z" fill="#ff0000" stroke="#ff0000"/><use href="#u2G" x="1194.71" y="733.5"/><use href="#Ge" transform="matrix(2.83 0 0 -13.2 1194.71 733.06)"/><path d="M1198.5 733.5H1200.5V720.5H1198.5Z" fill="#fff" stroke="#fff"/><path d="M1197.5 732.5H1198.5V726.5H1197.5ZM1196.5 728.5H1198.5V726.5H1196.5Z" fill="#ffa500" stroke="#ffa500"/><use href="#u2T" x="1197.54" y="733.5"/><path d="M1199.5 733.5V743.5M1198.5 741.5H1200.5V743.5H1198.5Z" fill="#ff0000" stroke="#ff0000"/><use href="#u2T" x="1200.36" y="733.5"/><path d="M1201.5 733.5H1202.5V741.5H1201.5ZM1200.5 740.5H1203.5V741.5H1200.5Z" fill="#ff0000" stroke="#ff0000"/><use href="#f2G" x="1203.19" y="733.5"/><use href="#f2G" x="1206.02" y="733.5"/><use href="#u2A" x="1208.85" y="733.5"/><use href="#A" transform="matrix(2.83 0 0 4.4 1208.85 733.06)"/><use href="#u2A" x="1211.68" y="733.5"/><use href="#A" transform="matrix(2.83 0 0 9.6 1211.68 733.06)"/><use href="#u2G" x="1214.51" y="733.5"/><use href="#Ge" transform="matrix(2.83 0 0 16.4 1214.51 733.06)"/><path d="M1217.5 733.5H1220.5V749.5H1217.5Z" fill="#fff" stroke="#fff"/><path d="M1217.5 734.5V741.5M1216.5 739.5H1217.5V741.5H1216.5Z" fill="#ffa500" stroke="#ffa500"/><use href="#u2A" x="1217.34" y="733.5"/><use href="#A" transform="matrix(2.83 0 0 6.4 1217.34 733.06)"/><use href="#u2T" x="1220.16" y="733.5"/><path d="M1221.5 733.5H1222.5V735.5H1221.5ZM1220.5 735.5H1223.5" fill="#ff0000" stroke="#ff0000"/><use href="#u2T" x="1222.99" y="733.5"/><path d="M1224.5 733.5H1225.5V746.5H1224.5ZM1223.5 743.5H1226.5V746.5H1223.5Z" fill="#ff0000" stroke="#ff0000"/><use href="#u2T" x="1225.82" y="733.5"/><path d="M1227.5 733.5H1228.5V736.5H1227.5ZM1226.5 735.5H1229.5V736.5H1226.5Z" fill="#ff0000" stroke="#ff0000"/><use href="#u2T" x="1228.65" y="733.5"/><path d="M1230.5 733.5V747.5M1229.5 744.5H1231.5V747.5H1229.5Z" fill="#ff0000" stroke="#ff0000"/><use href="#u2C" x="1231.48" y="733.5"/><use href="#Ce" transform="matrix(2.83 0 0 -1 1231.48 733.06)"/><path d="M1234.5 733.5H1237.5V732.5H1234.5Z" fill="#fff" stroke="#fff"/><use href="#u2A" x="1234.31" y="733.5"/><use href="#A" transform="matrix(2.83 0 0 9.6 1234.31 733.06)"/><use href="#u2T" x="1237.14" y="733.5"/><path d="M1238.5 733.5H1239.5V741.5H1238.5ZM1237.5 739.5H1240.5V741.5H1237.5Z" fill="#ff0000" stroke="#ff0000"/><use href="#u2T" x="1239.96" y="733.5"/><path d="M1241.5 733.5H1242.5V727.5H1241.5ZM1240.5 728.5H1243.5V727.5H1240.5Z" fill="#ff0000" stroke="#ff0000"/><use href="#u2A" x="1242.79" y="733.5"/><use href="#A" transform="matrix(2.83 0 0 -4.8 1242.79 733.06)"/><use href="#u2C" x="1245.62" y="733.5"/><use href="#Ce" transform="matrix(2.83 0 0 5.2 1245.62 733.06)"/><path d="M1248.5 733.5H1251.5V738.5H1248.5Z" fill="#fff" stroke="#fff"/><use href="#u2G" x="1248.45" y="733.5"/><use href="#Ge" transform="matrix(2.83 0 0 8.4 1248.45 733.06)"/><path d="M1251.5 733.5H1254.5V741.5H1251.5Z" fill="#fff" stroke="#fff"/><path d="M1251.5 734.5V737.5M1250.5 736.5H1251.5V737.5H1250.5Z" fill="#ffa500" stroke="#ffa500"/><use href="#u2C" x="1251.28" y="733.5"/><use href="#Ce" transform="matrix(2.83 0 0 -5.2 1251.28 733.06)"/><path d="M1254.5 733.5H1257.5V728.5H1254.5Z" fill="#fff" stroke="#fff"/><use href="#u2A" x="1254.11" y="733.5"/><use href="#A" transform="matrix(2.83 0 0 -0.5 1254.11 733.06)"/><use href="#u2C" x="1256.93" y="733.5"/><use href="#Ce" transform="matrix(2.83 0 0 -0.5 1256.93 733.06)"/><path d="M1260.5 733.5H1263.5" fill="#fff" stroke="#fff"/><use href="#u2A" x="1259.76" y="733.5"/><use href="#A" transform="matrix(2.83 0 0 1.5 1259.76 733.06)"/><use href="#u2G" x="1262.59" y="733.5"/><use href="#Ge" transform="matrix(2.83 0 0 17.6 1262.59 733.06)"/><path d="M1265.5 733.5H1268.5V751.5H1265.5Z" fill="#fff" stroke="#fff"/><path d="M1265.5 735.5V742.5M1264.5 739.5H1265.5V742.5H1264.5Z" fill="#ffa500" stroke="#ffa500"/><use href="#u2A" x="1265.42" y="733.5"/><use href="#A" transform="matrix(2.83 0 0 3.6 1265.42 733.06)"/><use href="#u2A" x="1268.25" y="733.5"/><use href="#A" transform="matrix(2.83 0 0 -4.8 1268.25 733.06)"/><use href="#u2G" x="1271.08" y="733.5"/><use href="#Ge" transform="matrix(2.83 0 0 -0.5 1271.08 733.06)"/><path d="M1274.5 733.5H1277.5" fill="#fff" stroke="#fff"/><path d="M1273.5 733.5H1274.5M1273.5 733.5H1274.5" fill="#ffa500" stroke="#ffa500"/><use href="#u2T" x="1273.91" y="733.5"/><path d="M1275.5 733.5H1276.5V734.5H1275.5ZM1274.5 734.5H1277.5" fill="#ff0000" stroke="#ff0000"/><use href="#u2G" x="1276.73" y="733.5"/><use href="#Ge" transform="matrix(2.83 0 0 3 1276.73 733.06)"/><path d="M1280.5 733.5H1282.5V736.5H1280.5Z" fill="#fff" stroke="#fff"/><path d="M1279.5 733.5H1280.5V735.5H1279.5ZM1279.5 734.5H1280.5V735.5H1279.5Z" fill="#ffa500" stroke="#ffa500"/><use href="#u2C" x="1279.56" y="733.5"/><use href="#Ce" transform="matrix(2.83 0 0 -2.8 1279.56 733.06)"/><path d="M1282.5 733.5H1285.5V730.5H1282.5Z" fill="#fff" stroke="#fff"/><use href="#u2T" x="1282.39" y="733.5"/><path d="M1284.5 733.5V742.5M1282.5 740.5H1285.5V742.5H1282.5Z" fill="#ff0000" stroke="#ff0000"/><use href="#u2G" x="1285.22" y="733.5"/><use href="#Ge" transform="matrix(2.83 0 0 -4.8 1285.22 733.06)"/><path d="M1288.5 733.5H1291.5V728.5H1288.5Z" fill="#fff" stroke="#fff"/><path d="M1288.5 733.5V731.5M1287.5 731.5H1288.5" fill="#ffa500" stroke="#ffa500"/><use href="#u2G" x="1288.05" y="733.5"/><use href="#Ge" transform="matrix(2.83 0 0 8.8 1288.05 733.06)"/><path d="M1291.5 733.5H1294.5V742.5H1291.5Z" fill="#fff" stroke="#fff"/><path d="M1290.5 734.5H1291.5V737.5H1290.5ZM1290.5 736.5H1291.5V737.5H1290.5Z" fill="#ffa500" stroke="#ffa500"/><use href="#u2G" x="1290.88" y="733.5"/><use href="#Ge" transform="matrix(2.83 0 0 8.4 1290.88 733.06)"/><path d="M1294.5 733.5H1297.5V741.5H1294.5Z" fill="#fff" stroke="#fff"/><path d="M1293.5 734.5H1294.5V737.5H1293.5ZM1293.5 736.5H1294.5V737.5H1293.5Z" fill="#ffa500" stroke="#ffa500"/><use href="#f2G" x="1293.7" y="733.5"/><use href="#u2C" x="1296.53" y="733.5"/><use href="#Ce" transform="matrix(2.83 0 0 4.4 1296.53 733.06)"/><path d="M1299.5 733.5H1302.5V737.5H1299.5Z" fill="#fff" stroke="#fff"/><use href="#u2T" x="1299.36" y="733.5"/><path d="M1300.5 733.5H1301.5V735.5H1300.5ZM1299.5 735.5H1302.5" fill="#ff0000" stroke="#ff0000"/><use href="#u2T" x="1302.19" y="733.5"/><path d="M1303.5 733.5H1304.5V743.5H1303.5ZM1302.5 741.5H1305.5V743.5H1302.5Z" fill="#ff0000" stroke="#ff0000"/><use href="#u2G" x="1305.02" y="733.5"/><use href="#Ge" transform="matrix(2.83 0 0 -4 1305.02 733.06)"/><path d="M1308.5 733.5H1311.5V729.5H1308.5Z" fill="#fff" stroke="#fff"/><path d="M1307.5 733.5H1308.5V731.5H1307.5ZM1307.5 732.5H1308.5V731.5H1307.5Z" fill="#ffa500" stroke="#ffa500"/><use href="#u2A" x="1307.85" y="733.5"/><use href="#A" transform="matrix(2.83 0 0 6.4 1307.85 733.06)"/><use href="#u2T" x="1310.68" y="733.5"/><path d="M1312.5 733.5V732.5M1311.5 732.5H1314.5" fill="#ff0000" stroke="#ff0000"/><use href="#u2A" x="1313.5" y="733.5"/><use href="#A" transform="matrix(2.83 0 0 -0.5 1313.5 733.06)"/><use href="#u2T" x="1316.33" y="733.5"/><path d="M1317.5 733.5H1318.5V728.5H1317.5ZM1316.5 729.5H1319.5V728.5H1316.5Z" fill="#ff0000" stroke="#ff0000"/><use href="#u2A" x="1319.16" y="733.5"/><use href="#A" transform="matrix(2.83 0 0 6.8 1319.16 733.06)"/><use href="#u2T" x="1321.99" y="733.5"/><path d="M1323.5 733.5H1324.5V741.5H1323.5ZM1322.5 739.5H1325.5V741.5H1322.5Z" fill="#ff0000" stroke="#ff0000"/><use href="#u2T" x="1324.82" y="733.5"/><path d="M1326.5 733.5H1327.5V739.5H1326.5ZM1325.5 738.5H1328.5V739.5H1325.5Z" fill="#ff0000" stroke="#ff0000"/><use href="#f2G" x="1327.65" y="733.5"/><use href="#u2T" x="1330.47" y="733.5"/><path d="M1332.5 733.5V736.5M1330.5 735.5H1333.5V736.5H1330.5Z" fill="#ff0000" stroke="#ff0000"/><use href="#f2C" x="1333.3" y="733.5"/><use href="#f2A" x="1336.13" y="733.5"/><use href="#u2G" x="1338.96" y="733.5"/><use href="#Ge" transform="matrix(2.83 0 0 2 1338.96 733.06)"/><path d="M1342.5 733.5H1345.5V735.5H1342.5Z" fill="#fff" stroke="#fff"/><path d="M1341.5 733.5H1342.5V734.5H1341.5ZM1341.5 734.5H1342.5" fill="#ffa500" stroke="#ffa500"/><use href="#u2A" x="1341.79" y="733.5"/><use href="#A" transform="matrix(2.83 0 0 -0.5 1341.79 733.06)"/><use href="#u2T" x="1344.62" y="733.5"/><path d="M1346.5 733.5V729.5M1345.5 730.5H1347.5V729.5H1345.5Z" fill="#ff0000" stroke="#ff0000"/><use href="#u2C" x="1347.45" y="733.5"/><use href="#Ce" transform="matrix(2.83 0 0 -4 1347.45 733.06)"/><path d="M1350.5 733.5H1353.5V729.5H1350.5Z" fill="#fff" stroke="#fff"/><use href="#u2T" x="1350.27" y="733.5"/><path d="M1351.5 733.5H1352.5V734.5H1351.5ZM1350.5 733.5H1353.5V734.5H1350.5Z" fill="#ff0000" stroke="#ff0000"/><use href="#u2A" x="1353.1" y="733.5"/><use href="#A" transform="matrix(2.83 0 0 -0.8 1353.1 733.06)"/><use href="#u2A" x="1355.93" y="733.5"/><use href="#A" transform="matrix(2.83 0 0 -0.8 1355.93 733.06)"/><use href="#u2A" x="1358.76" y="733.5"/><use href="#A" transform="matrix(2.83 0 0 -0.8 1358.76 733.06)"/><use href="#u2C" x="1361.59" y="733.5"/><use href="#Ce" transform="matrix(2.83 0 0 -4.8 1361.59 733.06)"/><path d="M1364.5 733.5H1367.5V728.5H1364.5Z" fill="#fff" stroke="#fff"/><use href="#u2C" x="1364.42" y="733.5"/><use href="#Ce" transform="matrix(2.83 0 0 -2.8 1364.42 733.06)"/><path d="M1367.5 733.5H1370.5V730.5H1367.5Z" fill="#fff" stroke="#fff"/><use href="#u2T" x="1367.24" y="733.5"/><path d="M1368.5 733.5H1369.5V730.5H1368.5ZM1367.5 730.5H1370.5" fill="#ff0000" stroke="#ff0000"/><use href="#u2A" x="1370.07" y="733.5"/><use href="#A" transform="matrix(2.83 0 0 -1 1370.07 733.06)"/><use href="#u2A" x="1372.9" y="733.5"/><use href="#A" transform="matrix(2.83 0 0 1 1372.9 733.06)"/><use href="#u2G" x="1375.73" y="733.5"/><use href="#Ge" transform="matrix(2.83 0 0 -6.7 1375.73 733.06)"/><path d="M1379.5 733.5H1381.5V726.5H1379.5Z" fill="#fff" stroke="#fff"/><path d="M1378.5 732.5H1379.5V730.5H1378.5ZM1377.5 731.5H1379.5V730.5H1377.5Z" fill="#ffa500" stroke="#ffa500"/><use href="#u2G" x="1378.56" y="733.5"/><use href="#Ge" transform="matrix(2.83 0 0 -1 1378.56 733.06)"/><path d="M1381.5 733.5H1384.5V732.5H1381.5Z" fill="#fff" stroke="#fff"/><path d="M1380.5 733.5H1381.5" fill="#ffa500" stroke="#ffa500"/><use href="#u2C" x="1381.39" y="733.5"/><use href="#Ce" transform="matrix(2.83 0 0 -3.5 1381.39 733.06)"/><path d="M1384.5 733.5H1387.5V730.5H1384.5Z" fill="#fff" stroke="#fff"/><use href="#u2A" x="1384.22" y="733.5"/><use href="#A" transform="matrix(2.83 0 0 2.4 1384.22 733.06)"/><use href="#u2G" x="1387.04" y="733.5"/><use href="#Ge" transform="matrix(2.83 0 0 3.4 1387.04 733.06)"/><path d="M1390.5 733.5H1393.5V736.5H1390.5Z" fill="#fff" stroke="#fff"/><path d="M1389.5 733.5H1390.5V735.5H1389.5ZM1389.5 734.5H1390.5V735.5H1389.5Z" fill="#ffa500" stroke="#ffa500"/><use href="#f2G" x="1389.87" y="733.5"/><use href="#u2T" x="1392.7" y="733.5"/><path d="M1394.5 733.5V736.5M1393.5 736.5H1396.5" fill="#ff0000" stroke="#ff0000"/><use href="#u2C" x="1395.53" y="733.5"/><use href="#Ce" transform="matrix(2.83 0 0 -2 1395.53 733.06)"/><path d="M1398.5 733.5H1401.5V731.5H1398.5Z" fill="#fff" stroke="#fff"/><use href="#u2G" x="1398.36" y="733.5"/><use href="#Ge" transform="matrix(2.83 0 0 -0.5 1398.36 733.06)"/><path d="M1401.5 733.5H1404.5" fill="#fff" stroke="#fff"/><path d="M1400.5 733.5H1401.5" fill="#ffa500" stroke="#ffa500"/><use href="#u2T" x="1401.19" y="733.5"/><path d="M1402.5 733.5H1403.5M1401.5 733.5H1404.5" fill="#ff0000" stroke="#ff0000"/><use href="#f2T" x="1404.01" y="733.5"/><use href="#u2C" x="1406.84" y="733.5"/><use href="#Ce" transform="matrix(2.83 0 0 -4 1406.84 733.06)"/><path d="M1410.5 733.5H1413.5V729.5H1410.5Z" fill="#fff" stroke="#fff"/><use href="#u2T" x="1409.67" y="733.5"/><path d="M1410.5 733.5H1413.5" fill="#ff0000" stroke="#ff0000"/><use href="#u2G" x="1412.5" y="733.5"/><use href="#Ge" transform="matrix(2.83 0 0 -0.5 1412.5 733.06)"/><path d="M1415.5 733.5H1418.5" fill="#fff" stroke="#fff"/><path d="M1414.5 733.5H1415.5" fill="#ffa500" stroke="#ffa500"/><use href="#u2A" x="1415.33" y="733.5"/><use href="#A" transform="matrix(2.83 0 0 2.5 1415.33 733.06)"/><use href="#u2A" x="1418.16" y="733.5"/><use href="#A" transform="matrix(2.83 0 0 -0.5 1418.16 733.06)"/><use href="#u2A" x="1420.99" y="733.5"/><use href="#A" transform="matrix(2.83 0 0 -0.8 1420.99 733.06)"/><use href="#u2A" x="1423.81" y="733.5"/><use href="#A" transform="matrix(2.83 0 0 1 1423.81 733.06)"/><use href="#u2A" x="1426.64" y="733.5"/><use href="#A" transform="matrix(2.83 0 0 1.5 1426.64 733.06)"/><use href="#u2A" x="1429.47" y="733.5"/><use href="#A" transform="matrix(2.83 0 0 -1 1429.47 733.06)"/><use href="#u2A" x="1432.3" y="733.5"/><use href="#A" transform="matrix(2.83 0 0 -1 1432.3 733.06)"/><use href="#u2A" x="1435.13" y="733.5"/><use href="#A" transform="matrix(2.83 0 0 -1.2 1435.13 733.06)"/><use href="#u2A" x="1437.96" y="733.5"/><use href="#A" transform="matrix(2.83 0 0 -1.2 1437.96 733.06)"/><use href="#u2A" x="1440.78" y="733.5"/><use href="#A" transform="matrix(2.83 0 0 -2 1440.78 733.06)"/><use href="#f2G" x="1443.61" y="733.5"/><use href="#u2A" x="1446.44" y="733.5"/><use href="#A" transform="matrix(2.83 0 0 -0.5 1446.44 733.06)"/><use href="#u2T" x="1449.27" y="733.5"/><path d="M1450.5 733.5H1451.5V735.5H1450.5ZM1449.5 735.5H1452.5" fill="#ff0000" stroke="#ff0000"/><use href="#u2A" x="1452.1" y="733.5"/><use href="#A" transform="matrix(2.83 0 0 -0.5 1452.1 733.06)"/><use href="#u2T" x="1454.93" y="733.5"/><path d="M1456.5 733.5H1457.5V732.5H1456.5ZM1455.5 732.5H1458.5" fill="#ff0000" stroke="#ff0000"/><use href="#u2G" x="1457.76" y="733.5"/><use href="#Ge" transform="matrix(2.83 0 0 -1 1457.76 733.06)"/><path d="M1461.5 733.5H1463.5V732.5H1461.5Z" fill="#fff" stroke="#fff"/><path d="M1460.5 733.5H1461.5M1460.5 733.5H1461.5" fill="#ffa500" stroke="#ffa500"/><use href="#u2T" x="1460.58" y="733.5"/><path d="M1462.5 733.5V736.5M1461.5 736.5H1463.5" fill="#ff0000" stroke="#ff0000"/><use href="#u2C" x="1463.41" y="733.5"/><use href="#Ce" transform="matrix(2.83 0 0 3.4 1463.41 733.06)"/><path d="M1466.5 733.5H1469.5V736.5H1466.5Z" fill="#fff" stroke="#fff"/><use href="#u2A" x="1466.24" y="733.5"/><use href="#A" transform="matrix(2.83 0 0 -0.5 1466.24 733.06)"/><use href="#f2C" x="1469.07" y="733.5"/><use href="#u2C" x="1471.9" y="733.5"/><use href="#Ce" transform="matrix(2.83 0 0 -2 1471.9 733.06)"/><path d="M1475.5 733.5H1478.5V731.5H1475.5Z" fill="#fff" stroke="#fff"/><use href="#u2G" x="1474.73" y="733.5"/><use href="#Ge" transform="matrix(2.83 0 0 -1 1474.73 733.06)"/><path d="M1478.5 733.5H1480.5V732.5H1478.5Z" fill="#fff" stroke="#fff"/><path d="M1477.5 733.5H1478.5M1476.5 733.5H1478.5" fill="#ffa500" stroke="#ffa500"/><use href="#u2A" x="1477.55" y="733.5"/><use href="#A" transform="matrix(2.83 0 0 -0.5 1477.55 733.06)"/><use href="#f2C" x="1480.38" y="733.5"/><use href="#u2A" x="1483.21" y="733.5"/><use href="#A" transform="matrix(2.83 0 0 -0.5 1483.21 733.06)"/><use href="#u2T" x="1486.04" y="733.5"/><path d="M1487.5 733.5H1488.5V735.5H1487.5ZM1486.5 735.5H1489.5" fill="#ff0000" stroke="#ff0000"/><use href="#u2G" x="1488.87" y="733.5"/><use href="#Ge" transform="matrix(2.83 0 0 -1 1488.87 733.06)"/><path d="M1492.5 733.5H1495.5V732.5H1492.5Z" fill="#fff" stroke="#fff"/><path d="M1491.5 733.5H1492.5M1491.5 733.5H1492.5" fill="#ffa500" stroke="#ffa500"/><use href="#u2G" x="1491.7" y="733.5"/><use href="#Ge" transform="matrix(2.83 0 0 1 1491.7 733.06)"/><path d="M1495.5 733.5H1497.5V734.5H1495.5Z" fill="#fff" stroke="#fff"/><path d="M1494.5 733.5H1495.5V734.5H1494.5ZM1493.5 733.5H1495.5V734.5H1493.5Z" fill="#ffa500" stroke="#ffa500"/><use href="#f2T" x="1494.53" y="733.5"/><use href="#u2G" x="1497.35" y="733.5"/><use href="#Ge" transform="matrix(2.83 0 0 -0.5 1497.35 733.06)"/><path d="M1500.5 733.5H1503.5" fill="#fff" stroke="#fff"/><path d="M1499.5 733.5H1500.5" fill="#ffa500" stroke="#ffa500"/><use href="#u2T" x="1500.18" y="733.5"/><path d="M1501.5 733.5H1502.5V734.5H1501.5ZM1500.5 734.5H1503.5" fill="#ff0000" stroke="#ff0000"/><use href="#u2C" x="1503.01" y="733.5"/><use href="#Ce" transform="matrix(2.83 0 0 3.4 1503.01 733.06)"/><path d="M1506.5 733.5H1509.5V736.5H1506.5Z" fill="#fff" stroke="#fff"/><use href="#u2G" x="1505.84" y="733.5"/><use href="#Ge" transform="matrix(2.83 0 0 3.4 1505.84 733.06)"/><path d="M1509.5 733.5H1511.5V736.5H1509.5Z" fill="#fff" stroke="#fff"/><path d="M1508.5 733.5H1509.5V735.5H1508.5ZM1508.5 734.5H1509.5V735.5H1508.5Z" fill="#ffa500" stroke="#ffa500"/><use href="#f2T" x="1508.67" y="733.5"/><use href="#u2G" x="1511.5" y="733.5"/><use href="#Ge" transform="matrix(2.83 0 0 2.4 1511.5 733.06)"/><path d="M1514.5 733.5H1517.5V735.5H1514.5Z" fill="#fff" stroke="#fff"/><path d="M1514.5 733.5V734.5M1513.5 734.5H1514.5" fill="#ffa500" stroke="#ffa500"/><use href="#u2A" x="1514.32" y="733.5"/><use href="#A" transform="matrix(2.83 0 0 -1 1514.32 733.06)"/><use href="#f2T" x="1517.15" y="733.5"/><use href="#f2G" x="1519.98" y="733.5"/><use href="#f2C" x="1522.81" y="733.5"/><use href="#u2T" x="1525.64" y="733.5"/><path d="M1527.5 733.5V734.5M1526.5 734.5H1528.5" fill="#ff0000" stroke="#ff0000"/><use href="#f2G" x="1528.47" y="733.5"/><use href="#u2T" x="1531.3" y="733.5"/><path d="M1532.5 733.5H1533.5V731.5H1532.5ZM1531.5 731.5H1534.5" fill="#ff0000" stroke="#ff0000"/><use href="#u2T" x="1534.12" y="733.5"/><path d="M1535.5 733.5H1536.5V735.5H1535.5ZM1534.5 735.5H1537.5" fill="#ff0000" stroke="#ff0000"/><use href="#u2G" x="1536.95" y="733.5"/><use href="#Ge" transform="matrix(2.83 0 0 -0.5 1536.95 733.06)"/><path d="M1540.5 733.5H1543.5" fill="#fff" stroke="#fff"/><path d="M1539.5 733.5H1540.5M1539.5 733.5H1540.5" fill="#ffa500" stroke="#ffa500"/><use href="#u2T" x="1539.78" y="733.5"/><path d="M1541.5 733.5V734.5M1540.5 733.5H1543.5V734.5H1540.5Z" fill="#ff0000" stroke="#ff0000"/><use href="#u2T" x="1542.61" y="733.5"/><path d="M1544.5 733.5V734.5M1543.5 733.5H1545.5V734.5H1543.5Z" fill="#ff0000" stroke="#ff0000"/><use href="#u2T" x="1545.44" y="733.5"/><path d="M1547.5 733.5V734.5M1545.5 733.5H1548.5V734.5H1545.5Z" fill="#ff0000" stroke="#ff0000"/><use href="#u2T" x="1548.27" y="733.5"/><path d="M1549.5 733.5H1550.5V735.5H1549.5ZM1548.5 734.5H1551.5V735.5H1548.5Z" fill="#ff0000" stroke="#ff0000"/><use href="#f2G" x="1551.09" y="733.5"/><use href="#u2C" x="1553.92" y="733.5"/><use href="#Ce" transform="matrix(2.83 0 0 -0.5 1553.92 733.06)"/><path d="M1557.5 733.5H1560.5" fill="#fff" stroke="#fff"/><use href="#f2C" x="1556.75" y="733.5"/><use href="#f2T" x="1559.58" y="733.5"/><use href="#u2T" x="1562.41" y="733.5"/><path d="M1564.5 733.5V734.5M1562.5 733.5H1565.5V734.5H1562.5Z" fill="#ff0000" stroke="#ff0000"/><use href="#u2T" x="1565.24" y="733.5"/><path d="M1566.5 733.5H1567.5V735.5H1566.5ZM1565.5 734.5H1568.5V735.5H1565.5Z" fill="#ff0000" stroke="#ff0000"/><use href="#f2G" x="1568.07" y="733.5"/><use href="#f2G" x="1570.89" y="733.5"/><use href="#f2C" x="1573.72" y="733.5"/><use href="#f2A" x="1576.55" y="733.5"/><use href="#f2G" x="1579.38" y="733.5"/><use href="#f2C" x="1582.21" y="733.5"/><use href="#f2A" x="1585.04" y="733.5"/><use href="#f2T" x="1587.86" y="733.5"/><use href="#f2T" x="1590.69" y="733.5"/><use href="#f2A" x="1593.52" y="733.5"/><use href="#f2A" x="1596.35" y="733.5"/><use href="#f2C" x="1599.18" y="733.5"/><use href="#f2A" x="1602.01" y="733.5"/><use href="#f2C" x="1604.84" y="733.5"/><use href="#f2G" x="1607.66" y="733.5"/><use href="#f2A" x="1610.49" y="733.5"/><use href="#f2G" x="1613.32" y="733.5"/><use href="#f2A" x="1616.15" y="733.5"/><use href="#f2T" x="1618.98" y="733.5"/><use href="#f2A" x="1621.81" y="733.5"/><use href="#f2A" x="1624.64" y="733.5"/><use href="#f2C" x="1627.46" y="733.5"/><use href="#f2C" x="1630.29" y="733.5"/><use href="#f2T" x="1633.12" y="733.5"/><use href="#f2C" x="1635.95" y="733.5"/><use href="#f2G" x="1638.78" y="733.5"/><use href="#f2G" x="1641.61" y="733.5"/><use href="#f2T" x="1644.43" y="733.5"/><use href="#f2C" x="1647.26" y="733.5"/><use href="#f2T" x="1650.09" y="733.5"/><use href="#f2T" x="1652.92" y="733.5"/><use href="#f2C" x="1655.75" y="733.5"/><use href="#f2A" x="1658.58" y="733.5"/><use href="#f2C" x="1661.41" y="733.5"/><use href="#f2T" x="1664.23" y="733.5"/><use href="#f2C" x="1667.06" y="733.5"/><use href="#f2T" x="1669.89" y="733.5"/><use href="#f2T" x="1672.72" y="733.5"/><use href="#f2A" x="1675.55" y="733.5"/><use href="#f2A" x="1678.38" y="733.5"/><use href="#f2T" x="1681.2" y="733.5"/><use href="#f2T" x="1684.03" y="733.5"/><use href="#f2T" x="1686.86" y="733.5"/><use href="#f2A" x="1689.69" y="733.5"/><use href="#f2C" x="1692.52" y="733.5"/><use href="#f2A" x="1695.35" y="733.5"/><use href="#f2T" x="1698.18" y="733.5"/><use href="#f2T" x="1701" y="733.5"/><use href="#f2A" x="1703.83" y="733.5"/><use href="#f2G" x="1706.66" y="733.5"/><use href="#f2T" x="1709.49" y="733.5"/><use href="#f2A" x="1712.32" y="733.5"/><use href="#f2T" x="1715.15" y="733.5"/><use href="#f2G" x="1717.97" y="733.5"/><use href="#f2T" x="1720.8" y="733.5"/><use href="#f2C" x="1723.63" y="733.5"/><use href="#f2C" x="1726.46" y="733.5"/><use href="#f2A" x="1729.29" y="733.5"/><use href="#f2A" x="1732.12" y="733.5"/><use href="#f2A" x="1734.95" y="733.5"/><use href="#f2C" x="1737.77" y="733.5"/><use href="#f2C" x="1740.6" y="733.5"/><use href="#f2A" x="1743.43" y="733.5"/><use href="#f2G" x="1746.26" y="733.5"/><use href="#f2A" x="1749.09" y="733.5"/><use href="#f2C" x="1751.92" y="733.5"/><use href="#f2A" x="1754.74" y="733.5"/><use href="#f2C" x="1757.57" y="733.5"/><use href="#f2A" x="1760.4" y="733.5"/><use href="#f2C" x="1763.23" y="733.5"/><use href="#f2A" x="1766.06" y="733.5"/><use href="#f2C" x="1768.89" y="733.5"/><use href="#f2A" x="1771.72" y="733.5"/><use href="#f2T" x="1774.54" y="733.5"/><use href="#f2G" x="1777.37" y="733.5"/><use href="#f2A" x="1780.2" y="733.5"/><use href="#f2C" x="1783.03" y="733.5"/><use href="#f2A" x="1785.86" y="733.5"/><use href="#f2C" x="1788.69" y="733.5"/><use href="#f2G" x="1791.51" y="733.5"/><use href="#f2T" x="1794.34" y="733.5"/></g>
<rect x="250.5" y="597.5" width="1550" height="204" fill="none" stroke="#000" stroke-width="1.111"/>
<path d="M253.5 801.5v5.2" stroke="#000" stroke-width="1.111"/>
<path d="M281.5 801.5v5.2" stroke="#000" stroke-width="1.111"/>
<path d="M309.5 801.5v5.2" stroke="#000" stroke-width="1.111"/>
<path d="M338.5 801.5v5.2" stroke="#000" stroke-width="1.111"/>
<path d="M366.5 801.5v5.2" stroke="#000" stroke-width="1.111"/>
<path d="M394.5 801.5v5.2" stroke="#000" stroke-width="1.111"/>
<path d="M423.5 801.5v5.2" stroke="#000" stroke-width="1.111"/>
<path d="M451.5 801.5v5.2" stroke="#000" stroke-width="1.111"/>
<path d="M479.5 801.5v5.2" stroke="#000" stroke-width="1.111"/>
<path d="M507.5 801.5v5.2" stroke="#000" stroke-width="1.111"/>
<path d="M536.5 801.5v5.2" stroke="#000" stroke-width="1.111"/>
<path d="M564.5 801.5v5.2" stroke="#000" stroke-width="1.111"/>
<path d="M592.5 801.5v5.2" stroke="#000" stroke-width="1.111"/>
<path d="M621.5 801.5v5.2" stroke="#000" stroke-width="1.111"/>
<path d="M649.5 801.5v5.2" stroke="#000" stroke-width="1.111"/>
<path d="M677.5 801.5v5.2" stroke="#000" stroke-width="1.111"/>
<path d="M705.5 801.5v5.2" stroke="#000" stroke-width="1.111"/>
<path d="M734.5 801.5v5.2" stroke="#000" stroke-width="1.111"/>
<path d="M762.5 801.5v5.2" stroke="#000" stroke-width="1.111"/>
<path d="M790.5 801.5v5.2" stroke="#000" stroke-width="1.111"/>
<path d="M819.5 801.5v5.2" stroke="#000" stroke-width="1.111"/>
<path d="M847.5 801.5v5.2" stroke="#000" stroke-width="1.111"/>
<path d="M875.5 801.5v5.2" stroke="#000" stroke-width="1.111"/>
<path d="M903.5 801.5v5.2" stroke="#000" stroke-width="1.111"/>
<path d="M932.5 801.5v5.2" stroke="#000" stroke-width="1.111"/>
<path d="M960.5 801.5v5.2" stroke="#000" stroke-width="1.111"/>
<path d="M988.5 801.5v5.2" stroke="#000" stroke-width="1.111"/>
<path d="M1017.5 801.5v5.2" stroke="#000" stroke-width="1.111"/>
<path d="M1045.5 801.5v5.2" stroke="#000" stroke-width="1.111"/>
<path d="M1073.5 801.5v5.2" stroke="#000" stroke-width="1.111"/>
<path d="M1101.5 801.5v5.2" stroke="#000" stroke-width="1.111"/>
<path d="M1130.5 801.5v5.2" stroke="#000" stroke-width="1.111"/>
<path d="M1158.5 801.5v5.2" stroke="#000" stroke-width="1.111"/>
<path d="M1186.5 801.5v5.2" stroke="#000" stroke-width="1.111"/>
<path d="M1215.5 801.5v5.2" stroke="#000" stroke-width="1.111"/>
<path d="M1243.5 801.5v5.2" stroke="#000" stroke-width="1.111"/>
<path d="M1271.5 801.5v5.2" stroke="#000" stroke-width="1.111"/>
<path d="M1299.5 801.5v5.2" stroke="#000" stroke-width="1.111"/>
<path d="M1328.5 801.5v5.2" stroke="#000" stroke-width="1.111"/>
<path d="M1356.5 801.5v5.2" stroke="#000" stroke-width="1.111"/>
<path d="M1384.5 801.5v5.2" stroke="#000" stroke-width="1.111"/>
<path d="M1413.5 801.5v5.2" stroke="#000" stroke-width="1.111"/>
<path d="M1441.5 801.5v5.2" stroke="#000" stroke-width="1.111"/>
<path d="M1469.5 801.5v5.2" stroke="#000" stroke-width="1.111"/>
<path d="M1497.5 801.5v5.2" stroke="#000" stroke-width="1.111"/>
<path d="M1526.5 801.5v5.2" stroke="#000" stroke-width="1.111"/>
<path d="M1554.5 801.5v5.2" stroke="#000" stroke-width="1.111"/>
<path d="M1582.5 801.5v5.2" stroke="#000" stroke-width="1.111"/>
<path d="M1610.5 801.5v5.2" stroke="#000" stroke-width="1.111"/>
<path d="M1639.5 801.5v5.2" stroke="#000" stroke-width="1.111"/>
<path d="M1667.5 801.5v5.2" stroke="#000" stroke-width="1.111"/>
<path d="M1695.5 801.5v5.2" stroke="#000" stroke-width="1.111"/>
<path d="M1724.5 801.5v5.2" stroke="#000" stroke-width="1.111"/>
<path d="M1752.5 801.5v5.2" stroke="#000" stroke-width="1.111"/>
<path d="M1780.5 801.5v5.2" stroke="#000" stroke-width="1.111"/>
<path d="M250.5 597.5h-5.2" stroke="#000" stroke-width="1.111"/>
<path d="M250.5 631.5h-5.2" stroke="#000" stroke-width="1.111"/>
<path d="M250.5 665.5h-5.2" stroke="#000" stroke-width="1.111"/>
<path d="M250.5 699.5h-5.2" stroke="#000" stroke-width="1.111"/>
<path d="M250.5 733.5h-5.2" stroke="#000" stroke-width="1.111"/>
<path d="M250.5 767.5h-5.2" stroke="#000" stroke-width="1.111"/>
<path d="M250.5 801.5h-5.2" stroke="#000" stroke-width="1.111"/>
<g style="filter:grayscale(1)"><text x="250.3" y="333" text-anchor="middle" textLength="8.27" lengthAdjust="spacingAndGlyphs">0</text><text x="534.3" y="333" text-anchor="middle" textLength="27.6" lengthAdjust="spacingAndGlyphs">100</text><text x="818.3" y="333" text-anchor="middle" textLength="27.6" lengthAdjust="spacingAndGlyphs">200</text><text x="1102.3" y="333" text-anchor="middle" textLength="27.6" lengthAdjust="spacingAndGlyphs">300</text><text x="1386.3" y="333" text-anchor="middle" textLength="27.6" lengthAdjust="spacingAndGlyphs">400</text><text x="1669.3" y="333" text-anchor="middle" textLength="27.6" lengthAdjust="spacingAndGlyphs">500</text><text x="240.18" y="141.1" text-anchor="end" textLength="52.22" lengthAdjust="spacingAndGlyphs">0.2000</text><text x="240.18" y="195.1" text-anchor="end" textLength="52.22" lengthAdjust="spacingAndGlyphs">0.0000</text><text x="240.18" y="250.1" text-anchor="end" textLength="57.98" lengthAdjust="spacingAndGlyphs">-0.2000</text><text x="240.18" y="304.1" text-anchor="end" textLength="57.98" lengthAdjust="spacingAndGlyphs">-0.4000</text><text x="253.3" y="577" text-anchor="middle" textLength="8.27" lengthAdjust="spacingAndGlyphs">0</text><text x="281.3" y="577" text-anchor="middle" textLength="17.93" lengthAdjust="spacingAndGlyphs">10</text><text x="309.3" y="577" text-anchor="middle" textLength="17.93" lengthAdjust="spacingAndGlyphs">20</text><text x="338.3" y="577" text-anchor="middle" textLength="17.93" lengthAdjust="spacingAndGlyphs">30</text><text x="366.3" y="577" text-anchor="middle" textLength="17.93" lengthAdjust="spacingAndGlyphs">40</text><text x="394.3" y="577" text-anchor="middle" textLength="17.93" lengthAdjust="spacingAndGlyphs">50</text><text x="423.3" y="577" text-anchor="middle" textLength="17.93" lengthAdjust="spacingAndGlyphs">60</text><text x="451.3" y="577" text-anchor="middle" textLength="17.93" lengthAdjust="spacingAndGlyphs">70</text><text x="479.3" y="577" text-anchor="middle" textLength="17.93" lengthAdjust="spacingAndGlyphs">80</text><text x="507.3" y="577" text-anchor="middle" textLength="17.93" lengthAdjust="spacingAndGlyphs">90</text><text x="536.3" y="577" text-anchor="middle" textLength="27.6" lengthAdjust="spacingAndGlyphs">100</text><text x="564.3" y="577" text-anchor="middle" textLength="27.6" lengthAdjust="spacingAndGlyphs">110</text><text x="592.3" y="577" text-anchor="middle" textLength="27.6" lengthAdjust="spacingAndGlyphs">120</text><text x="621.3" y="577" text-anchor="middle" textLength="27.6" lengthAdjust="spacingAndGlyphs">130</text><text x="649.3" y="577" text-anchor="middle" textLength="27.6" lengthAdjust="spacingAndGlyphs">140</text><text x="677.3" y="577" text-anchor="middle" textLength="27.6" lengthAdjust="spacingAndGlyphs">150</text><text x="705.3" y="577" text-anchor="middle" textLength="27.6" lengthAdjust="spacingAndGlyphs">160</text><text x="734.3" y="577" text-anchor="middle" textLength="27.6" lengthAdjust="spacingAndGlyphs">170</text><text x="762.3" y="577" text-anchor="middle" textLength="27.6" lengthAdjust="spacingAndGlyphs">180</text><text x="790.3" y="577" text-anchor="middle" textLength="27.6" lengthAdjust="spacingAndGlyphs">190</text><text x="819.3" y="577" text-anchor="middle" textLength="27.6" lengthAdjust="spacingAndGlyphs">200</text><text x="847.3" y="577" text-anchor="middle" textLength="27.6" lengthAdjust="spacingAndGlyphs">210</text><text x="875.3" y="577" text-anchor="middle" textLength="27.6" lengthAdjust="spacingAndGlyphs">220</text><text x="903.3" y="577" text-anchor="middle" textLength="27.6" lengthAdjust="spacingAndGlyphs">230</text><text x="932.3" y="577" text-anchor="middle" textLength="27.6" lengthAdjust="spacingAndGlyphs">240</text><text x="960.3" y="577" text-anchor="middle" textLength="27.6" lengthAdjust="spacingAndGlyphs">250</text><text x="988.3" y="577" text-anchor="middle" textLength="27.6" lengthAdjust="spacingAndGlyphs">260</text><text x="1017.3" y="577" text-anchor="middle" textLength="27.6" lengthAdjust="spacingAndGlyphs">270</text><text x="1045.3" y="577" text-anchor="middle" textLength="27.6" lengthAdjust="spacingAndGlyphs">280</text><text x="1073.3" y="577" text-anchor="middle" textLength="27.6" lengthAdjust="spacingAndGlyphs">290</text><text x="1101.3" y="577" text-anchor="middle" textLength="27.6" lengthAdjust="spacingAndGlyphs">300</text><text x="1130.3" y="577" text-anchor="middle" textLength="27.6" lengthAdjust="spacingAndGlyphs">310</text><text x="1158.3" y="577" text-anchor="middle" textLength="27.6" lengthAdjust="spacingAndGlyphs">320</text><text x="1186.3" y="577" text-anchor="middle" textLength="27.6" lengthAdjust="spacingAndGlyphs">330</text><text x="1215.3" y="577" text-anchor="middle" textLength="27.6" lengthAdjust="spacingAndGlyphs">340</text><text x="1243.3" y="577" text-anchor="middle" textLength="27.6" lengthAdjust="spacingAndGlyphs">350</text><text x="1271.3" y="577" text-anchor="middle" textLength="27.6" lengthAdjust="spacingAndGlyphs">360</text><text x="1299.3" y="577" text-anchor="middle" textLength="27.6" lengthAdjust="spacingAndGlyphs">370</text><text x="1328.3" y="577" text-anchor="middle" textLength="27.6" lengthAdjust="spacingAndGlyphs">380</text><text x="1356.3" y="577" text-anchor="middle" textLength="27.6" lengthAdjust="spacingAndGlyphs">390</text><text x="1384.3" y="577" text-anchor="middle" textLength="27.6" lengthAdjust="spacingAndGlyphs">400</text><text x="1413.3" y="577" text-anchor="middle" textLength="27.6" lengthAdjust="spacingAndGlyphs">410</text><text x="1441.3" y="577" text-anchor="middle" textLength="27.6" lengthAdjust="spacingAndGlyphs">420</text><text x="1469.3" y="577" text-anchor="middle" textLength="27.6" lengthAdjust="spacingAndGlyphs">430</text><text x="1497.3" y="577" text-anchor="middle" textLength="27.6" lengthAdjust="spacingAndGlyphs">440</text><text x="1526.3" y="577" text-anchor="middle" textLength="27.6" lengthAdjust="spacingAndGlyphs">450</text><text x="1554.3" y="577" text-anchor="middle" textLength="27.6" lengthAdjust="spacingAndGlyphs">460</text><text x="1582.3" y="577" text-anchor="middle" textLength="27.6" lengthAdjust="spacingAndGlyphs">470</text><text x="1610.3" y="577" text-anchor="middle" textLength="27.6" lengthAdjust="spacingAndGlyphs">480</text><text x="1639.3" y="577" text-anchor="middle" textLength="27.6" lengthAdjust="spacingAndGlyphs">490</text><text x="1667.3" y="577" text-anchor="middle" textLength="27.6" lengthAdjust="spacingAndGlyphs">500</text><text x="1695.3" y="577" text-anchor="middle" textLength="27.6" lengthAdjust="spacingAndGlyphs">510</text><text x="1724.3" y="577" text-anchor="middle" textLength="27.6" lengthAdjust="spacingAndGlyphs">520</text><text x="1752.3" y="577" text-anchor="middle" textLength="27.6" lengthAdjust="spacingAndGlyphs">530</text><text x="1780.3" y="577" text-anchor="middle" textLength="27.6" lengthAdjust="spacingAndGlyphs">540</text><text x="240.18" y="358.1" text-anchor="end" textLength="23.21" lengthAdjust="spacingAndGlyphs">0.6</text><text x="240.18" y="409.1" text-anchor="end" textLength="23.21" lengthAdjust="spacingAndGlyphs">0.4</text><text x="240.18" y="460.1" text-anchor="end" textLength="23.21" lengthAdjust="spacingAndGlyphs">0.2</text><text x="240.18" y="511.1" text-anchor="end" textLength="23.21" lengthAdjust="spacingAndGlyphs">0.0</text><text x="240.18" y="562.1" text-anchor="end" textLength="34.85" lengthAdjust="spacingAndGlyphs">−0.2</text><text x="253.3" y="822" text-anchor="middle" textLength="8.27" lengthAdjust="spacingAndGlyphs">0</text><text x="281.3" y="822" text-anchor="middle" textLength="17.93" lengthAdjust="spacingAndGlyphs">10</text><text x="309.3" y="822" text-anchor="middle" textLength="17.93" lengthAdjust="spacingAndGlyphs">20</text><text x="338.3" y="822" text-anchor="middle" textLength="17.93" lengthAdjust="spacingAndGlyphs">30</text><text x="366.3" y="822" text-anchor="middle" textLength="17.93" lengthAdjust="spacingAndGlyphs">40</text><text x="394.3" y="822" text-anchor="middle" textLength="17.93" lengthAdjust="spacingAndGlyphs">50</text><text x="423.3" y="822" text-anchor="middle" textLength="17.93" lengthAdjust="spacingAndGlyphs">60</text><text x="451.3" y="822" text-anchor="middle" textLength="17.93" lengthAdjust="spacingAndGlyphs">70</text><text x="479.3" y="822" text-anchor="middle" textLength="17.93" lengthAdjust="spacingAndGlyphs">80</text><text x="507.3" y="822" text-anchor="middle" textLength="17.93" lengthAdjust="spacingAndGlyphs">90</text><text x="536.3" y="822" text-anchor="middle" textLength="27.6" lengthAdjust="spacingAndGlyphs">100</text><text x="564.3" y="822" text-anchor="middle" textLength="27.6" lengthAdjust="spacingAndGlyphs">110</text><text x="592.3" y="822" text-anchor="middle" textLength="27.6" lengthAdjust="spacingAndGlyphs">120</text><text x="621.3" y="822" text-anchor="middle" textLength="27.6" lengthAdjust="spacingAndGlyphs">130</text><text x="649.3" y="822" text-anchor="middle" textLength="27.6" lengthAdjust="spacingAndGlyphs">140</text><text x="677.3" y="822" text-anchor="middle" textLength="27.6" lengthAdjust="spacingAndGlyphs">150</text><text x="705.3" y="822" text-anchor="middle" textLength="27.6" lengthAdjust="spacingAndGlyphs">160</text><text x="734.3" y="822" text-anchor="middle" textLength="27.6" lengthAdjust="spacingAndGlyphs">170</text><text x="762.3" y="822" text-anchor="middle" textLength="27.6" lengthAdjust="spacingAndGlyphs">180</text><text x="790.3" y="822" text-anchor="middle" textLength="27.6" lengthAdjust="spacingAndGlyphs">190</text><text x="819.3" y="822" text-anchor="middle" textLength="27.6" lengthAdjust="spacingAndGlyphs">200</text><text x="847.3" y="822" text-anchor="middle" textLength="27.6" lengthAdjust="spacingAndGlyphs">210</text><text x="875.3" y="822" text-anchor="middle" textLength="27.6" lengthAdjust="spacingAndGlyphs">220</text><text x="903.3" y="822" text-anchor="middle" textLength="27.6" lengthAdjust="spacingAndGlyphs">230</text><text x="932.3" y="822" text-anchor="middle" textLength="27.6" lengthAdjust="spacingAndGlyphs">240</text><text x="960.3" y="822" text-anchor="middle" textLength="27.6" lengthAdjust="spacingAndGlyphs">250</text><text x="988.3" y="822" text-anchor="middle" textLength="27.6" lengthAdjust="spacingAndGlyphs">260</text><text x="1017.3" y="822" text-anchor="middle" textLength="27.6" lengthAdjust="spacingAndGlyphs">270</text><text x="1045.3" y="822" text-anchor="middle" textLength="27.6" lengthAdjust="spacingAndGlyphs">280</text><text x="1073.3" y="822" text-anchor="middle" textLength="27.6" lengthAdjust="spacingAndGlyphs">290</text><text x="1101.3" y="822" text-anchor="middle" textLength="27.6" lengthAdjust="spacingAndGlyphs">300</text><text x="1130.3" y="822" text-anchor="middle" textLength="27.6" lengthAdjust="spacingAndGlyphs">310</text><text x="1158.3" y="822" text-anchor="middle" textLength="27.6" lengthAdjust="spacingAndGlyphs">320</text><text x="1186.3" y="822" text-anchor="middle" textLength="27.6" lengthAdjust="spacingAndGlyphs">330</text><text x="1215.3" y="822" text-anchor="middle" textLength="27.6" lengthAdjust="spacingAndGlyphs">340</text><text x="1243.3" y="822" text-anchor="middle" textLength="27.6" lengthAdjust="spacingAndGlyphs">350</text><text x="1271.3" y="822" text-anchor="middle" textLength="27.6" lengthAdjust="spacingAndGlyphs">360</text><text x="1299.3" y="822" text-anchor="middle" textLength="27.6" lengthAdjust="spacingAndGlyphs">370</text><text x="1328.3" y="822" text-anchor="middle" textLength="27.6" lengthAdjust="spacingAndGlyphs">380</text><text x="1356.3" y="822" text-anchor="middle" textLength="27.6" lengthAdjust="spacingAndGlyphs">390</text><text x="1384.3" y="822" text-anchor="middle" textLength="27.6" lengthAdjust="spacingAndGlyphs">400</text><text x="1413.3" y="822" text-anchor="middle" textLength="27.6" lengthAdjust="spacingAndGlyphs">410</text><text x="1441.3" y="822" text-anchor="middle" textLength="27.6" lengthAdjust="spacingAndGlyphs">420</text><text x="1469.3" y="822" text-anchor="middle" textLength="27.6" lengthAdjust="spacingAndGlyphs">430</text><text x="1497.3" y="822" text-anchor="middle" textLength="27.6" lengthAdjust="spacingAndGlyphs">440</text><text x="1526.3" y="822" text-anchor="middle" textLength="27.6" lengthAdjust="spacingAndGlyphs">450</text><text x="1554.3" y="822" text-anchor="middle" textLength="27.6" lengthAdjust="spacingAndGlyphs">460</text><text x="1582.3" y="822" text-anchor="middle" textLength="27.6" lengthAdjust="spacingAndGlyphs">470</text><text x="1610.3" y="822" text-anchor="middle" textLength="27.6" lengthAdjust="spacingAndGlyphs">480</text><text x="1639.3" y="822" text-anchor="middle" textLength="27.6" lengthAdjust="spacingAndGlyphs">490</text><text x="1667.3" y="822" text-anchor="middle" textLength="27.6" lengthAdjust="spacingAndGlyphs">500</text><text x="1695.3" y="822" text-anchor="middle" textLength="27.6" lengthAdjust="spacingAndGlyphs">510</text><text x="1724.3" y="822" text-anchor="middle" textLength="27.6" lengthAdjust="spacingAndGlyphs">520</text><text x="1752.3" y="822" text-anchor="middle" textLength="27.6" lengthAdjust="spacingAndGlyphs">530</text><text x="1780.3" y="822" text-anchor="middle" textLength="27.6" lengthAdjust="spacingAndGlyphs">540</text><text x="240.18" y="603.1" text-anchor="end" textLength="42.55" lengthAdjust="spacingAndGlyphs">0.100</text><text x="240.18" y="637.1" text-anchor="end" textLength="42.55" lengthAdjust="spacingAndGlyphs">0.075</text><text x="240.18" y="671.1" text-anchor="end" textLength="42.55" lengthAdjust="spacingAndGlyphs">0.050</text><text x="240.18" y="705.1" text-anchor="end" textLength="42.55" lengthAdjust="spacingAndGlyphs">0.025</text><text x="240.18" y="739.1" text-anchor="end" textLength="42.55" lengthAdjust="spacingAndGlyphs">0.000</text><text x="240.18" y="773.1" text-anchor="end" textLength="54.19" lengthAdjust="spacingAndGlyphs">−0.025</text><text x="240.18" y="807.1" text-anchor="end" textLength="54.19" lengthAdjust="spacingAndGlyphs">−0.050</text></g>
</svg></body></html>
